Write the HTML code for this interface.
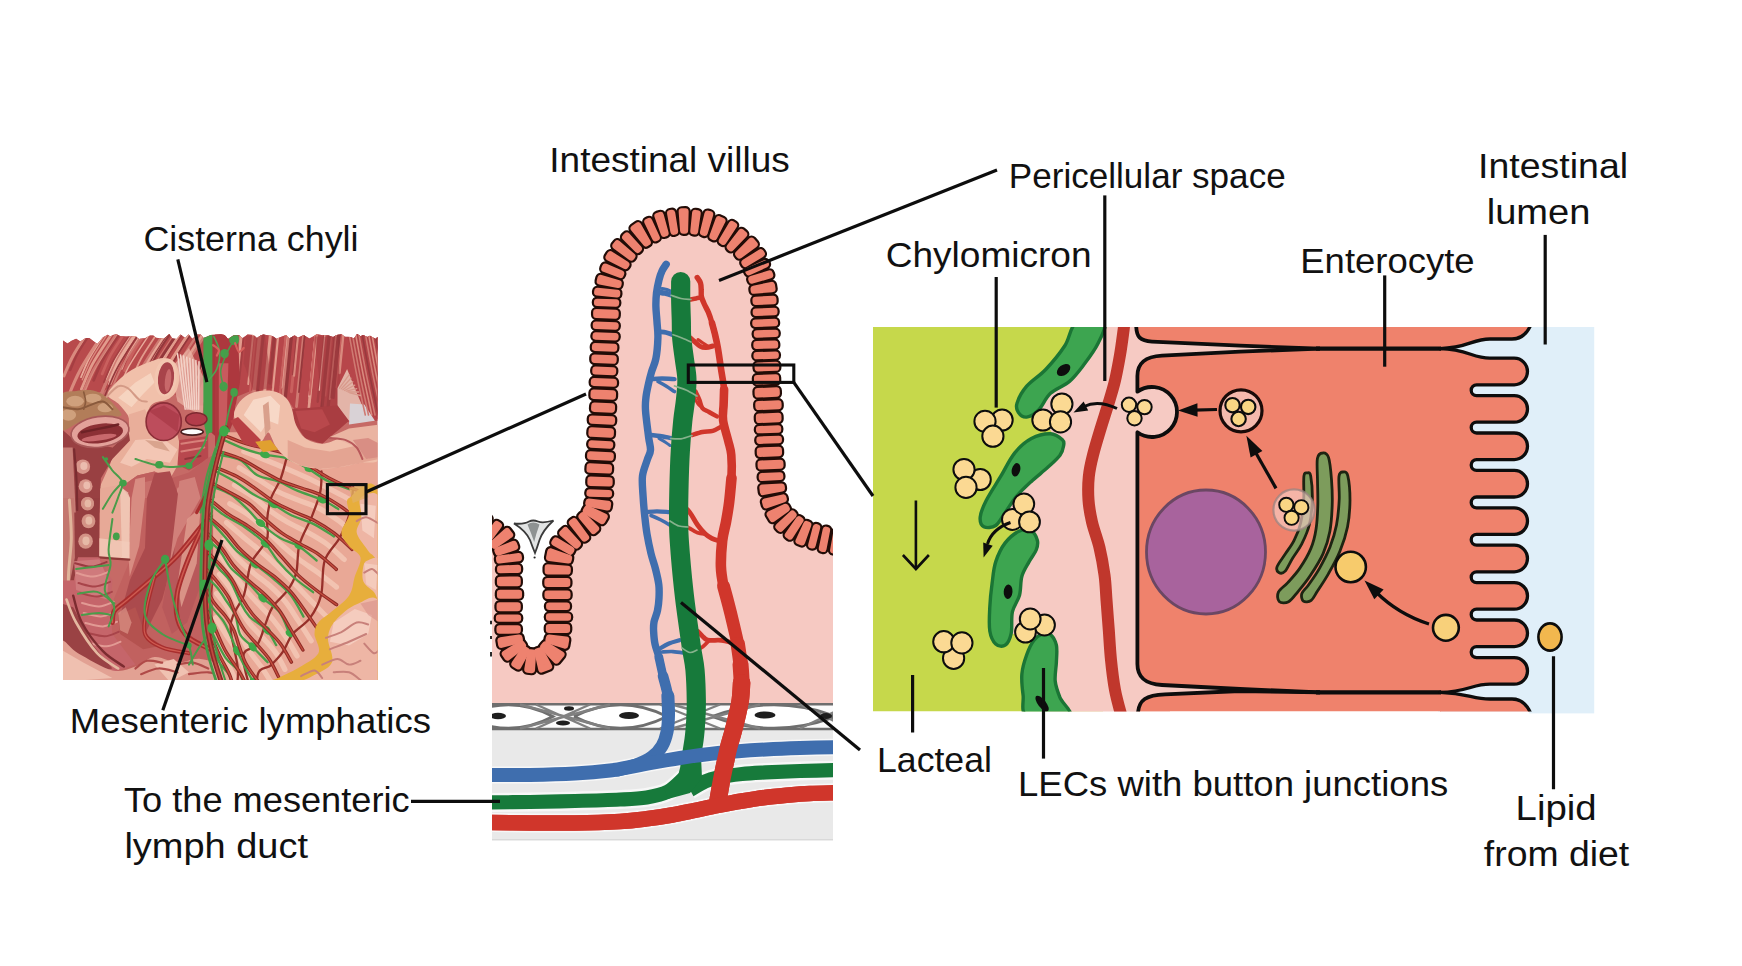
<!DOCTYPE html>
<html><head><meta charset="utf-8"><title>Intestinal lymphatics</title>
<style>html,body{margin:0;padding:0;background:#fff}svg{display:block}text{font-family:"Liberation Sans",sans-serif;fill:#111}</style>
</head><body>
<svg width="1742" height="966" viewBox="0 0 1742 966">
<rect width="1742" height="966" fill="#ffffff"/>
<defs><clipPath id="cpA"><polygon points="63.0,680.0 63.0,339.0 63.0,340.4 67.5,343.5 71.6,340.8 76.1,338.7 80.4,341.6 85.7,338.1 89.3,338.1 94.6,342.0 97.3,343.9 103.1,337.3 107.8,334.8 110.3,336.6 113.0,335.0 116.4,334.2 120.5,336.2 126.0,336.6 130.7,336.5 135.5,336.3 139.0,339.0 145.0,338.2 150.0,335.6 153.3,335.4 156.0,337.8 159.9,338.2 163.8,338.8 169.2,334.0 172.5,338.6 176.6,338.9 180.5,334.4 185.2,337.9 188.6,334.4 192.3,338.8 197.5,334.6 200.8,334.5 203.5,338.0 206.7,336.8 210.7,335.0 215.8,334.7 220.5,334.6 224.5,335.1 228.0,338.9 233.3,335.5 238.9,335.1 242.7,338.3 247.5,334.5 253.5,335.1 256.9,337.9 260.5,335.5 263.3,334.5 267.8,335.2 272.4,335.9 276.5,338.8 280.7,336.9 286.2,334.9 289.3,338.5 294.6,335.2 297.8,337.7 303.6,335.0 309.4,338.4 314.0,336.1 316.9,334.2 322.8,335.2 327.7,335.3 333.1,337.0 336.6,334.9 341.6,334.3 344.9,336.8 350.4,337.1 353.9,338.6 357.1,334.1 360.6,336.2 363.3,334.9 367.1,336.9 370.0,335.8 375.6,338.9 377.5,337.0 377.5,680.0"/></clipPath></defs>
<g clip-path="url(#cpA)">
<rect x="60" y="330" width="320" height="352" fill="#c66a66"/>
<polygon points="60.7,332.7 225.0,332.7 225.0,405.4 189.0,405.4 154.5,378.6 118.2,380.5 102.9,392.0 60.7,393.9" fill="#b84a4c" stroke="none" stroke-width="0" />
<polygon points="215.0,332.7 379.6,332.7 379.6,420.7 349.0,422.6 337.5,407.3 295.4,411.1 287.7,399.7 253.3,390.1 234.1,397.7 215.0,405.4" fill="#b7464a" stroke="none" stroke-width="0" />
<path d="M179.4,332.7C176.0,338.1 164.2,355.2 158.8,365.0C153.4,374.8 149.0,387.1 147.1,391.5" fill="none" stroke="#e8aa9a" stroke-width="2.631931376373605" stroke-linecap="round" stroke-linejoin="round" />
<path d="M198.6,332.7C196.4,336.1 188.9,347.0 185.5,353.2C182.1,359.4 179.3,367.2 178.0,370.0" fill="none" stroke="#cf7a72" stroke-width="2.4344697328590974" stroke-linecap="round" stroke-linejoin="round" />
<path d="M145.7,332.7C143.5,336.1 135.9,347.2 132.4,353.6C128.9,359.9 126.1,367.9 124.8,370.7" fill="none" stroke="#c9605e" stroke-width="3.07538477739629" stroke-linecap="round" stroke-linejoin="round" />
<path d="M105.5,332.7C102.9,336.7 94.0,349.7 89.9,357.1C85.9,364.5 82.5,373.7 81.0,377.1" fill="none" stroke="#e8aa9a" stroke-width="1.817945382237076" stroke-linecap="round" stroke-linejoin="round" />
<path d="M169.0,332.7C165.4,338.2 153.4,355.7 147.9,365.8C142.4,375.8 137.9,388.3 135.9,392.8" fill="none" stroke="#d98a7e" stroke-width="2.2626706134418217" stroke-linecap="round" stroke-linejoin="round" />
<path d="M150.4,332.7C146.8,338.3 134.5,356.2 128.9,366.4C123.3,376.6 118.7,389.4 116.7,394.0" fill="none" stroke="#e8aa9a" stroke-width="1.4005664603111132" stroke-linecap="round" stroke-linejoin="round" />
<path d="M112.5,332.7C109.2,337.8 97.9,354.3 92.7,363.7C87.6,373.1 83.3,384.9 81.4,389.1" fill="none" stroke="#e29b8c" stroke-width="2.7537233811486503" stroke-linecap="round" stroke-linejoin="round" />
<path d="M141.9,332.7C139.8,336.0 132.5,346.7 129.2,352.8C125.8,358.8 123.1,366.5 121.8,369.2" fill="none" stroke="#e8aa9a" stroke-width="1.2909298792772343" stroke-linecap="round" stroke-linejoin="round" />
<path d="M204.0,332.7C200.3,338.6 187.3,357.5 181.4,368.3C175.4,379.1 170.6,392.6 168.4,397.4" fill="none" stroke="#e29b8c" stroke-width="3.1122796204784993" stroke-linecap="round" stroke-linejoin="round" />
<path d="M135.5,332.7C131.7,338.6 118.7,357.5 112.8,368.3C106.8,379.2 102.0,392.7 99.8,397.5" fill="none" stroke="#cf7a72" stroke-width="3.1152515756901837" stroke-linecap="round" stroke-linejoin="round" />
<path d="M171.0,332.7C168.5,336.6 160.0,349.1 156.0,356.2C152.1,363.3 148.9,372.2 147.5,375.4" fill="none" stroke="#c9605e" stroke-width="1.3996710708003282" stroke-linecap="round" stroke-linejoin="round" />
<path d="M222.0,332.7C219.2,337.1 209.6,351.1 205.2,359.1C200.8,367.1 197.2,377.2 195.6,380.8" fill="none" stroke="#d98a7e" stroke-width="1.8430916805366842" stroke-linecap="round" stroke-linejoin="round" />
<path d="M108.3,332.7C105.5,337.0 96.1,350.7 91.8,358.6C87.4,366.5 83.9,376.3 82.3,379.8" fill="none" stroke="#d98a7e" stroke-width="1.3205442009895014" stroke-linecap="round" stroke-linejoin="round" />
<path d="M206.8,332.7C203.4,338.0 191.7,355.1 186.3,364.8C181.0,374.5 176.6,386.7 174.6,391.1" fill="none" stroke="#cf7a72" stroke-width="2.289510768707416" stroke-linecap="round" stroke-linejoin="round" />
<path d="M132.2,332.7C129.5,336.9 120.2,350.4 116.0,358.1C111.7,365.9 108.2,375.5 106.7,379.0" fill="none" stroke="#e8aa9a" stroke-width="1.6819074495268835" stroke-linecap="round" stroke-linejoin="round" />
<path d="M190.1,332.7C186.6,338.1 174.8,355.4 169.3,365.3C163.9,375.2 159.5,387.5 157.5,392.0" fill="none" stroke="#a53e42" stroke-width="1.4065011282166873" stroke-linecap="round" stroke-linejoin="round" />
<path d="M103.9,332.7C100.0,338.8 86.5,358.4 80.4,369.7C74.2,380.9 69.1,394.9 66.9,399.9" fill="none" stroke="#d98a7e" stroke-width="3.145219038917318" stroke-linecap="round" stroke-linejoin="round" />
<path d="M143.6,332.7C140.0,338.3 127.6,356.4 121.9,366.8C116.2,377.1 111.6,390.0 109.5,394.7" fill="none" stroke="#cf7a72" stroke-width="1.8894469785671575" stroke-linecap="round" stroke-linejoin="round" />
<path d="M138.8,332.7C135.8,337.3 125.6,352.3 120.9,360.8C116.2,369.3 112.4,379.9 110.7,383.8" fill="none" stroke="#d98a7e" stroke-width="2.2727414239251242" stroke-linecap="round" stroke-linejoin="round" />
<path d="M181.2,332.7C178.9,336.3 170.8,348.1 167.1,354.8C163.5,361.5 160.4,369.9 159.1,372.9" fill="none" stroke="#e29b8c" stroke-width="2.372168668369917" stroke-linecap="round" stroke-linejoin="round" />
<path d="M119.9,332.7C117.1,337.0 107.6,350.9 103.2,358.8C98.8,366.8 95.3,376.7 93.7,380.2" fill="none" stroke="#a53e42" stroke-width="2.8028849666751654" stroke-linecap="round" stroke-linejoin="round" />
<path d="M137.4,332.7C134.4,337.4 124.1,352.4 119.4,360.9C114.7,369.5 110.8,380.2 109.1,384.1" fill="none" stroke="#e8aa9a" stroke-width="2.154344005524864" stroke-linecap="round" stroke-linejoin="round" />
<path d="M177.8,332.7C174.0,338.6 161.1,357.3 155.2,368.1C149.4,378.8 144.5,392.2 142.4,397.0" fill="none" stroke="#93373b" stroke-width="2.7181717288039526" stroke-linecap="round" stroke-linejoin="round" />
<path d="M87.8,332.7C85.2,336.6 76.6,349.2 72.7,356.4C68.7,363.6 65.5,372.6 64.0,375.8" fill="none" stroke="#d98a7e" stroke-width="3.0807604070928045" stroke-linecap="round" stroke-linejoin="round" />
<path d="M157.6,332.7C154.8,337.0 145.3,350.8 141.0,358.7C136.6,366.7 133.1,376.5 131.5,380.1" fill="none" stroke="#e29b8c" stroke-width="1.7977760703846202" stroke-linecap="round" stroke-linejoin="round" />
<path d="M222.0,332.7C218.6,338.0 206.9,355.2 201.5,364.9C196.1,374.7 191.7,387.0 189.8,391.4" fill="none" stroke="#93373b" stroke-width="2.1993168816161255" stroke-linecap="round" stroke-linejoin="round" />
<path d="M124.9,332.7C122.5,336.4 114.2,348.5 110.4,355.3C106.7,362.2 103.6,370.8 102.2,373.9" fill="none" stroke="#c9605e" stroke-width="2.757301957696913" stroke-linecap="round" stroke-linejoin="round" />
<path d="M189.4,332.7C185.9,338.1 173.9,355.6 168.4,365.6C162.9,375.5 158.5,388.0 156.5,392.5" fill="none" stroke="#e29b8c" stroke-width="3.1927989919807485" stroke-linecap="round" stroke-linejoin="round" />
<path d="M90.9,332.7C88.7,336.1 81.2,347.0 77.8,353.2C74.4,359.5 71.5,367.3 70.3,370.1" fill="none" stroke="#a53e42" stroke-width="2.321428265972194" stroke-linecap="round" stroke-linejoin="round" />
<path d="M191.9,332.7C188.9,337.4 178.7,352.3 174.0,360.8C169.3,369.4 165.4,380.0 163.7,383.9" fill="none" stroke="#93373b" stroke-width="1.7564323828954258" stroke-linecap="round" stroke-linejoin="round" />
<path d="M139.2,332.7C137.0,336.1 129.5,347.0 126.1,353.2C122.6,359.5 119.8,367.3 118.6,370.1" fill="none" stroke="#c9605e" stroke-width="1.1225559082173655" stroke-linecap="round" stroke-linejoin="round" />
<path d="M166.3,332.7C162.3,338.9 148.7,358.8 142.4,370.2C136.2,381.6 131.0,395.8 128.8,401.0" fill="none" stroke="#e29b8c" stroke-width="2.8445444185698907" stroke-linecap="round" stroke-linejoin="round" />
<path d="M166.1,332.7C163.2,337.2 153.3,351.8 148.7,360.1C144.1,368.4 140.4,378.8 138.7,382.5" fill="none" stroke="#e8aa9a" stroke-width="1.2921093731140973" stroke-linecap="round" stroke-linejoin="round" />
<path d="M117.9,332.7C114.1,338.5 101.4,357.1 95.5,367.8C89.7,378.4 84.9,391.7 82.7,396.5" fill="none" stroke="#d98a7e" stroke-width="1.8205947811032814" stroke-linecap="round" stroke-linejoin="round" />
<path d="M135.9,332.7C132.1,338.5 119.3,357.2 113.4,367.9C107.5,378.6 102.7,392.0 100.6,396.8" fill="none" stroke="#cf7a72" stroke-width="1.9969408096999477" stroke-linecap="round" stroke-linejoin="round" />
<path d="M229.4,332.7C226.0,338.0 214.2,355.2 208.9,365.0C203.5,374.8 199.1,387.0 197.1,391.4" fill="none" stroke="#a53e42" stroke-width="1.9977879771015714" stroke-linecap="round" stroke-linejoin="round" />
<path d="M131.1,332.7C128.2,337.2 118.3,351.6 113.7,359.9C109.2,368.1 105.5,378.5 103.8,382.2" fill="none" stroke="#a53e42" stroke-width="1.6028781670350565" stroke-linecap="round" stroke-linejoin="round" />
<path d="M116.8,332.7C112.8,338.9 99.3,358.6 93.1,369.8C86.9,381.1 81.8,395.2 79.6,400.3" fill="none" stroke="#cf7a72" stroke-width="1.8294016451278403" stroke-linecap="round" stroke-linejoin="round" />
<path d="M170.9,332.7C168.4,336.5 160.0,348.8 156.1,355.9C152.2,362.9 149.1,371.7 147.6,374.9" fill="none" stroke="#93373b" stroke-width="2.0985093914654676" stroke-linecap="round" stroke-linejoin="round" />
<path d="M164.0,332.7C160.3,338.6 147.4,357.4 141.4,368.2C135.5,379.0 130.7,392.4 128.5,397.3" fill="none" stroke="#cf7a72" stroke-width="2.1333935195240508" stroke-linecap="round" stroke-linejoin="round" />
<path d="M136.4,332.7C133.6,337.1 124.0,351.0 119.6,359.0C115.2,367.0 111.6,377.0 110.0,380.6" fill="none" stroke="#e8aa9a" stroke-width="2.729249675194427" stroke-linecap="round" stroke-linejoin="round" />
<path d="M168.6,332.7C165.8,337.1 156.1,351.1 151.7,359.2C147.3,367.2 143.7,377.2 142.1,380.9" fill="none" stroke="#93373b" stroke-width="1.075500776404181" stroke-linecap="round" stroke-linejoin="round" />
<path d="M183.4,332.7C180.8,336.8 171.8,349.9 167.6,357.4C163.5,364.9 160.1,374.3 158.6,377.7" fill="none" stroke="#a53e42" stroke-width="1.6178745227866729" stroke-linecap="round" stroke-linejoin="round" />
<path d="M229.4,332.7C226.1,337.9 214.6,354.7 209.3,364.3C204.0,373.9 199.7,385.9 197.8,390.2" fill="none" stroke="#93373b" stroke-width="2.575167644370157" stroke-linecap="round" stroke-linejoin="round" />
<path d="M174.9,332.7C171.4,338.3 159.0,356.3 153.4,366.5C147.8,376.8 143.1,389.6 141.1,394.2" fill="none" stroke="#cf7a72" stroke-width="1.025477445449445" stroke-linecap="round" stroke-linejoin="round" />
<path d="M139.6,332.7C136.0,338.4 123.4,356.8 117.6,367.3C111.8,377.8 107.1,390.9 105.0,395.6" fill="none" stroke="#93373b" stroke-width="1.602107238907112" stroke-linecap="round" stroke-linejoin="round" />
<path d="M329.7,332.7C329.3,336.9 328.0,349.7 327.1,358.3C326.3,366.8 325.0,379.6 324.6,383.9" fill="none" stroke="#c9605e" stroke-width="2.914302272020053" stroke-linecap="round" stroke-linejoin="round" />
<path d="M286.9,332.7C286.5,337.2 285.1,350.7 284.2,359.8C283.3,368.8 282.0,382.4 281.5,386.9" fill="none" stroke="#ebb0a2" stroke-width="3.2500364392075896" stroke-linecap="round" stroke-linejoin="round" />
<path d="M357.4,332.7C359.5,339.3 365.9,359.1 370.1,372.4C374.3,385.6 380.7,405.5 382.8,412.1" fill="none" stroke="#9d3a3e" stroke-width="3.0877870059067867" stroke-linecap="round" stroke-linejoin="round" />
<path d="M373.5,332.7C374.8,336.7 378.6,348.7 381.2,356.8C383.8,364.8 387.6,376.8 388.9,380.8" fill="none" stroke="#96383c" stroke-width="2.243534633073655" stroke-linecap="round" stroke-linejoin="round" />
<path d="M289.3,332.7C288.7,338.3 287.0,355.3 285.9,366.7C284.7,378.0 283.0,395.0 282.5,400.7" fill="none" stroke="#cf7a72" stroke-width="3.0492515053255365" stroke-linecap="round" stroke-linejoin="round" />
<path d="M339.9,332.7C339.4,338.1 337.8,354.3 336.7,365.2C335.6,376.0 334.0,392.2 333.4,397.7" fill="none" stroke="#96383c" stroke-width="2.7528482213610417" stroke-linecap="round" stroke-linejoin="round" />
<path d="M370.6,332.7C372.0,337.0 376.2,350.1 379.0,358.8C381.8,367.6 386.0,380.7 387.4,385.0" fill="none" stroke="#ebb0a2" stroke-width="2.239492446164302" stroke-linecap="round" stroke-linejoin="round" />
<path d="M316.3,332.7C315.8,338.4 314.0,355.7 312.9,367.2C311.7,378.8 310.0,396.1 309.4,401.8" fill="none" stroke="#cf7a72" stroke-width="3.081107532445192" stroke-linecap="round" stroke-linejoin="round" />
<path d="M241.9,332.7C241.3,338.1 239.7,354.4 238.6,365.3C237.5,376.2 235.9,392.5 235.4,397.9" fill="none" stroke="#9d3a3e" stroke-width="1.3840553626975096" stroke-linecap="round" stroke-linejoin="round" />
<path d="M263.6,332.7C263.0,338.1 261.4,354.5 260.3,365.4C259.2,376.4 257.6,392.8 257.0,398.2" fill="none" stroke="#96383c" stroke-width="2.8215931717030505" stroke-linecap="round" stroke-linejoin="round" />
<path d="M243.9,332.7C243.5,336.6 242.3,348.3 241.6,356.1C240.8,363.9 239.6,375.6 239.2,379.5" fill="none" stroke="#a53e42" stroke-width="2.131805210943698" stroke-linecap="round" stroke-linejoin="round" />
<path d="M364.3,332.7C365.9,337.6 370.7,352.5 373.8,362.5C377.0,372.4 381.8,387.3 383.4,392.3" fill="none" stroke="#96383c" stroke-width="1.2659892019751817" stroke-linecap="round" stroke-linejoin="round" />
<path d="M315.7,332.7C315.2,337.3 313.8,351.2 312.9,360.4C312.0,369.7 310.6,383.5 310.1,388.1" fill="none" stroke="#c9605e" stroke-width="1.9971754574536709" stroke-linecap="round" stroke-linejoin="round" />
<path d="M324.6,332.7C324.1,338.4 322.3,355.7 321.2,367.2C320.0,378.7 318.3,396.0 317.7,401.7" fill="none" stroke="#a53e42" stroke-width="2.416394565183513" stroke-linecap="round" stroke-linejoin="round" />
<path d="M291.0,332.7C290.3,338.9 288.5,357.5 287.2,370.0C286.0,382.4 284.1,401.1 283.5,407.3" fill="none" stroke="#cf7a72" stroke-width="1.8412489188678693" stroke-linecap="round" stroke-linejoin="round" />
<path d="M360.7,332.7C362.8,339.2 369.1,359.0 373.3,372.1C377.6,385.3 383.9,405.0 386.0,411.6" fill="none" stroke="#c9605e" stroke-width="2.653252837026776" stroke-linecap="round" stroke-linejoin="round" />
<path d="M315.9,332.7C315.4,337.8 313.8,353.4 312.8,363.7C311.7,374.1 310.2,389.6 309.7,394.8" fill="none" stroke="#cf7a72" stroke-width="1.7233178692130147" stroke-linecap="round" stroke-linejoin="round" />
<path d="M286.1,332.7C285.4,338.8 283.6,357.0 282.4,369.2C281.2,381.4 279.3,399.7 278.7,405.8" fill="none" stroke="#c9605e" stroke-width="2.3941509716485463" stroke-linecap="round" stroke-linejoin="round" />
<path d="M297.3,332.7C296.9,337.6 295.4,352.3 294.4,362.2C293.4,372.0 291.9,386.7 291.4,391.7" fill="none" stroke="#c9605e" stroke-width="2.9511756401762983" stroke-linecap="round" stroke-linejoin="round" />
<path d="M260.2,332.7C259.5,339.2 257.6,358.9 256.2,372.0C254.9,385.1 253.0,404.8 252.3,411.3" fill="none" stroke="#9d3a3e" stroke-width="1.9185912769530855" stroke-linecap="round" stroke-linejoin="round" />
<path d="M375.1,332.7C377.1,338.8 382.9,357.1 386.8,369.3C390.7,381.5 396.6,399.8 398.5,405.9" fill="none" stroke="#c9605e" stroke-width="2.4606637434511995" stroke-linecap="round" stroke-linejoin="round" />
<path d="M331.7,332.7C331.2,337.9 329.6,353.6 328.6,364.1C327.5,374.6 325.9,390.4 325.4,395.6" fill="none" stroke="#c9605e" stroke-width="1.9164491672739685" stroke-linecap="round" stroke-linejoin="round" />
<path d="M325.1,332.7C324.6,337.4 323.2,351.8 322.2,361.4C321.3,371.0 319.9,385.3 319.4,390.1" fill="none" stroke="#ebb0a2" stroke-width="1.3376811622161828" stroke-linecap="round" stroke-linejoin="round" />
<path d="M376.3,332.7C378.5,339.3 384.8,359.1 389.0,372.3C393.3,385.5 399.6,405.3 401.7,412.0" fill="none" stroke="#9d3a3e" stroke-width="2.184184484925769" stroke-linecap="round" stroke-linejoin="round" />
<path d="M291.8,332.7C291.2,338.0 289.6,354.0 288.6,364.7C287.5,375.4 285.9,391.5 285.4,396.8" fill="none" stroke="#96383c" stroke-width="3.3067338321500634" stroke-linecap="round" stroke-linejoin="round" />
<path d="M274.8,332.7C274.4,336.8 273.1,349.4 272.3,357.8C271.4,366.2 270.2,378.8 269.8,383.0" fill="none" stroke="#9d3a3e" stroke-width="3.3543533498192315" stroke-linecap="round" stroke-linejoin="round" />
<path d="M240.8,332.7C240.3,337.7 238.8,352.6 237.8,362.6C236.8,372.6 235.3,387.6 234.8,392.6" fill="none" stroke="#cf7a72" stroke-width="3.268422555642304" stroke-linecap="round" stroke-linejoin="round" />
<path d="M278.5,332.7C278.0,338.2 276.3,354.9 275.2,366.0C274.1,377.2 272.4,393.8 271.9,399.4" fill="none" stroke="#e29b8c" stroke-width="2.1446456794221684" stroke-linecap="round" stroke-linejoin="round" />
<path d="M374.1,332.7C376.0,338.6 381.7,356.5 385.6,368.5C389.4,380.4 395.1,398.3 397.0,404.3" fill="none" stroke="#d98a7e" stroke-width="1.5892007343727905" stroke-linecap="round" stroke-linejoin="round" />
<path d="M355.1,332.7C356.4,336.8 360.4,349.3 363.1,357.7C365.8,366.0 369.8,378.5 371.1,382.6" fill="none" stroke="#cf7a72" stroke-width="1.031687911992608" stroke-linecap="round" stroke-linejoin="round" />
<path d="M305.2,332.7C304.7,336.9 303.5,349.6 302.6,358.1C301.8,366.6 300.5,379.4 300.1,383.6" fill="none" stroke="#9d3a3e" stroke-width="1.0882310553609162" stroke-linecap="round" stroke-linejoin="round" />
<path d="M259.9,332.7C259.4,337.7 257.9,352.7 256.9,362.7C255.9,372.7 254.4,387.7 253.9,392.7" fill="none" stroke="#cf7a72" stroke-width="3.373180489880954" stroke-linecap="round" stroke-linejoin="round" />
<path d="M378.6,332.7C379.7,336.1 382.9,346.3 385.1,353.1C387.3,359.9 390.6,370.1 391.6,373.5" fill="none" stroke="#e29b8c" stroke-width="2.24372574051994" stroke-linecap="round" stroke-linejoin="round" />
<path d="M255.8,332.7C255.3,338.1 253.7,354.3 252.6,365.1C251.5,375.9 249.9,392.1 249.3,397.5" fill="none" stroke="#c9605e" stroke-width="1.6776338672667368" stroke-linecap="round" stroke-linejoin="round" />
<path d="M341.6,332.7C341.1,337.2 339.7,350.9 338.8,360.0C337.9,369.1 336.6,382.8 336.1,387.4" fill="none" stroke="#c9605e" stroke-width="1.0638779961646212" stroke-linecap="round" stroke-linejoin="round" />
<path d="M343.5,332.7C343.2,336.0 342.2,346.1 341.5,352.8C340.8,359.5 339.8,369.6 339.5,373.0" fill="none" stroke="#d98a7e" stroke-width="2.417931272968285" stroke-linecap="round" stroke-linejoin="round" />
<path d="M316.3,332.7C315.7,339.0 313.8,358.0 312.6,370.6C311.3,383.3 309.4,402.2 308.8,408.6" fill="none" stroke="#e29b8c" stroke-width="2.6457589253766516" stroke-linecap="round" stroke-linejoin="round" />
<path d="M315.3,332.7C314.7,338.0 313.1,354.0 312.1,364.7C311.0,375.4 309.4,391.4 308.9,396.8" fill="none" stroke="#ebb0a2" stroke-width="1.0349452393592093" stroke-linecap="round" stroke-linejoin="round" />
<path d="M335.6,332.7C335.0,338.9 333.1,357.6 331.8,370.0C330.6,382.5 328.7,401.2 328.1,407.4" fill="none" stroke="#9d3a3e" stroke-width="3.287842797617352" stroke-linecap="round" stroke-linejoin="round" />
<path d="M357.1,332.7C359.2,339.0 365.3,358.1 369.4,370.8C373.4,383.6 379.5,402.6 381.6,409.0" fill="none" stroke="#a53e42" stroke-width="2.1417273353075803" stroke-linecap="round" stroke-linejoin="round" />
<path d="M303.9,332.7C303.2,338.8 301.4,357.3 300.2,369.6C298.9,381.9 297.1,400.3 296.5,406.5" fill="none" stroke="#cf7a72" stroke-width="2.8196721446404625" stroke-linecap="round" stroke-linejoin="round" />
<path d="M336.4,332.7C335.8,338.2 334.2,354.7 333.1,365.8C332.0,376.8 330.3,393.4 329.8,398.9" fill="none" stroke="#cf7a72" stroke-width="2.0387682422777282" stroke-linecap="round" stroke-linejoin="round" />
<path d="M304.9,332.7C304.4,337.6 302.9,352.5 301.9,362.4C300.9,372.3 299.5,387.1 299.0,392.1" fill="none" stroke="#96383c" stroke-width="1.7462815846684725" stroke-linecap="round" stroke-linejoin="round" />
<path d="M315.8,332.7C315.2,337.8 313.7,353.3 312.7,363.6C311.6,373.9 310.1,389.3 309.6,394.5" fill="none" stroke="#c9605e" stroke-width="2.194436615221295" stroke-linecap="round" stroke-linejoin="round" />
<path d="M298.3,332.7C297.9,336.2 296.8,347.0 296.1,354.1C295.4,361.3 294.3,372.0 294.0,375.6" fill="none" stroke="#d98a7e" stroke-width="2.299374946567232" stroke-linecap="round" stroke-linejoin="round" />
<path d="M270.6,332.7C270.0,338.2 268.3,355.0 267.2,366.1C266.1,377.2 264.4,394.0 263.9,399.5" fill="none" stroke="#e29b8c" stroke-width="2.9670249656175884" stroke-linecap="round" stroke-linejoin="round" />
<path d="M241.6,332.7C240.9,339.4 238.9,359.4 237.6,372.8C236.2,386.2 234.2,406.3 233.6,413.0" fill="none" stroke="#e29b8c" stroke-width="2.7342366056919607" stroke-linecap="round" stroke-linejoin="round" />
<path d="M337.3,332.7C336.9,336.7 335.7,349.0 334.9,357.2C334.0,365.3 332.8,377.6 332.4,381.7" fill="none" stroke="#e29b8c" stroke-width="1.1173430166848006" stroke-linecap="round" stroke-linejoin="round" />
<path d="M329.5,332.7C328.8,339.3 326.8,359.4 325.4,372.7C324.1,386.1 322.1,406.1 321.4,412.8" fill="none" stroke="#96383c" stroke-width="3.2853880306092957" stroke-linecap="round" stroke-linejoin="round" />
<path d="M338.0,332.7C337.4,338.1 335.8,354.2 334.7,365.0C333.6,375.8 332.0,392.0 331.5,397.4" fill="none" stroke="#96383c" stroke-width="2.0511289623331423" stroke-linecap="round" stroke-linejoin="round" />
<path d="M296.6,332.7C296.3,336.2 295.2,346.6 294.5,353.6C293.8,360.6 292.8,371.1 292.4,374.6" fill="none" stroke="#a53e42" stroke-width="1.3868317437272297" stroke-linecap="round" stroke-linejoin="round" />
<path d="M253.3,332.7C252.9,336.9 251.6,349.8 250.7,358.4C249.9,367.0 248.6,379.8 248.2,384.1" fill="none" stroke="#e29b8c" stroke-width="1.9100777342115531" stroke-linecap="round" stroke-linejoin="round" />
<polygon points="245.6,336.5 264.8,334.6 272.4,388.2 253.3,390.1 243.7,363.3" fill="#a63e42" stroke="none" stroke-width="0" opacity="0.55"/>
<polygon points="314.5,336.5 337.5,336.5 341.4,405.4 322.2,407.3" fill="#a43c40" stroke="none" stroke-width="0" opacity="0.5"/>
<polygon points="347.1,336.5 352.8,332.7 379.6,332.7 379.6,420.7 372.4,415.0 360.5,382.4" fill="#b24246" stroke="none" stroke-width="0" />
<polygon points="337.5,388.2 347.1,369.0 354.8,388.2 366.2,415.0 368.2,420.7 347.1,420.7 337.5,405.4" fill="#e3b4a8" stroke="none" stroke-width="0" />
<polygon points="350.0,403.5 364.3,404.4 374.9,420.7 349.0,424.5" fill="#d9d2d6" stroke="none" stroke-width="0" />
<path d="M349.0,333.6C350.3,340.5 354.0,361.2 356.7,374.8C359.4,388.3 363.8,408.3 365.3,415.0" fill="none" stroke="#cf7a72" stroke-width="1.6" stroke-linecap="round" stroke-linejoin="round" />
<path d="M352.3,333.6C353.5,340.5 357.2,361.2 359.9,374.8C362.6,388.3 367.1,408.3 368.5,415.0" fill="none" stroke="#cf7a72" stroke-width="1.6" stroke-linecap="round" stroke-linejoin="round" />
<path d="M355.5,333.6C356.8,340.5 360.5,361.2 363.2,374.8C365.9,388.3 370.4,408.3 371.8,415.0" fill="none" stroke="#d98a7e" stroke-width="1.6" stroke-linecap="round" stroke-linejoin="round" />
<path d="M358.8,333.6C360.0,340.5 363.7,361.2 366.4,374.8C369.1,388.3 373.6,408.3 375.0,415.0" fill="none" stroke="#cf7a72" stroke-width="1.6" stroke-linecap="round" stroke-linejoin="round" />
<path d="M362.0,333.6C363.3,340.5 367.0,361.2 369.7,374.8C372.4,388.3 376.9,408.3 378.3,415.0" fill="none" stroke="#973a3e" stroke-width="1.6" stroke-linecap="round" stroke-linejoin="round" />
<path d="M365.3,333.6C366.6,340.5 370.2,361.2 372.9,374.8C375.7,388.3 380.1,408.3 381.6,415.0" fill="none" stroke="#cf7a72" stroke-width="1.6" stroke-linecap="round" stroke-linejoin="round" />
<path d="M368.5,333.6C369.8,340.5 373.5,361.2 376.2,374.8C378.9,388.3 383.4,408.3 384.8,415.0" fill="none" stroke="#d98a7e" stroke-width="1.6" stroke-linecap="round" stroke-linejoin="round" />
<path d="M371.8,333.6C373.1,340.5 376.7,361.2 379.4,374.8C382.2,388.3 386.6,408.3 388.1,415.0" fill="none" stroke="#d98a7e" stroke-width="1.6" stroke-linecap="round" stroke-linejoin="round" />
<path d="M375.0,333.6C376.3,340.5 380.0,361.2 382.7,374.8C385.4,388.3 389.9,408.3 391.3,415.0" fill="none" stroke="#973a3e" stroke-width="1.6" stroke-linecap="round" stroke-linejoin="round" />
<path d="M339.4,388.2C341.0,385.9 347.4,377.0 349.0,374.8" fill="none" stroke="#d89a8c" stroke-width="1.3" stroke-linecap="round" stroke-linejoin="round" />
<path d="M341.2,388.9C342.8,387.2 349.3,380.0 350.9,378.2" fill="none" stroke="#d89a8c" stroke-width="1.3" stroke-linecap="round" stroke-linejoin="round" />
<path d="M342.9,389.7C344.5,388.4 351.2,383.0 352.8,381.7" fill="none" stroke="#d89a8c" stroke-width="1.3" stroke-linecap="round" stroke-linejoin="round" />
<path d="M344.6,390.5C346.3,389.6 353.1,386.0 354.8,385.1" fill="none" stroke="#d89a8c" stroke-width="1.3" stroke-linecap="round" stroke-linejoin="round" />
<path d="M346.3,391.2C348.1,390.8 354.9,389.0 356.7,388.6" fill="none" stroke="#d89a8c" stroke-width="1.3" stroke-linecap="round" stroke-linejoin="round" />
<path d="M348.1,392.0C349.8,392.0 356.8,392.0 358.6,392.0" fill="none" stroke="#d89a8c" stroke-width="1.3" stroke-linecap="round" stroke-linejoin="round" />
<path d="M349.8,392.8C351.6,393.2 358.7,395.0 360.5,395.5" fill="none" stroke="#d89a8c" stroke-width="1.3" stroke-linecap="round" stroke-linejoin="round" />
<polygon points="169.9,369.0 189.0,348.0 206.2,382.4 202.4,415.0 189.0,409.2 177.5,401.6" fill="#e9b3a4" stroke="none" stroke-width="0" opacity="0.75"/>
<path d="M177.5,353.7C178.2,358.5 180.1,373.2 181.4,382.4C182.6,391.7 184.5,404.8 185.2,409.2" fill="none" stroke="#f3d2c8" stroke-width="1.5" stroke-linecap="round" stroke-linejoin="round" />
<path d="M180.6,354.9C181.1,359.6 182.8,374.1 183.8,383.2C184.9,392.3 186.6,404.9 187.1,409.2" fill="none" stroke="#f3d2c8" stroke-width="1.5" stroke-linecap="round" stroke-linejoin="round" />
<path d="M183.6,356.0C184.1,360.7 185.4,375.1 186.3,384.0C187.2,392.8 188.6,405.0 189.0,409.2" fill="none" stroke="#f3d2c8" stroke-width="1.5" stroke-linecap="round" stroke-linejoin="round" />
<path d="M186.7,357.2C187.1,361.8 188.1,376.1 188.8,384.7C189.5,393.4 190.6,405.2 190.9,409.2" fill="none" stroke="#f3d2c8" stroke-width="1.5" stroke-linecap="round" stroke-linejoin="round" />
<path d="M189.8,358.3C190.0,362.8 190.8,377.0 191.3,385.5C191.8,394.0 192.6,405.3 192.8,409.2" fill="none" stroke="#f3d2c8" stroke-width="1.5" stroke-linecap="round" stroke-linejoin="round" />
<path d="M192.8,359.5C193.0,363.9 193.5,378.0 193.8,386.3C194.1,394.6 194.6,405.4 194.8,409.2" fill="none" stroke="#f3d2c8" stroke-width="1.5" stroke-linecap="round" stroke-linejoin="round" />
<path d="M195.9,360.6C196.0,365.0 196.2,378.9 196.3,387.0C196.4,395.1 196.6,405.5 196.7,409.2" fill="none" stroke="#f3d2c8" stroke-width="1.5" stroke-linecap="round" stroke-linejoin="round" />
<path d="M199.0,361.8C198.9,366.1 198.8,379.9 198.8,387.8C198.7,395.7 198.6,405.7 198.6,409.2" fill="none" stroke="#f3d2c8" stroke-width="1.5" stroke-linecap="round" stroke-linejoin="round" />
<polygon points="211.0,332.7 227.3,332.7 227.3,447.5 219.6,439.9 211.0,432.2" fill="#a8353b" stroke="none" stroke-width="0" />
<polygon points="215.0,332.7 238.0,332.7 239.9,382.4 232.2,424.5 222.7,447.5 215.0,447.5" fill="#ad383e" stroke="none" stroke-width="0" />
<polygon points="218.8,363.3 228.4,363.3 226.5,424.5 218.8,432.2" fill="#c85a5e" stroke="none" stroke-width="0" />
<polygon points="203.4,332.7 212.4,332.7 212.4,432.2 206.2,434.1 203.4,420.7" fill="#449f49" stroke="none" stroke-width="0" />
<path d="M213.9,336.5C214.9,339.0 219.2,346.4 219.6,351.8C220.1,357.2 218.7,364.2 216.8,369.0C214.9,373.8 209.6,378.6 208.2,380.5" fill="none" stroke="#4ea552" stroke-width="1.6" stroke-linecap="round" stroke-linejoin="round" />
<ellipse cx="234.1" cy="339.4" rx="5.0" ry="5.7" fill="#44a04a" stroke="none" stroke-width="0" />
<ellipse cx="224.6" cy="353.7" rx="4.2" ry="4.8" fill="#44a04a" stroke="none" stroke-width="0" />
<ellipse cx="223.6" cy="386.6" rx="4.2" ry="4.8" fill="#44a04a" stroke="none" stroke-width="0" />
<ellipse cx="234.1" cy="392.4" rx="3.8" ry="4.4" fill="#44a04a" stroke="none" stroke-width="0" />
<ellipse cx="224.6" cy="432.2" rx="5.4" ry="6.2" fill="#44a04a" stroke="none" stroke-width="0" />
<path d="M234.1,339.4C232.9,341.8 228.7,348.5 226.5,353.7C224.3,359.0 221.2,365.5 220.7,370.9C220.3,376.4 223.1,384.0 223.6,386.6" fill="none" stroke="#4b9c4c" stroke-width="1.6" stroke-linecap="round" stroke-linejoin="round" />
<path d="M234.1,392.4C233.2,395.8 230.0,406.4 228.4,413.1C226.8,419.7 226.2,424.5 224.6,432.2C223.0,439.9 219.8,454.5 218.8,459.0" fill="none" stroke="#4b9c4c" stroke-width="1.8" stroke-linecap="round" stroke-linejoin="round" />
<path d="M213.1,345.1C214.0,345.9 218.2,348.1 218.8,349.9C219.5,351.6 217.2,354.7 216.9,355.6" fill="none" stroke="#d8605c" stroke-width="2.2" stroke-linecap="round" stroke-linejoin="round" />
<path d="M235.1,343.2C235.7,344.6 237.5,351.0 238.9,351.8C240.4,352.6 242.9,348.6 243.7,348.0" fill="none" stroke="#d8605c" stroke-width="2.2" stroke-linecap="round" stroke-linejoin="round" />
<path d="M60.7,396.2C63.3,389.8 70.6,392.0 76.1,391.0C81.5,390.1 88.4,389.6 93.3,390.5C98.1,391.3 101.6,393.7 105.2,396.2C108.7,398.7 112.0,402.3 114.7,405.4C117.5,408.5 122.0,413.1 121.6,415.0C121.2,416.9 117.2,416.4 112.4,416.9C107.7,417.4 99.0,417.0 93.3,418.0C87.5,419.1 83.4,421.1 78.0,423.0C72.5,424.9 63.6,433.8 60.7,429.3C57.9,424.9 58.2,402.6 60.7,396.2Z" fill="#b27d59" stroke="none" stroke-width="0" stroke-linecap="round" stroke-linejoin="round" />
<ellipse cx="75.1" cy="401.2" rx="8.8" ry="5.4" fill="#cfa07c" stroke="none" stroke-width="0" />
<ellipse cx="92.9" cy="398.3" rx="8.4" ry="4.6" fill="#cfa07c" stroke="none" stroke-width="0" />
<ellipse cx="105.2" cy="407.7" rx="7.7" ry="4.6" fill="#cfa07c" stroke="none" stroke-width="0" />
<ellipse cx="68.4" cy="415.0" rx="7.7" ry="5.7" fill="#cfa07c" stroke="none" stroke-width="0" />
<path d="M62.7,407.3C65.2,407.6 73.5,409.6 78.0,409.2C82.4,408.9 85.3,406.7 89.5,405.4C93.6,404.1 99.0,400.9 102.9,401.6C106.7,402.2 110.8,408.0 112.4,409.2" fill="none" stroke="#8a5a3c" stroke-width="2.0" stroke-linecap="round" stroke-linejoin="round" />
<path d="M83.7,392.0C84.0,393.6 85.6,398.7 85.6,401.6C85.6,404.4 84.0,408.0 83.7,409.2" fill="none" stroke="#8a5a3c" stroke-width="1.6" stroke-linecap="round" stroke-linejoin="round" />
<path d="M107.6,394.9C107.3,391.4 112.3,386.6 116.3,382.4C120.2,378.3 125.8,373.5 131.6,370.0C137.3,366.5 145.3,363.4 150.7,361.4C156.1,359.4 160.0,357.7 164.1,357.9C168.2,358.2 172.7,359.8 175.2,362.9C177.7,366.0 178.9,371.9 179.1,376.7C179.2,381.5 177.9,387.9 176.0,391.6C174.1,395.4 171.5,397.2 167.6,399.3C163.7,401.3 156.4,401.3 152.6,403.9C148.9,406.5 148.5,411.5 145.0,415.0C141.5,418.4 134.4,424.5 131.6,424.5C128.7,424.5 130.0,418.5 127.7,415.0C125.5,411.5 121.5,406.8 118.2,403.5C114.8,400.1 108.0,398.4 107.6,394.9Z" fill="#f1c0aa" stroke="none" stroke-width="0" stroke-linecap="round" stroke-linejoin="round" />
<polygon points="128.7,414.6 145.0,409.2 151.7,424.5 177.5,435.1 181.0,449.4 177.9,464.8 170.2,478.5 154.5,471.5 137.3,475.5 124.9,484.3 119.7,512.6 100.6,512.6 99.4,487.7 110.5,463.2 112.4,447.5 129.3,432.2" fill="#e9ae9a" stroke="none" stroke-width="0" />
<polygon points="118.2,397.7 135.4,382.4 150.7,372.9 154.5,382.4 143.1,393.9 131.6,407.3" fill="#f8d8c6" stroke="none" stroke-width="0" opacity="0.8"/>
<polygon points="135.4,439.9 162.2,438.0 177.5,449.4 169.9,462.8 146.9,459.0 131.6,466.7 120.1,462.8" fill="#f4cab8" stroke="none" stroke-width="0" opacity="0.85"/>
<polygon points="145.0,439.9 162.2,441.8 169.9,451.4 154.5,447.5" fill="#d9a48e" stroke="none" stroke-width="0" />
<ellipse cx="165.7" cy="377.6" rx="11.1" ry="19.1" fill="#f3c6b0" stroke="none" stroke-width="0" transform="rotate(6 165.7 377.6)" />
<ellipse cx="166.0" cy="378.2" rx="8.0" ry="16.1" fill="#a8434a" stroke="none" stroke-width="0" transform="rotate(6 166.0 378.2)" />
<ellipse cx="168.0" cy="380.5" rx="3.1" ry="11.5" fill="#c8686a" stroke="none" stroke-width="0" transform="rotate(6 168.0 380.5)" />
<path d="M106.7,396.8C108.6,395.0 114.7,387.7 118.2,386.3C121.7,384.8 124.2,385.9 127.7,388.2C131.3,390.4 136.0,397.4 139.2,399.7C142.4,401.9 145.6,401.3 146.9,401.6" fill="none" stroke="#d49a86" stroke-width="2" stroke-linecap="round" stroke-linejoin="round" />
<ellipse cx="163.7" cy="421.7" rx="17.6" ry="18.8" fill="#bd4d5c" stroke="#8c2e38" stroke-width="1.6" />
<polygon points="148.8,411.1 164.1,405.4 179.4,415.0 177.5,432.2 162.2,420.7" fill="#a83846" stroke="none" stroke-width="0" opacity="0.7"/>
<ellipse cx="196.3" cy="419.2" rx="10.7" ry="6.5" fill="#b23c4a" stroke="#7e2830" stroke-width="1.4" />
<ellipse cx="192.1" cy="431.8" rx="11.1" ry="3.3" fill="#fbfbfb" stroke="#4a1e1e" stroke-width="1.6" />
<polygon points="179.4,439.9 208.2,436.0 208.2,459.0 189.0,470.5 177.5,464.8" fill="#b8484e" stroke="none" stroke-width="0" />
<path d="M181.4,443.7C185.5,443.1 202.1,440.5 206.2,439.9" fill="none" stroke="#d8807a" stroke-width="2" stroke-linecap="round" stroke-linejoin="round" />
<path d="M181.4,451.4C185.2,450.7 200.5,448.2 204.3,447.5" fill="none" stroke="#d8807a" stroke-width="2" stroke-linecap="round" stroke-linejoin="round" />
<path d="M185.2,459.0C187.7,458.5 197.9,456.6 200.5,456.1" fill="none" stroke="#92343a" stroke-width="2" stroke-linecap="round" stroke-linejoin="round" />
<polygon points="60.7,428.4 74.1,439.9 112.4,447.5 128.7,432.2 130.0,440.6 112.4,459.0 100.9,478.2 99.4,512.6 60.7,512.6" fill="#994042" stroke="none" stroke-width="0" />
<polygon points="60.7,498.1 99.4,498.1 99.4,557.4 78.0,557.4 74.1,580.4 60.7,580.4" fill="#953e40" stroke="none" stroke-width="0" />
<ellipse cx="100.0" cy="431.8" rx="29.1" ry="15.3" fill="#e3a19a" stroke="#a85858" stroke-width="1.6" transform="rotate(-8 100.0 431.8)" />
<ellipse cx="100.2" cy="433.4" rx="23.0" ry="9.6" fill="#8c3035" stroke="none" stroke-width="0" transform="rotate(-8 100.2 433.4)" />
<ellipse cx="99.0" cy="437.6" rx="17.6" ry="2.9" fill="#c8686c" stroke="none" stroke-width="0" transform="rotate(-8 99.0 437.6)" />
<path d="M81.8,432.2C85.0,431.6 94.9,429.7 100.9,428.4C107.0,427.1 115.3,425.2 118.2,424.5" fill="none" stroke="#6e2226" stroke-width="2.4" stroke-linecap="round" stroke-linejoin="round" />
<ellipse cx="82.8" cy="466.7" rx="7.3" ry="7.3" fill="#d8968b" stroke="none" stroke-width="0" />
<ellipse cx="83.9" cy="465.9" rx="3.6" ry="4.0" fill="#ebbcae" stroke="none" stroke-width="0" />
<ellipse cx="85.6" cy="486.2" rx="6.9" ry="6.9" fill="#d8968b" stroke="none" stroke-width="0" />
<ellipse cx="86.8" cy="485.4" rx="3.4" ry="3.8" fill="#ebbcae" stroke="none" stroke-width="0" />
<ellipse cx="87.5" cy="503.4" rx="6.5" ry="6.5" fill="#d8968b" stroke="none" stroke-width="0" />
<ellipse cx="88.7" cy="502.7" rx="3.3" ry="3.6" fill="#ebbcae" stroke="none" stroke-width="0" />
<ellipse cx="87.5" cy="503.8" rx="6.5" ry="6.8" fill="#d49386" stroke="none" stroke-width="0" />
<ellipse cx="87.9" cy="503.4" rx="3.3" ry="3.9" fill="#e6b9a6" stroke="none" stroke-width="0" />
<ellipse cx="88.5" cy="521.1" rx="6.9" ry="7.2" fill="#d49386" stroke="none" stroke-width="0" />
<ellipse cx="88.9" cy="520.7" rx="3.4" ry="4.1" fill="#e6b9a6" stroke="none" stroke-width="0" />
<ellipse cx="85.6" cy="541.2" rx="7.3" ry="7.6" fill="#d49386" stroke="none" stroke-width="0" />
<ellipse cx="86.0" cy="540.8" rx="3.6" ry="4.4" fill="#e6b9a6" stroke="none" stroke-width="0" />
<polygon points="60.7,447.5 72.6,447.5 75.7,512.6 60.7,512.6" fill="#c77d76" stroke="none" stroke-width="0" />
<polygon points="60.7,498.1 74.1,498.1 74.9,557.4 66.5,599.5 60.7,607.2" fill="#c4776f" stroke="none" stroke-width="0" />
<path d="M69.4,500.0C69.7,506.4 71.4,524.9 71.3,538.3C71.1,551.7 68.2,567.6 68.4,580.4C68.6,593.2 68.7,604.7 72.2,614.9C75.7,625.1 86.6,637.2 89.5,641.7" fill="none" stroke="#e0b49a" stroke-width="3" stroke-linecap="round" stroke-linejoin="round" />
<path d="M74.1,449.4C74.5,454.2 75.9,468.1 76.4,478.2C77.0,488.2 77.1,504.6 77.2,509.9" fill="none" stroke="#7a2c30" stroke-width="2.2" stroke-linecap="round" stroke-linejoin="round" />
<polygon points="120.1,487.7 137.3,475.5 154.5,471.5 170.2,478.5 189.0,472.4 206.2,459.0 227.3,447.5 227.3,512.6 118.2,512.6" fill="#bf5f5e" stroke="none" stroke-width="0" />
<polygon points="135.4,497.3 145.0,482.0 162.2,478.2 169.9,489.6 162.2,512.6 135.4,512.6" fill="#c9706c" stroke="none" stroke-width="0" />
<polygon points="177.5,487.7 192.8,483.9 189.0,512.6 171.8,512.6" fill="#d98f86" stroke="none" stroke-width="0" opacity="0.8"/>
<polygon points="129.3,498.1 227.3,498.1 227.3,687.6 110.5,687.6 110.5,607.2 129.3,561.6" fill="#c1615f" stroke="none" stroke-width="0" />
<polygon points="154.5,473.2 169.9,471.3 179.4,498.1 173.7,557.4 162.2,599.5 145.0,634.0 118.2,622.5 129.7,580.4 145.0,547.9 146.9,498.1" fill="#ab4a4d" stroke="none" stroke-width="0" />
<polygon points="135.4,478.9 145.0,477.0 145.0,498.1 139.2,545.9 129.7,576.6 128.5,557.4 131.6,498.1" fill="#d88c82" stroke="none" stroke-width="0" />
<polygon points="179.4,480.9 194.8,477.0 200.5,498.1 177.5,538.3 169.9,563.2 177.5,498.1" fill="#d1807a" stroke="none" stroke-width="0" />
<polygon points="169.9,563.2 187.1,545.9 208.2,519.1 202.4,580.4 187.1,622.5 171.8,634.0 162.2,607.2" fill="#b8585a" stroke="none" stroke-width="0" />
<polygon points="187.1,519.1 200.5,507.7 196.7,563.2 181.4,607.2 177.5,584.2" fill="#de9c8e" stroke="none" stroke-width="0" opacity="0.85"/>
<polygon points="118.2,614.9 135.4,607.2 145.0,634.0 162.2,645.5 143.1,649.3 120.1,634.0" fill="#b4524f" stroke="none" stroke-width="0" />
<polygon points="118.2,613.0 125.8,607.2 131.6,622.5 127.7,634.0 120.1,630.2" fill="#dc9488" stroke="none" stroke-width="0" opacity="0.7"/>
<polygon points="100.2,488.5 120.1,484.7 130.0,498.1 129.3,559.3 99.4,557.4" fill="#e7a997" stroke="none" stroke-width="0" />
<polygon points="99.4,538.3 129.3,542.1 129.3,559.7 99.4,557.8" fill="#f0c4b2" stroke="none" stroke-width="0" />
<polygon points="120.1,486.6 127.7,492.3 130.0,498.1 129.3,559.3 122.0,557.4" fill="#f3ccba" stroke="none" stroke-width="0" opacity="0.8"/>
<path d="M99.4,557.4C104.4,557.8 124.3,559.3 129.3,559.7" fill="none" stroke="#8e3a38" stroke-width="2.2" stroke-linecap="round" stroke-linejoin="round" />
<polygon points="60.7,580.4 74.1,580.4 78.0,557.4 99.4,557.4 112.4,580.4 110.5,607.2 112.4,634.0 135.4,664.6 112.4,672.3 83.7,653.2 60.7,634.0" fill="#c5656a" stroke="none" stroke-width="0" />
<polygon points="74.1,561.3 99.4,559.3 108.6,580.4 106.7,599.5 76.1,590.0" fill="#cf7a7c" stroke="none" stroke-width="0" />
<path d="M75.1,563.2C77.8,563.8 86.1,566.8 91.4,566.6C96.6,566.4 104.1,562.8 106.7,562.0" fill="none" stroke="#9a3a40" stroke-width="2.0" stroke-linecap="round" stroke-linejoin="round" />
<path d="M76.8,573.1C79.6,573.7 88.0,576.8 93.3,576.6C98.6,576.4 105.9,572.7 108.4,572.0" fill="none" stroke="#e29a94" stroke-width="2.0" stroke-linecap="round" stroke-linejoin="round" />
<path d="M78.5,583.1C81.3,583.7 89.9,586.7 95.2,586.5C100.5,586.3 107.6,582.7 110.1,581.9" fill="none" stroke="#a8444a" stroke-width="2.0" stroke-linecap="round" stroke-linejoin="round" />
<path d="M80.3,593.0C83.1,593.6 91.9,596.7 97.1,596.5C102.4,596.3 109.4,592.7 111.9,591.9" fill="none" stroke="#a8444a" stroke-width="2.0" stroke-linecap="round" stroke-linejoin="round" />
<path d="M82.0,603.0C84.8,603.6 93.8,606.6 99.0,606.4C104.3,606.2 111.2,602.6 113.6,601.8" fill="none" stroke="#e29a94" stroke-width="2.0" stroke-linecap="round" stroke-linejoin="round" />
<path d="M83.7,613.0C86.6,613.5 95.7,616.6 100.9,616.4C106.2,616.2 112.9,612.6 115.3,611.8" fill="none" stroke="#e29a94" stroke-width="2.0" stroke-linecap="round" stroke-linejoin="round" />
<path d="M85.4,622.9C88.3,623.5 97.6,626.5 102.9,626.4C108.1,626.2 114.7,622.5 117.0,621.8" fill="none" stroke="#e29a94" stroke-width="2.0" stroke-linecap="round" stroke-linejoin="round" />
<path d="M87.2,632.9C90.1,633.4 99.5,636.5 104.8,636.3C110.0,636.1 116.4,632.5 118.8,631.7" fill="none" stroke="#a8444a" stroke-width="2.0" stroke-linecap="round" stroke-linejoin="round" />
<path d="M88.9,642.8C91.9,643.4 101.4,646.5 106.7,646.3C112.0,646.1 118.2,642.4 120.5,641.7" fill="none" stroke="#e29a94" stroke-width="2.0" stroke-linecap="round" stroke-linejoin="round" />
<polygon points="60.7,603.4 73.2,607.2 93.3,645.5 112.4,668.5 93.3,672.3 60.7,645.5" fill="#9a4244" stroke="none" stroke-width="0" />
<path d="M66.5,599.5C68.1,603.4 71.0,613.6 76.1,622.5C81.2,631.5 90.1,645.5 97.1,653.2C104.1,660.8 114.7,665.9 118.2,668.5" fill="none" stroke="#e4b8a0" stroke-width="2.6" stroke-linecap="round" stroke-linejoin="round" />
<path d="M73.2,595.7C74.6,600.2 76.9,613.3 81.8,622.5C86.7,631.8 95.8,643.9 102.9,651.2C109.9,658.6 120.4,664.0 123.9,666.6" fill="none" stroke="#7c2c30" stroke-width="2.4" stroke-linecap="round" stroke-linejoin="round" />
<path d="M60.7,641.7C63.6,636.6 69.4,648.4 78.0,653.2C86.6,657.9 102.9,668.1 112.4,670.4C122.0,672.6 128.4,668.8 135.4,666.6C142.4,664.3 147.5,657.6 154.5,657.0C161.6,656.3 169.9,662.4 177.5,662.7C185.2,663.0 192.2,657.9 200.5,658.9C208.8,659.9 222.8,664.3 227.3,668.5C231.8,672.6 255.1,681.2 227.3,683.8C199.5,686.3 88.5,690.8 60.7,683.8C33.0,676.8 57.9,646.8 60.7,641.7Z" fill="#e2a193" stroke="none" stroke-width="0" stroke-linecap="round" stroke-linejoin="round" />
<polygon points="60.7,649.3 83.7,662.7 112.4,678.0 60.7,681.9" fill="#efc0b0" stroke="none" stroke-width="0" />
<polygon points="154.5,664.6 173.7,658.9 189.0,672.3 169.9,681.9" fill="#f0c2b2" stroke="none" stroke-width="0" />
<path d="M135.4,668.5C137.3,667.2 142.4,661.8 146.9,660.8C151.4,659.9 159.7,662.4 162.2,662.7" fill="none" stroke="#b04a48" stroke-width="2.2" stroke-linecap="round" stroke-linejoin="round" />
<path d="M141.1,674.2C144.0,673.3 152.3,668.8 158.4,668.5C164.4,668.1 174.3,671.7 177.5,672.3" fill="none" stroke="#b04a48" stroke-width="2.2" stroke-linecap="round" stroke-linejoin="round" />
<path d="M177.5,664.6C180.1,664.3 187.7,662.1 192.8,662.7C197.9,663.4 205.6,667.5 208.2,668.5" fill="none" stroke="#b04a48" stroke-width="2.2" stroke-linecap="round" stroke-linejoin="round" />
<path d="M189.0,674.2C192.2,673.9 202.4,672.0 208.2,672.3C213.9,672.6 220.9,675.5 223.5,676.1" fill="none" stroke="#b04a48" stroke-width="2.2" stroke-linecap="round" stroke-linejoin="round" />
<path d="M227.3,498.1C223.5,502.2 212.6,513.4 204.3,523.0C196.0,532.5 185.8,546.6 177.5,555.5C169.2,564.5 162.8,569.2 154.5,576.6C146.3,583.9 134.4,593.8 127.7,599.5C121.0,605.3 116.9,607.2 114.3,611.0C111.8,614.9 112.8,620.6 112.4,622.5" fill="none" stroke="#a82e2e" stroke-width="5.0" stroke-linecap="round" stroke-linejoin="round" />
<path d="M227.3,498.1C223.5,502.2 212.6,513.4 204.3,523.0C196.0,532.5 185.8,546.6 177.5,555.5C169.2,564.5 162.8,569.2 154.5,576.6C146.3,583.9 134.4,593.8 127.7,599.5C121.0,605.3 116.9,607.2 114.3,611.0C111.8,614.9 112.8,620.6 112.4,622.5" fill="none" stroke="#cf5a50" stroke-width="1.5" stroke-linecap="round" stroke-linejoin="round" />
<path d="M204.3,523.0C201.8,528.7 193.5,545.9 189.0,557.4C184.5,568.9 179.4,581.7 177.5,591.9C175.6,602.1 175.6,611.0 177.5,618.7C179.4,626.4 182.0,632.1 189.0,637.8C196.0,643.6 214.5,650.6 219.6,653.2" fill="none" stroke="#a82e2e" stroke-width="5.0" stroke-linecap="round" stroke-linejoin="round" />
<path d="M204.3,523.0C201.8,528.7 193.5,545.9 189.0,557.4C184.5,568.9 179.4,581.7 177.5,591.9C175.6,602.1 175.6,611.0 177.5,618.7C179.4,626.4 182.0,632.1 189.0,637.8C196.0,643.6 214.5,650.6 219.6,653.2" fill="none" stroke="#cf5a50" stroke-width="1.5" stroke-linecap="round" stroke-linejoin="round" />
<path d="M154.5,576.6C153.3,581.7 148.5,597.6 146.9,607.2C145.3,616.8 142.4,627.3 145.0,634.0C147.5,640.7 154.9,644.2 162.2,647.4C169.5,650.6 184.5,652.2 189.0,653.2" fill="none" stroke="#a82e2e" stroke-width="4.0" stroke-linecap="round" stroke-linejoin="round" />
<path d="M154.5,576.6C153.3,581.7 148.5,597.6 146.9,607.2C145.3,616.8 142.4,627.3 145.0,634.0C147.5,640.7 154.9,644.2 162.2,647.4C169.5,650.6 184.5,652.2 189.0,653.2" fill="none" stroke="#cf5a50" stroke-width="1.2" stroke-linecap="round" stroke-linejoin="round" />
<path d="M227.3,534.5C225.1,540.8 217.1,560.6 213.9,572.7C210.7,584.9 208.2,597.0 208.2,607.2C208.2,617.4 210.7,627.0 213.9,634.0C217.1,641.0 225.1,646.8 227.3,649.3" fill="none" stroke="#a82e2e" stroke-width="4.4" stroke-linecap="round" stroke-linejoin="round" />
<path d="M227.3,534.5C225.1,540.8 217.1,560.6 213.9,572.7C210.7,584.9 208.2,597.0 208.2,607.2C208.2,617.4 210.7,627.0 213.9,634.0C217.1,641.0 225.1,646.8 227.3,649.3" fill="none" stroke="#cf5a50" stroke-width="1.32" stroke-linecap="round" stroke-linejoin="round" />
<path d="M165.1,559.3C162.7,563.2 154.1,573.1 150.7,582.3C147.4,591.6 143.1,606.2 145.0,614.9C146.9,623.5 154.9,628.9 162.2,634.0C169.5,639.1 184.5,643.6 189.0,645.5" fill="none" stroke="#4a9c4a" stroke-width="2.0" stroke-linecap="round" stroke-linejoin="round" />
<path d="M165.1,559.3C165.9,563.8 167.8,576.9 169.9,586.1C171.9,595.4 174.3,605.0 177.5,614.9C180.7,624.8 186.5,637.2 189.0,645.5C191.6,653.8 192.2,661.4 192.8,664.6" fill="none" stroke="#4a9c4a" stroke-width="2.0" stroke-linecap="round" stroke-linejoin="round" />
<path d="M112.4,519.1C111.8,524.2 108.9,542.1 108.6,549.8C108.3,557.4 111.2,558.4 110.5,565.1C109.9,571.8 104.1,583.0 104.8,590.0C105.4,597.0 113.7,601.1 114.3,607.2C115.0,613.3 109.6,623.2 108.6,626.4" fill="none" stroke="#4a9c4a" stroke-width="2.0" stroke-linecap="round" stroke-linejoin="round" />
<path d="M76.1,568.9C78.9,568.6 87.9,567.6 93.3,567.0C98.7,566.4 106.1,565.4 108.6,565.1" fill="none" stroke="#4a9c4a" stroke-width="2.0" stroke-linecap="round" stroke-linejoin="round" />
<path d="M78.0,593.8C81.2,593.5 91.1,590.3 97.1,591.9C103.2,593.5 111.5,601.5 114.3,603.4" fill="none" stroke="#4a9c4a" stroke-width="2.0" stroke-linecap="round" stroke-linejoin="round" />
<path d="M81.8,614.9C84.7,614.5 94.2,613.0 99.0,613.0C103.8,613.0 108.6,614.5 110.5,614.9" fill="none" stroke="#4a9c4a" stroke-width="2.0" stroke-linecap="round" stroke-linejoin="round" />
<path d="M208.2,498.1C207.8,504.8 206.2,525.2 206.2,538.3C206.2,551.4 208.5,566.4 208.2,576.6C207.8,586.8 203.0,591.3 204.3,599.5C205.6,607.8 213.9,621.9 215.8,626.4" fill="none" stroke="#4a9c4a" stroke-width="2.0" stroke-linecap="round" stroke-linejoin="round" />
<path d="M215.8,626.4C213.3,629.5 205.0,639.1 200.5,645.5C196.0,651.9 190.9,661.4 189.0,664.6" fill="none" stroke="#4a9c4a" stroke-width="2.0" stroke-linecap="round" stroke-linejoin="round" />
<ellipse cx="165.1" cy="559.3" rx="4.2" ry="4.6" fill="#41a048" stroke="none" stroke-width="0" />
<ellipse cx="215.8" cy="626.4" rx="5.2" ry="5.7" fill="#41a048" stroke="none" stroke-width="0" />
<ellipse cx="204.3" cy="599.5" rx="2.9" ry="3.2" fill="#41a048" stroke="none" stroke-width="0" />
<ellipse cx="116.3" cy="536.4" rx="3.4" ry="3.8" fill="#41a048" stroke="none" stroke-width="0" />
<ellipse cx="189.0" cy="645.5" rx="2.7" ry="2.9" fill="#41a048" stroke="none" stroke-width="0" />
<path d="M102.9,457.1C104.5,459.3 109.2,466.3 112.4,470.5C115.7,474.7 121.4,477.9 122.4,482.4C123.3,486.8 119.8,492.3 118.2,497.3C116.5,502.3 113.4,510.1 112.4,512.6" fill="none" stroke="#4a9c4a" stroke-width="2.0" stroke-linecap="round" stroke-linejoin="round" />
<path d="M122.4,482.4C120.7,484.2 115.7,489.1 112.4,493.5C109.2,497.9 104.5,506.2 102.9,508.8" fill="none" stroke="#4a9c4a" stroke-width="2.0" stroke-linecap="round" stroke-linejoin="round" />
<path d="M135.4,459.0C138.6,460.0 148.8,463.4 154.5,464.8C160.3,466.1 164.1,466.9 169.9,467.0C175.6,467.2 185.8,465.9 189.0,465.7" fill="none" stroke="#4a9c4a" stroke-width="2.0" stroke-linecap="round" stroke-linejoin="round" />
<path d="M208.2,432.2C207.2,434.8 205.6,441.9 202.4,447.5C199.2,453.1 191.2,462.7 189.0,465.7" fill="none" stroke="#4a9c4a" stroke-width="2.0" stroke-linecap="round" stroke-linejoin="round" />
<path d="M223.5,439.9C221.9,445.0 216.4,458.4 213.9,470.5C211.3,482.6 209.1,505.6 208.2,512.6" fill="none" stroke="#4a9c4a" stroke-width="2.0" stroke-linecap="round" stroke-linejoin="round" />
<path d="M215.8,447.5C214.2,452.6 208.8,467.3 206.2,478.2C203.7,489.0 201.5,506.9 200.5,512.6" fill="none" stroke="#4a9c4a" stroke-width="2.0" stroke-linecap="round" stroke-linejoin="round" />
<ellipse cx="123.0" cy="483.1" rx="3.8" ry="3.4" fill="#41a048" stroke="none" stroke-width="0" />
<ellipse cx="159.3" cy="464.8" rx="4.2" ry="3.8" fill="#41a048" stroke="none" stroke-width="0" />
<ellipse cx="189.0" cy="465.7" rx="3.6" ry="3.3" fill="#41a048" stroke="none" stroke-width="0" />
<ellipse cx="106.3" cy="459.0" rx="1.9" ry="1.7" fill="#41a048" stroke="none" stroke-width="0" />
<path d="M225.0,432.2C223.8,436.7 220.5,449.4 217.7,459.0C214.9,468.6 211.7,480.7 208.2,489.6C204.6,498.6 198.6,508.8 196.7,512.6" fill="none" stroke="#a82e2e" stroke-width="3.2" stroke-linecap="round" stroke-linejoin="round" />
<polygon points="215.0,447.5 226.5,432.2 245.6,432.2 257.1,443.7 276.3,447.5 287.7,459.0 301.1,465.7 318.4,468.6 337.5,467.6 360.5,462.8 379.6,459.0 379.6,512.6 215.0,512.6" fill="#e9a694" stroke="none" stroke-width="0" />
<polygon points="213.1,498.1 379.6,498.1 379.6,687.6 213.1,687.6" fill="#e9a896" stroke="none" stroke-width="0" />
<path d="M243.8,451.4C247.2,452.8 257.3,456.7 264.1,459.5C270.9,462.2 277.7,464.9 284.5,467.8C291.4,470.7 298.3,473.7 305.1,476.8C312.0,480.0 318.8,483.4 325.6,486.8C332.4,490.2 339.2,493.9 345.9,497.5C352.7,501.1 362.9,506.7 366.3,508.5" fill="none" stroke="#f4c9b8" stroke-width="5.2" stroke-linecap="round" stroke-linejoin="round" opacity="0.8"/>
<path d="M239.2,467.8C242.4,469.8 251.8,475.5 258.1,479.4C264.4,483.3 270.4,487.7 277.0,491.2C283.6,494.6 290.6,497.0 297.6,499.9C304.5,502.7 311.8,504.8 318.6,508.2C325.3,511.7 331.9,515.7 338.2,520.3C344.6,524.9 353.6,533.3 356.6,535.9" fill="none" stroke="#f4c9b8" stroke-width="5.2" stroke-linecap="round" stroke-linejoin="round" opacity="0.8"/>
<path d="M234.4,485.1C237.4,487.0 246.6,492.2 252.5,496.4C258.3,500.6 263.5,506.1 269.4,510.4C275.3,514.7 281.4,518.7 287.7,522.3C294.1,526.0 301.0,528.7 307.5,532.3C314.0,535.9 320.6,539.5 326.7,544.0C332.8,548.5 341.3,556.8 344.2,559.4" fill="none" stroke="#f4c9b8" stroke-width="5.2" stroke-linecap="round" stroke-linejoin="round" opacity="0.8"/>
<path d="M229.8,503.7C232.9,505.6 242.5,510.7 248.4,514.9C254.3,519.2 259.8,524.3 265.4,529.3C270.9,534.3 276.1,540.0 281.7,545.0C287.3,550.1 293.1,554.9 299.2,559.5C305.2,564.1 311.7,568.0 318.0,572.6C324.2,577.2 333.4,584.7 336.5,587.1" fill="none" stroke="#f4c9b8" stroke-width="5.2" stroke-linecap="round" stroke-linejoin="round" opacity="0.8"/>
<path d="M226.5,522.5C229.3,524.9 237.6,532.1 243.3,536.9C249.0,541.7 255.0,546.3 260.8,551.3C266.5,556.2 272.3,561.4 278.0,566.8C283.6,572.2 289.1,577.9 294.6,583.6C300.1,589.3 305.5,595.2 311.0,600.9C316.6,606.7 325.2,615.3 328.0,618.2" fill="none" stroke="#f4c9b8" stroke-width="5.2" stroke-linecap="round" stroke-linejoin="round" opacity="0.8"/>
<path d="M223.6,539.9C225.7,542.7 231.8,551.6 236.5,557.0C241.3,562.3 246.7,567.1 252.2,571.8C257.6,576.6 264.0,580.5 269.5,585.5C275.0,590.4 280.4,595.5 285.2,601.4C290.0,607.2 293.9,614.1 298.2,620.7C302.6,627.3 309.0,637.4 311.2,640.8" fill="none" stroke="#f4c9b8" stroke-width="5.2" stroke-linecap="round" stroke-linejoin="round" opacity="0.8"/>
<path d="M221.3,557.0C223.2,559.7 229.2,567.6 233.1,572.9C237.1,578.3 240.7,583.9 245.0,589.2C249.2,594.4 254.0,599.2 258.7,604.3C263.4,609.4 268.5,614.2 273.0,619.6C277.5,625.1 281.8,630.9 285.8,636.9C289.8,643.0 295.2,652.8 297.1,656.0" fill="none" stroke="#f4c9b8" stroke-width="5.2" stroke-linecap="round" stroke-linejoin="round" opacity="0.8"/>
<path d="M219.4,574.2C221.3,576.7 227.3,583.4 230.5,588.7C233.7,594.0 235.6,600.4 238.6,606.0C241.6,611.6 244.8,617.2 248.7,622.3C252.6,627.4 257.5,631.8 261.8,636.7C266.2,641.5 271.1,646.1 274.9,651.6C278.8,657.0 283.3,666.5 284.9,669.4" fill="none" stroke="#f4c9b8" stroke-width="5.2" stroke-linecap="round" stroke-linejoin="round" opacity="0.8"/>
<path d="M216.5,593.4C218.3,595.6 223.9,601.8 226.9,606.6C229.9,611.4 232.2,616.8 234.7,622.1C237.2,627.4 239.2,633.0 242.0,638.2C244.7,643.5 247.8,648.5 251.2,653.5C254.5,658.5 258.6,663.1 262.1,668.1C265.6,673.2 270.5,681.3 272.2,683.9" fill="none" stroke="#f4c9b8" stroke-width="5.2" stroke-linecap="round" stroke-linejoin="round" opacity="0.8"/>
<path d="M215.7,617.8C217.4,620.5 222.2,628.6 225.7,634.0C229.1,639.5 233.2,644.7 236.4,650.5C239.5,656.3 242.0,662.7 244.4,669.0C246.9,675.4 248.6,682.3 251.1,688.7C253.6,695.2 256.3,701.7 259.5,707.9C262.7,714.2 268.5,723.2 270.4,726.3" fill="none" stroke="#f4c9b8" stroke-width="5.2" stroke-linecap="round" stroke-linejoin="round" opacity="0.8"/>
<path d="M218.3,644.0C219.9,647.3 224.9,657.2 228.1,664.0C231.3,670.8 234.6,677.6 237.4,684.7C240.3,691.8 242.7,699.2 245.3,706.7C247.9,714.1 250.3,721.9 253.1,729.5C255.9,737.1 259.1,744.7 262.3,752.3C265.5,760.0 270.8,771.4 272.4,775.2" fill="none" stroke="#f4c9b8" stroke-width="5.2" stroke-linecap="round" stroke-linejoin="round" opacity="0.8"/>
<path d="M288.1,452.0C286.9,456.4 283.6,470.7 280.8,478.4C278.0,486.1 273.4,491.3 271.1,498.2C268.8,505.0 267.8,512.8 267.1,519.6C266.4,526.5 269.4,532.5 266.9,539.4C264.3,546.3 255.2,554.8 252.0,561.1C248.8,567.4 249.0,571.6 247.6,577.4C246.2,583.2 246.0,589.6 243.6,595.9C241.2,602.2 235.3,609.3 233.2,615.3C231.1,621.2 230.1,622.3 230.9,631.5C231.7,640.7 237.4,659.5 238.0,670.4C238.6,681.3 235.1,692.3 234.6,696.7" fill="none" stroke="#97302a" stroke-width="2.3" stroke-linecap="round" stroke-linejoin="round" />
<path d="M321.5,471.3C321.3,474.7 321.9,484.2 320.3,491.7C318.7,499.2 315.4,507.5 311.9,516.3C308.5,525.1 302.1,534.9 299.5,544.4C296.9,553.8 298.2,565.3 296.2,572.9C294.2,580.5 291.6,584.6 287.7,590.2C283.8,595.8 276.5,601.1 272.9,606.5C269.2,612.0 268.4,616.5 265.9,622.8C263.3,629.1 261.3,638.5 257.5,644.3C253.7,650.1 243.5,646.7 243.1,657.4C242.6,668.1 253.5,695.3 254.8,708.6C256.2,722.0 251.8,732.7 251.2,737.5" fill="none" stroke="#97302a" stroke-width="2.3" stroke-linecap="round" stroke-linejoin="round" />
<path d="M353.3,487.2C352.6,491.8 351.5,506.4 349.2,514.9C346.9,523.4 343.6,530.4 339.6,538.0C335.5,545.6 327.8,551.1 324.7,560.7C321.6,570.2 323.5,585.8 321.0,595.4C318.6,605.0 314.6,611.7 309.9,618.2C305.2,624.6 297.2,628.4 292.7,634.0C288.2,639.6 286.4,646.7 282.8,651.9C279.3,657.1 275.5,660.6 271.2,665.1C266.9,669.6 258.1,665.1 257.1,678.8C256.0,692.6 263.4,732.0 264.7,747.5C266.0,763.1 265.0,767.9 265.0,772.0" fill="none" stroke="#97302a" stroke-width="2.3" stroke-linecap="round" stroke-linejoin="round" />
<path d="M224.4,440.3C228.0,441.8 239.2,447.0 245.9,449.4C252.7,451.8 257.7,453.1 264.9,454.7C272.1,456.3 281.7,456.4 289.0,458.8C296.3,461.2 302.5,465.5 308.7,469.0C314.9,472.6 319.2,476.7 326.0,480.1C332.7,483.4 345.4,487.7 349.3,489.2" fill="none" stroke="#489e48" stroke-width="2.3" stroke-linecap="round" stroke-linejoin="round" />
<ellipse cx="264.9" cy="454.7" rx="5.2" ry="3.4" fill="#3ea848" stroke="none" stroke-width="0" transform="rotate(17 264.9 454.7)" />
<ellipse cx="308.7" cy="469.0" rx="4.2" ry="3.0" fill="#3ea848" stroke="none" stroke-width="0" transform="rotate(17 308.7 469.0)" />
<path d="M225.7,436.0C229.1,437.3 239.1,441.6 246.1,443.7C253.1,445.9 260.4,447.0 267.6,448.8C274.7,450.7 282.0,452.2 288.9,455.0C295.8,457.8 302.3,461.8 309.0,465.7C315.6,469.5 322.0,474.3 328.8,477.9C335.6,481.6 342.5,484.7 349.6,487.5C356.7,490.3 367.8,493.5 371.4,494.7" fill="none" stroke="#8e2a26" stroke-width="3.4" stroke-linecap="round" stroke-linejoin="round" />
<path d="M225.7,436.0C229.1,437.3 239.1,441.6 246.1,443.7C253.1,445.9 260.4,447.0 267.6,448.8C274.7,450.7 282.0,452.2 288.9,455.0C295.8,457.8 302.3,461.8 309.0,465.7C315.6,469.5 322.0,474.3 328.8,477.9C335.6,481.6 342.5,484.7 349.6,487.5C356.7,490.3 367.8,493.5 371.4,494.7" fill="none" stroke="#c44d3e" stroke-width="1.4" stroke-linecap="round" stroke-linejoin="round" />
<path d="M218.5,454.9C222.2,455.8 234.0,456.9 240.4,460.3C246.9,463.7 251.0,471.7 257.4,475.3C263.8,478.8 272.1,479.1 278.8,481.7C285.6,484.3 290.6,487.9 297.8,490.9C305.0,493.9 315.3,496.8 322.1,499.8C328.8,502.8 335.6,507.6 338.3,509.1" fill="none" stroke="#489e48" stroke-width="2.3" stroke-linecap="round" stroke-linejoin="round" />
<ellipse cx="322.1" cy="499.8" rx="5.2" ry="3.4" fill="#3ea848" stroke="none" stroke-width="0" transform="rotate(21 322.1 499.8)" />
<path d="M221.0,452.0C224.4,453.2 234.8,456.1 241.4,459.1C248.0,462.1 254.2,466.5 260.6,470.1C267.1,473.7 273.5,477.6 280.2,480.6C287.0,483.6 294.2,485.5 301.3,488.0C308.3,490.5 315.6,492.4 322.4,495.7C329.3,498.9 335.8,503.0 342.3,507.5C348.7,511.9 358.0,519.9 361.1,522.4" fill="none" stroke="#8e2a26" stroke-width="3.4" stroke-linecap="round" stroke-linejoin="round" />
<path d="M221.0,452.0C224.4,453.2 234.8,456.1 241.4,459.1C248.0,462.1 254.2,466.5 260.6,470.1C267.1,473.7 273.5,477.6 280.2,480.6C287.0,483.6 294.2,485.5 301.3,488.0C308.3,490.5 315.6,492.4 322.4,495.7C329.3,498.9 335.8,503.0 342.3,507.5C348.7,511.9 358.0,519.9 361.1,522.4" fill="none" stroke="#c44d3e" stroke-width="1.4" stroke-linecap="round" stroke-linejoin="round" />
<path d="M212.7,469.6C216.5,471.7 228.8,477.9 235.6,482.0C242.3,486.1 246.9,490.5 253.2,494.3C259.5,498.0 267.5,501.1 273.6,504.4C279.7,507.8 283.2,511.2 289.9,514.5C296.6,517.8 306.5,520.5 313.8,524.1C321.2,527.8 330.7,534.4 334.0,536.5" fill="none" stroke="#489e48" stroke-width="2.3" stroke-linecap="round" stroke-linejoin="round" />
<ellipse cx="273.6" cy="504.4" rx="5.2" ry="3.4" fill="#3ea848" stroke="none" stroke-width="0" transform="rotate(26 273.6 504.4)" />
<path d="M217.2,468.0C220.5,469.4 230.6,473.1 237.0,476.6C243.4,480.0 249.4,484.4 255.5,488.6C261.6,492.8 267.4,497.8 273.8,501.7C280.2,505.6 287.0,508.5 293.9,511.7C300.7,514.9 308.0,517.2 314.7,520.8C321.4,524.4 328.0,528.4 334.2,533.2C340.4,538.0 349.1,546.7 352.1,549.4" fill="none" stroke="#8e2a26" stroke-width="3.4" stroke-linecap="round" stroke-linejoin="round" />
<path d="M217.2,468.0C220.5,469.4 230.6,473.1 237.0,476.6C243.4,480.0 249.4,484.4 255.5,488.6C261.6,492.8 267.4,497.8 273.8,501.7C280.2,505.6 287.0,508.5 293.9,511.7C300.7,514.9 308.0,517.2 314.7,520.8C321.4,524.4 328.0,528.4 334.2,533.2C340.4,538.0 349.1,546.7 352.1,549.4" fill="none" stroke="#c44d3e" stroke-width="1.4" stroke-linecap="round" stroke-linejoin="round" />
<path d="M211.6,486.3C214.8,487.7 224.7,490.6 230.8,494.5C236.9,498.5 243.2,505.2 248.2,509.9C253.1,514.6 255.1,518.3 260.5,523.0C265.8,527.7 273.8,534.2 280.1,538.1C286.4,541.9 292.4,542.3 298.5,546.0C304.5,549.8 313.5,558.1 316.6,560.5" fill="none" stroke="#489e48" stroke-width="2.3" stroke-linecap="round" stroke-linejoin="round" />
<ellipse cx="260.5" cy="523.0" rx="5.2" ry="3.4" fill="#3ea848" stroke="none" stroke-width="0" transform="rotate(31 260.5 523.0)" />
<ellipse cx="298.5" cy="546.0" rx="4.2" ry="3.0" fill="#3ea848" stroke="none" stroke-width="0" transform="rotate(31 298.5 546.0)" />
<path d="M213.6,484.0C216.6,485.6 225.7,490.2 231.7,493.6C237.7,496.9 243.9,500.0 249.5,504.2C255.0,508.5 259.7,514.3 265.0,519.1C270.4,523.9 275.7,528.8 281.6,532.9C287.5,537.1 294.0,540.2 300.2,543.9C306.5,547.5 313.2,550.5 319.2,554.8C325.2,559.0 333.5,567.0 336.3,569.4" fill="none" stroke="#8e2a26" stroke-width="3.4" stroke-linecap="round" stroke-linejoin="round" />
<path d="M213.6,484.0C216.6,485.6 225.7,490.2 231.7,493.6C237.7,496.9 243.9,500.0 249.5,504.2C255.0,508.5 259.7,514.3 265.0,519.1C270.4,523.9 275.7,528.8 281.6,532.9C287.5,537.1 294.0,540.2 300.2,543.9C306.5,547.5 313.2,550.5 319.2,554.8C325.2,559.0 333.5,567.0 336.3,569.4" fill="none" stroke="#c44d3e" stroke-width="1.4" stroke-linecap="round" stroke-linejoin="round" />
<path d="M206.5,501.4C209.3,503.6 217.3,510.6 223.7,514.9C230.1,519.2 238.0,522.4 244.9,527.2C251.8,532.0 259.9,538.1 265.3,543.7C270.8,549.3 272.8,554.9 277.7,560.7C282.7,566.5 289.1,573.2 295.0,578.5C300.9,583.7 310.1,589.9 313.1,592.2" fill="none" stroke="#489e48" stroke-width="2.3" stroke-linecap="round" stroke-linejoin="round" />
<ellipse cx="265.3" cy="543.7" rx="5.2" ry="3.4" fill="#3ea848" stroke="none" stroke-width="0" transform="rotate(36 265.3 543.7)" />
<path d="M210.5,500.0C213.4,502.3 221.8,509.6 227.9,513.9C234.1,518.2 241.1,521.4 247.4,525.6C253.7,529.9 260.0,534.3 265.7,539.5C271.4,544.8 276.4,551.2 281.8,557.1C287.2,563.1 292.3,569.5 298.1,575.1C303.9,580.7 310.3,585.6 316.7,590.5C323.1,595.4 333.3,602.4 336.6,604.7" fill="none" stroke="#8e2a26" stroke-width="3.4" stroke-linecap="round" stroke-linejoin="round" />
<path d="M210.5,500.0C213.4,502.3 221.8,509.6 227.9,513.9C234.1,518.2 241.1,521.4 247.4,525.6C253.7,529.9 260.0,534.3 265.7,539.5C271.4,544.8 276.4,551.2 281.8,557.1C287.2,563.1 292.3,569.5 298.1,575.1C303.9,580.7 310.3,585.6 316.7,590.5C323.1,595.4 333.3,602.4 336.6,604.7" fill="none" stroke="#c44d3e" stroke-width="1.4" stroke-linecap="round" stroke-linejoin="round" />
<path d="M208.5,518.9C211.1,521.7 219.2,530.4 224.1,535.9C228.9,541.3 232.4,546.9 237.5,551.6C242.7,556.4 248.7,559.6 254.8,564.2C260.9,568.8 268.1,574.1 274.1,579.3C280.1,584.4 285.8,588.8 290.7,595.0C295.6,601.2 301.4,613.0 303.5,616.6" fill="none" stroke="#489e48" stroke-width="2.3" stroke-linecap="round" stroke-linejoin="round" />
<ellipse cx="254.8" cy="564.2" rx="5.2" ry="3.4" fill="#3ea848" stroke="none" stroke-width="0" transform="rotate(41 254.8 564.2)" />
<path d="M209.0,517.0C211.6,519.4 220.0,526.0 225.1,531.2C230.1,536.4 234.1,542.9 239.2,548.2C244.3,553.5 250.0,558.3 255.8,563.0C261.6,567.7 268.3,571.6 274.2,576.4C280.0,581.3 285.9,586.3 291.1,592.1C296.3,597.9 300.6,604.8 305.4,611.4C310.1,618.0 317.1,628.2 319.4,631.6" fill="none" stroke="#8e2a26" stroke-width="3.4" stroke-linecap="round" stroke-linejoin="round" />
<path d="M209.0,517.0C211.6,519.4 220.0,526.0 225.1,531.2C230.1,536.4 234.1,542.9 239.2,548.2C244.3,553.5 250.0,558.3 255.8,563.0C261.6,567.7 268.3,571.6 274.2,576.4C280.0,581.3 285.9,586.3 291.1,592.1C296.3,597.9 300.6,604.8 305.4,611.4C310.1,618.0 317.1,628.2 319.4,631.6" fill="none" stroke="#c44d3e" stroke-width="1.4" stroke-linecap="round" stroke-linejoin="round" />
<path d="M204.9,538.4C207.2,540.3 214.6,544.8 218.9,549.7C223.3,554.7 226.2,562.6 231.1,568.2C236.0,573.7 243.0,578.0 248.3,583.0C253.5,588.0 257.4,593.3 262.6,598.1C267.8,602.9 274.9,606.1 279.4,612.0C283.9,617.9 287.7,629.9 289.4,633.5" fill="none" stroke="#489e48" stroke-width="2.3" stroke-linecap="round" stroke-linejoin="round" />
<ellipse cx="262.6" cy="598.1" rx="5.2" ry="3.4" fill="#3ea848" stroke="none" stroke-width="0" transform="rotate(46 262.6 598.1)" />
<ellipse cx="289.4" cy="633.5" rx="4.2" ry="3.0" fill="#3ea848" stroke="none" stroke-width="0" transform="rotate(46 289.4 633.5)" />
<path d="M208.3,534.0C210.6,536.4 217.8,543.3 222.1,548.6C226.3,553.9 229.4,560.4 233.8,565.7C238.2,571.1 243.3,575.8 248.5,580.6C253.7,585.4 259.7,589.5 264.8,594.5C270.0,599.5 275.0,604.7 279.4,610.6C283.7,616.5 287.2,623.5 291.1,630.0C295.0,636.6 300.9,646.6 302.9,650.0" fill="none" stroke="#8e2a26" stroke-width="3.4" stroke-linecap="round" stroke-linejoin="round" />
<path d="M208.3,534.0C210.6,536.4 217.8,543.3 222.1,548.6C226.3,553.9 229.4,560.4 233.8,565.7C238.2,571.1 243.3,575.8 248.5,580.6C253.7,585.4 259.7,589.5 264.8,594.5C270.0,599.5 275.0,604.7 279.4,610.6C283.7,616.5 287.2,623.5 291.1,630.0C295.0,636.6 300.9,646.6 302.9,650.0" fill="none" stroke="#c44d3e" stroke-width="1.4" stroke-linecap="round" stroke-linejoin="round" />
<path d="M207.7,554.5C209.6,556.9 215.5,564.4 219.3,568.9C223.1,573.4 226.9,575.6 230.5,581.3C234.1,587.1 237.7,597.6 240.9,603.5C244.0,609.4 245.3,612.2 249.6,616.7C254.0,621.1 262.4,625.4 266.9,630.1C271.3,634.9 274.6,642.6 276.2,645.1" fill="none" stroke="#489e48" stroke-width="2.3" stroke-linecap="round" stroke-linejoin="round" />
<ellipse cx="266.9" cy="630.1" rx="5.2" ry="3.4" fill="#3ea848" stroke="none" stroke-width="0" transform="rotate(50 266.9 630.1)" />
<path d="M207.6,552.0C209.7,554.2 216.3,560.7 220.5,565.4C224.6,570.1 228.9,574.7 232.4,580.1C235.9,585.5 238.1,592.0 241.5,597.7C244.8,603.4 248.4,609.0 252.6,614.2C256.8,619.3 261.9,623.7 266.6,628.7C271.3,633.6 276.4,638.3 280.5,643.8C284.6,649.4 289.6,659.0 291.4,662.1" fill="none" stroke="#8e2a26" stroke-width="3.4" stroke-linecap="round" stroke-linejoin="round" />
<path d="M207.6,552.0C209.7,554.2 216.3,560.7 220.5,565.4C224.6,570.1 228.9,574.7 232.4,580.1C235.9,585.5 238.1,592.0 241.5,597.7C244.8,603.4 248.4,609.0 252.6,614.2C256.8,619.3 261.9,623.7 266.6,628.7C271.3,633.6 276.4,638.3 280.5,643.8C284.6,649.4 289.6,659.0 291.4,662.1" fill="none" stroke="#c44d3e" stroke-width="1.4" stroke-linecap="round" stroke-linejoin="round" />
<path d="M205.1,575.6C207.1,577.6 213.6,583.3 217.1,587.5C220.6,591.7 223.2,596.2 226.2,600.8C229.3,605.5 233.1,610.0 235.4,615.6C237.7,621.2 237.4,629.4 240.2,634.6C243.1,639.8 248.0,642.3 252.6,646.9C257.2,651.5 265.1,659.7 267.6,662.2" fill="none" stroke="#489e48" stroke-width="2.3" stroke-linecap="round" stroke-linejoin="round" />
<ellipse cx="252.6" cy="646.9" rx="5.2" ry="3.4" fill="#3ea848" stroke="none" stroke-width="0" transform="rotate(54 252.6 646.9)" />
<path d="M207.3,570.0C209.1,572.2 214.8,578.5 218.4,583.1C222.0,587.7 225.7,592.2 228.6,597.4C231.5,602.6 233.0,608.9 235.7,614.4C238.4,619.9 241.3,625.4 244.8,630.4C248.4,635.4 253.0,639.8 257.1,644.6C261.2,649.4 265.8,654.0 269.4,659.3C272.9,664.7 277.0,673.9 278.5,676.8" fill="none" stroke="#8e2a26" stroke-width="3.4" stroke-linecap="round" stroke-linejoin="round" />
<path d="M207.3,570.0C209.1,572.2 214.8,578.5 218.4,583.1C222.0,587.7 225.7,592.2 228.6,597.4C231.5,602.6 233.0,608.9 235.7,614.4C238.4,619.9 241.3,625.4 244.8,630.4C248.4,635.4 253.0,639.8 257.1,644.6C261.2,649.4 265.8,654.0 269.4,659.3C272.9,664.7 277.0,673.9 278.5,676.8" fill="none" stroke="#c44d3e" stroke-width="1.4" stroke-linecap="round" stroke-linejoin="round" />
<path d="M204.6,592.1C205.8,594.6 208.7,602.0 211.9,606.9C215.1,611.8 220.8,617.2 223.7,621.5C226.6,625.9 227.2,628.2 229.4,633.1C231.6,637.9 234.3,644.9 236.9,650.6C239.5,656.3 242.3,662.0 245.0,667.2C247.8,672.4 251.9,679.3 253.3,681.7" fill="none" stroke="#489e48" stroke-width="2.3" stroke-linecap="round" stroke-linejoin="round" />
<ellipse cx="236.9" cy="650.6" rx="5.2" ry="3.4" fill="#3ea848" stroke="none" stroke-width="0" transform="rotate(58 236.9 650.6)" />
<ellipse cx="253.3" cy="681.7" rx="4.2" ry="3.0" fill="#3ea848" stroke="none" stroke-width="0" transform="rotate(58 253.3 681.7)" />
<path d="M207.0,590.0C208.3,592.3 211.6,599.3 214.7,603.6C217.7,607.9 222.0,611.5 225.2,615.8C228.4,620.2 231.4,624.7 233.7,629.8C236.0,634.8 237.2,640.7 239.1,646.1C241.1,651.5 242.7,657.2 245.3,662.4C247.9,667.5 251.4,672.2 254.9,677.0C258.3,681.8 264.1,688.7 266.0,691.1" fill="none" stroke="#8e2a26" stroke-width="3.4" stroke-linecap="round" stroke-linejoin="round" />
<path d="M207.0,590.0C208.3,592.3 211.6,599.3 214.7,603.6C217.7,607.9 222.0,611.5 225.2,615.8C228.4,620.2 231.4,624.7 233.7,629.8C236.0,634.8 237.2,640.7 239.1,646.1C241.1,651.5 242.7,657.2 245.3,662.4C247.9,667.5 251.4,672.2 254.9,677.0C258.3,681.8 264.1,688.7 266.0,691.1" fill="none" stroke="#c44d3e" stroke-width="1.4" stroke-linecap="round" stroke-linejoin="round" />
<path d="M204.8,617.5C206.3,620.6 210.5,629.3 213.9,636.0C217.4,642.8 221.4,651.9 225.6,657.9C229.8,663.9 235.8,666.1 239.3,672.2C242.8,678.3 244.1,687.0 246.6,694.4C249.1,701.9 251.6,709.1 254.2,716.7C256.8,724.3 260.8,736.3 262.2,740.2" fill="none" stroke="#489e48" stroke-width="2.3" stroke-linecap="round" stroke-linejoin="round" />
<ellipse cx="246.6" cy="694.4" rx="5.2" ry="3.4" fill="#3ea848" stroke="none" stroke-width="0" transform="rotate(63 246.6 694.4)" />
<path d="M208.3,612.0C209.7,615.3 213.7,625.3 216.7,632.0C219.7,638.8 222.4,645.7 226.2,652.2C229.9,658.7 235.1,664.6 239.0,671.2C242.9,677.9 246.7,684.7 249.7,692.0C252.7,699.3 254.5,707.3 256.9,715.1C259.3,722.9 261.1,731.1 264.1,738.9C267.1,746.6 273.0,757.7 274.7,761.5" fill="none" stroke="#8e2a26" stroke-width="3.4" stroke-linecap="round" stroke-linejoin="round" />
<path d="M208.3,612.0C209.7,615.3 213.7,625.3 216.7,632.0C219.7,638.8 222.4,645.7 226.2,652.2C229.9,658.7 235.1,664.6 239.0,671.2C242.9,677.9 246.7,684.7 249.7,692.0C252.7,699.3 254.5,707.3 256.9,715.1C259.3,722.9 261.1,731.1 264.1,738.9C267.1,746.6 273.0,757.7 274.7,761.5" fill="none" stroke="#c44d3e" stroke-width="1.4" stroke-linecap="round" stroke-linejoin="round" />
<path d="M209.6,638.8C211.1,642.6 215.4,655.3 218.8,661.8C222.3,668.2 227.9,670.8 230.3,677.6C232.7,684.4 232.0,694.5 233.3,702.4C234.6,710.4 236.0,718.0 238.1,725.2C240.1,732.3 242.5,737.8 245.5,745.1C248.5,752.5 254.2,765.2 255.9,769.3" fill="none" stroke="#489e48" stroke-width="2.3" stroke-linecap="round" stroke-linejoin="round" />
<ellipse cx="233.3" cy="702.4" rx="5.2" ry="3.4" fill="#3ea848" stroke="none" stroke-width="0" transform="rotate(68 233.3 702.4)" />
<path d="M211.2,636.0C212.6,639.3 216.7,649.3 219.8,655.9C223.0,662.6 227.3,668.8 230.0,675.8C232.7,682.9 234.0,690.6 235.8,698.1C237.7,705.7 238.7,713.7 240.9,721.3C243.1,729.0 246.0,736.4 249.3,743.8C252.5,751.2 257.0,758.3 260.5,765.8C263.9,773.3 268.5,785.1 270.2,789.0" fill="none" stroke="#8e2a26" stroke-width="3.4" stroke-linecap="round" stroke-linejoin="round" />
<path d="M211.2,636.0C212.6,639.3 216.7,649.3 219.8,655.9C223.0,662.6 227.3,668.8 230.0,675.8C232.7,682.9 234.0,690.6 235.8,698.1C237.7,705.7 238.7,713.7 240.9,721.3C243.1,729.0 246.0,736.4 249.3,743.8C252.5,751.2 257.0,758.3 260.5,765.8C263.9,773.3 268.5,785.1 270.2,789.0" fill="none" stroke="#c44d3e" stroke-width="1.4" stroke-linecap="round" stroke-linejoin="round" />
<path d="M226.0,428.0C224.8,432.0 221.2,443.8 219.0,452.0C216.8,460.2 214.8,469.0 213.0,477.0C211.2,485.0 209.5,493.5 208.5,500.0C207.5,506.5 207.5,507.0 207.0,516.0C206.5,525.0 205.8,541.7 205.5,554.0C205.2,566.3 204.8,578.2 205.0,590.0C205.2,601.8 205.7,614.2 207.0,625.0C208.3,635.8 210.5,645.2 213.0,655.0C215.5,664.8 220.5,679.2 222.0,684.0" fill="none" stroke="#8c2a28" stroke-width="5.0" stroke-linecap="round" stroke-linejoin="round" />
<path d="M226.0,428.0C224.8,432.0 221.2,443.8 219.0,452.0C216.8,460.2 214.8,469.0 213.0,477.0C211.2,485.0 209.5,493.5 208.5,500.0C207.5,506.5 207.5,507.0 207.0,516.0C206.5,525.0 205.8,541.7 205.5,554.0C205.2,566.3 204.8,578.2 205.0,590.0C205.2,601.8 205.7,614.2 207.0,625.0C208.3,635.8 210.5,645.2 213.0,655.0C215.5,664.8 220.5,679.2 222.0,684.0" fill="none" stroke="#c04a40" stroke-width="1.8" stroke-linecap="round" stroke-linejoin="round" />
<path d="M221.8,430.0C220.6,434.0 217.0,445.8 214.8,454.0C212.6,462.2 210.6,471.0 208.8,479.0C207.1,487.0 205.3,495.5 204.3,502.0C203.3,508.5 203.3,509.0 202.8,518.0C202.3,527.0 201.6,543.7 201.3,556.0C201.0,568.3 200.6,580.2 200.8,592.0C201.1,603.8 201.5,616.2 202.8,627.0C204.1,637.8 206.3,647.2 208.8,657.0C211.3,666.8 216.3,681.2 217.8,686.0" fill="none" stroke="#469a48" stroke-width="2.8" stroke-linecap="round" stroke-linejoin="round" />
<path d="M223.5,452.0C222.5,456.2 219.2,469.0 217.5,477.0C215.8,485.0 214.0,493.5 213.0,500.0C212.0,506.5 212.0,507.0 211.5,516.0C211.0,525.0 210.3,541.7 210.0,554.0C209.7,566.3 209.2,578.2 209.5,590.0C209.8,601.8 210.2,614.2 211.5,625.0C212.8,635.8 215.0,645.2 217.5,655.0C220.0,664.8 225.0,679.2 226.5,684.0" fill="none" stroke="#469a48" stroke-width="2.0" stroke-linecap="round" stroke-linejoin="round" />
<ellipse cx="224.0" cy="431.0" rx="4.6" ry="5.6" fill="#3ea848" stroke="none" stroke-width="0" />
<ellipse cx="209.0" cy="545.0" rx="4.6" ry="5.6" fill="#3ea848" stroke="none" stroke-width="0" />
<ellipse cx="212.0" cy="628.0" rx="4.6" ry="5.6" fill="#3ea848" stroke="none" stroke-width="0" />
<ellipse cx="204.0" cy="585.0" rx="4.6" ry="5.6" fill="#3ea848" stroke="none" stroke-width="0" />
<polygon points="291.6,409.2 337.5,405.4 349.0,420.7 339.4,429.3 329.9,437.0 322.2,444.1 305.0,438.3 295.4,424.5" fill="#a93d41" stroke="none" stroke-width="0" />
<polygon points="295.4,411.1 322.2,409.2 329.9,424.5 314.5,432.2 301.1,428.4" fill="#b9484c" stroke="none" stroke-width="0" />
<path d="M234.1,416.9C233.2,411.8 236.7,405.7 239.9,401.6C243.1,397.5 247.9,394.1 253.3,392.4C258.7,390.6 267.0,390.2 272.4,391.0C277.9,391.9 282.6,394.7 285.8,397.7C289.1,400.8 290.3,404.8 292.0,409.2C293.6,413.7 293.6,419.8 295.8,424.5C298.0,429.3 300.6,434.8 305.0,438.0C309.4,441.1 316.5,443.6 322.2,443.7C328.0,443.8 334.3,440.2 339.4,438.3C344.5,436.4 346.1,433.9 352.8,432.2C359.5,430.5 375.2,423.5 379.6,428.0C384.1,432.5 382.8,453.2 379.6,459.0C376.4,464.8 367.5,461.4 360.5,462.8C353.5,464.3 344.5,466.7 337.5,467.6C330.5,468.6 324.4,468.9 318.4,468.6C312.3,468.3 306.3,467.3 301.1,465.7C296.0,464.1 291.9,462.0 287.7,459.0C283.6,456.0 279.5,451.9 276.3,447.5C273.1,443.1 270.8,433.9 268.6,432.6C266.4,431.3 264.7,438.0 262.9,439.9C261.0,441.8 260.4,445.4 257.5,444.1C254.6,442.8 249.5,436.7 245.6,432.2C241.7,427.7 235.1,422.0 234.1,416.9Z" fill="#f0bfaa" stroke="none" stroke-width="0" stroke-linecap="round" stroke-linejoin="round" />
<polygon points="243.7,415.0 253.3,399.7 270.5,395.8 280.1,405.4 278.2,424.5 268.6,420.7 260.9,432.2 253.3,424.5" fill="#f8dccd" stroke="none" stroke-width="0" opacity="0.85"/>
<polygon points="287.7,439.9 305.0,447.5 329.9,451.4 356.7,445.6 379.6,439.9 379.6,459.0 360.5,462.8 337.5,467.6 318.4,468.6 301.1,465.7 287.7,459.0" fill="#e4a492" stroke="none" stroke-width="0" />
<polygon points="262.9,405.4 268.6,401.6 270.5,428.4 265.2,436.0" fill="#d9a08c" stroke="none" stroke-width="0" />
<polygon points="329.9,437.0 349.0,428.4 379.6,424.5 379.6,447.5 368.2,459.0 356.7,447.5 339.4,439.9" fill="#eab4a2" stroke="none" stroke-width="0" />
<polygon points="352.8,439.9 368.2,438.0 379.6,443.7 379.6,457.1 366.2,459.0" fill="#d98e84" stroke="none" stroke-width="0" />
<path d="M329.9,438.0C332.4,438.3 340.7,438.3 345.2,439.9C349.6,441.5 353.8,444.3 356.7,447.5C359.5,450.7 361.5,457.1 362.4,459.0" fill="none" stroke="#b8585a" stroke-width="2.0" stroke-linecap="round" stroke-linejoin="round" />
<polygon points="230.3,420.7 238.0,416.9 260.9,439.9 256.2,447.5 243.7,443.7" fill="#b84044" stroke="none" stroke-width="0" />
<polygon points="255.2,441.8 270.5,439.9 278.2,449.4 262.9,452.3" fill="#e0a030" stroke="none" stroke-width="0" />
<path d="M349.0,498.1C354.1,495.2 374.5,466.5 379.6,498.1C384.7,529.7 399.4,656.0 379.6,687.6C359.9,719.2 277.9,689.2 260.9,687.6C244.0,686.0 272.1,681.2 278.2,678.0C284.2,674.8 290.6,672.6 297.3,668.5C304.0,664.3 315.5,658.9 318.4,653.2C321.2,647.4 314.5,639.1 314.5,634.0C314.5,628.9 315.8,626.0 318.4,622.5C320.9,619.0 324.8,617.4 329.9,613.0C335.0,608.5 344.9,601.8 349.0,595.7C353.2,589.7 352.8,583.0 354.8,576.6C356.7,570.2 361.5,562.5 360.5,557.4C359.5,552.3 352.2,550.1 349.0,545.9C345.8,541.8 341.4,537.7 341.4,532.5C341.4,527.4 347.7,521.1 349.0,515.3C350.3,509.6 343.9,501.0 349.0,498.1Z" fill="#e7ae3c" stroke="none" stroke-width="0" stroke-linecap="round" stroke-linejoin="round" />
<path d="M360.5,498.1C363.5,494.9 376.4,488.5 379.6,498.1C382.8,507.7 380.9,546.1 379.6,555.5C378.4,564.9 374.2,555.8 372.0,554.6C369.7,553.3 368.8,551.5 366.2,547.9C363.7,544.2 357.5,537.7 356.7,532.5C355.9,527.4 360.8,523.0 361.5,517.2C362.1,511.5 357.5,501.3 360.5,498.1Z" fill="#eeb5a4" stroke="none" stroke-width="0" stroke-linecap="round" stroke-linejoin="round" />
<path d="M368.2,560.3C370.9,559.5 377.7,554.7 379.6,561.3C381.6,567.8 380.6,594.4 379.6,599.5C378.7,604.7 376.6,594.9 373.9,591.9C371.2,588.9 365.1,585.7 363.4,581.4C361.6,577.1 362.6,569.6 363.4,566.0C364.2,562.5 365.4,561.1 368.2,560.3Z" fill="#efb9a8" stroke="none" stroke-width="0" stroke-linecap="round" stroke-linejoin="round" />
<path d="M335.6,620.6C340.4,615.0 349.3,607.0 356.7,604.3C364.0,601.6 375.8,590.5 379.6,604.3C383.5,618.2 394.3,673.7 379.6,687.6C365.0,701.5 303.1,689.4 291.6,687.6C280.1,685.9 304.0,681.2 310.7,677.1C317.4,672.9 328.9,669.3 331.8,662.7C334.7,656.2 327.3,644.9 328.0,637.8C328.6,630.8 330.8,626.2 335.6,620.6Z" fill="#eeb6a5" stroke="none" stroke-width="0" stroke-linecap="round" stroke-linejoin="round" />
<polygon points="333.7,622.5 354.8,609.1 372.0,614.9 368.2,634.0 349.0,645.5 329.9,641.7" fill="#f6d2c4" stroke="none" stroke-width="0" opacity="0.8"/>
<polygon points="360.5,503.8 375.8,505.7 373.9,538.3 362.4,530.6" fill="#f6d2c4" stroke="none" stroke-width="0" opacity="0.8"/>
<polygon points="364.3,563.2 377.7,565.1 375.8,590.0 366.2,584.2" fill="#f5cfc0" stroke="none" stroke-width="0" opacity="0.8"/>
<path d="M326.0,637.8C328.6,636.9 336.2,634.6 341.4,632.1C346.5,629.5 352.2,623.8 356.7,622.5C361.1,621.2 366.2,624.1 368.2,624.4" fill="none" stroke="#c8807a" stroke-width="2.0" stroke-linecap="round" stroke-linejoin="round" />
<path d="M329.9,649.3C333.1,648.0 342.9,644.2 349.0,641.7C355.1,639.1 363.4,635.3 366.2,634.0" fill="none" stroke="#c8807a" stroke-width="2.0" stroke-linecap="round" stroke-linejoin="round" />
<path d="M322.2,664.6C324.8,663.7 333.1,658.9 337.5,658.9C342.0,658.9 345.2,664.3 349.0,664.6C352.8,665.0 358.6,661.4 360.5,660.8" fill="none" stroke="#c8807a" stroke-width="2.0" stroke-linecap="round" stroke-linejoin="round" />
<path d="M333.7,672.3C336.2,672.3 344.5,671.0 349.0,672.3C353.5,673.6 358.6,678.7 360.5,680.0" fill="none" stroke="#c8807a" stroke-width="2.0" stroke-linecap="round" stroke-linejoin="round" />
<path d="M364.3,643.6C365.9,645.2 371.3,652.2 373.9,653.2C376.4,654.1 378.7,650.0 379.6,649.3" fill="none" stroke="#c8807a" stroke-width="2.0" stroke-linecap="round" stroke-linejoin="round" />
<path d="M356.7,521.1C358.3,520.4 362.7,516.9 366.2,517.2C369.7,517.5 375.8,522.0 377.7,523.0" fill="none" stroke="#c8807a" stroke-width="2.0" stroke-linecap="round" stroke-linejoin="round" />
<path d="M364.3,572.7C365.6,572.1 369.6,568.6 372.0,568.9C374.4,569.2 377.6,573.7 378.7,574.7" fill="none" stroke="#c8807a" stroke-width="2.0" stroke-linecap="round" stroke-linejoin="round" />
<path d="M301.1,676.1C303.4,675.2 311.0,670.1 314.5,670.4C318.1,670.7 320.9,676.8 322.2,678.0" fill="none" stroke="#c8807a" stroke-width="2.0" stroke-linecap="round" stroke-linejoin="round" />
<polygon points="360.5,603.4 379.6,599.5 379.6,622.5 368.2,614.9" fill="#d99088" stroke="none" stroke-width="0" opacity="0.6"/>
<polygon points="349.0,487.7 366.2,483.9 368.2,497.3 352.8,503.0" fill="#e2b060" stroke="none" stroke-width="0" opacity="0.8"/>
</g>
<defs><clipPath id="cpV"><rect x="492" y="195" width="341" height="645.5"/></clipPath></defs>
<g clip-path="url(#cpV)">
<path d="M478.0,524.0 L479.1,524.5 L480.6,525.1 L482.4,525.8 L484.3,526.7 L486.2,527.6 L488.0,528.5 L489.6,529.4 L491.3,530.4 L492.9,531.4 L494.5,532.5 L496.0,533.7 L497.5,535.0 L498.9,536.4 L500.3,538.0 L501.6,539.6 L502.9,541.3 L504.0,543.1 L505.0,545.0 L505.8,546.9 L506.6,549.0 L507.2,551.1 L507.7,553.3 L508.1,555.6 L508.5,558.0 L508.8,560.5 L508.9,562.9 L509.0,565.4 L509.0,568.2 L509.0,571.4 L509.0,575.0 L509.0,579.2 L509.0,584.0 L509.0,589.1 L509.0,594.4 L509.0,599.7 L509.0,605.0 L509.0,610.5 L509.0,616.5 L509.0,622.5 L509.0,628.2 L509.0,633.2 L509.0,637.0 L509.1,639.4 L509.1,640.8 L509.2,641.4 L509.3,641.6 L509.4,641.9 L509.6,642.5 L509.8,643.3 L510.1,644.2 L510.4,645.1 L510.7,646.0 L511.0,646.8 L511.4,647.6 L511.8,648.4 L512.3,649.2 L512.8,650.0 L513.3,650.8 L513.8,651.6 L514.3,652.3 L514.9,653.0 L515.5,653.7 L516.2,654.3 L516.8,655.0 L517.5,655.6 L518.2,656.2 L518.9,656.7 L519.7,657.2 L520.5,657.7 L521.3,658.2 L522.1,658.7 L522.9,659.1 L523.7,659.5 L524.5,659.8 L525.4,660.1 L526.3,660.4 L527.2,660.7 L528.0,660.9 L528.9,661.1 L529.8,661.2 L530.8,661.3 L531.7,661.4 L532.6,661.5 L533.5,661.5 L534.4,661.5 L535.3,661.4 L536.2,661.3 L537.2,661.2 L538.1,661.1 L539.0,660.9 L539.8,660.7 L540.7,660.4 L541.6,660.1 L542.5,659.8 L543.3,659.5 L544.1,659.1 L544.9,658.7 L545.7,658.2 L546.5,657.7 L547.3,657.2 L548.1,656.7 L548.8,656.2 L549.5,655.6 L550.2,655.0 L550.8,654.3 L551.5,653.7 L552.1,653.0 L552.7,652.3 L553.2,651.6 L553.7,650.8 L554.2,650.0 L554.7,649.2 L555.2,648.4 L555.6,647.6 L556.0,646.8 L556.3,646.0 L556.6,645.1 L556.9,644.2 L557.2,643.3 L557.4,642.5 L557.6,641.9 L557.7,641.8 L557.8,641.7 L557.9,641.2 L557.9,639.7 L558.0,637.0 L558.0,632.5 L558.0,626.5 L558.0,619.7 L558.0,612.5 L558.0,605.8 L558.0,600.0 L558.0,595.1 L558.0,590.7 L558.0,586.6 L558.0,582.8 L558.0,579.3 L558.0,576.0 L558.0,573.1 L558.0,570.5 L558.0,568.2 L558.0,566.1 L558.1,564.0 L558.3,562.0 L558.5,560.0 L558.7,558.1 L559.0,556.3 L559.3,554.6 L559.8,552.8 L560.5,551.0 L561.3,549.1 L562.3,547.3 L563.5,545.4 L564.7,543.5 L566.1,541.7 L567.5,540.0 L569.0,538.4 L570.7,536.8 L572.5,535.3 L574.3,533.9 L576.2,532.4 L578.0,531.0 L579.8,529.6 L581.8,528.1 L583.7,526.8 L585.6,525.4 L587.4,523.9 L589.0,522.5 L590.5,521.1 L591.9,519.6 L593.3,518.2 L594.5,516.7 L595.6,515.2 L596.5,513.5 L597.2,511.7 L597.8,509.9 L598.2,508.0 L598.5,506.0 L598.8,504.0 L599.0,502.0 L599.2,500.0 L599.3,498.0 L599.3,496.0 L599.3,493.8 L599.3,491.5 L599.4,489.0 L599.5,486.4 L599.5,483.9 L599.6,481.2 L599.7,478.1 L599.8,474.5 L600.0,470.0 L600.3,464.7 L600.6,458.6 L600.9,451.9 L601.3,444.9 L601.7,437.5 L602.0,430.0 L602.3,422.2 L602.7,414.1 L603.0,405.6 L603.3,397.0 L603.7,388.4 L604.0,380.0 L604.3,371.4 L604.7,362.6 L605.1,353.8 L605.4,345.2 L605.7,337.2 L606.0,330.0 L606.2,323.6 L606.4,317.6 L606.6,312.3 L606.8,307.5 L606.9,303.4 L607.0,300.0 L607.1,297.6 L607.1,296.2 L607.1,295.4 L607.2,295.0 L607.2,294.6 L607.2,293.8 L607.3,292.8 L607.4,291.8 L607.5,290.7 L607.7,289.7 L607.8,288.7 L608.0,287.7 L608.1,286.7 L608.3,285.6 L608.5,284.6 L608.7,283.6 L608.9,282.6 L609.2,281.6 L609.4,280.6 L609.7,279.6 L610.0,278.6 L610.2,277.6 L610.5,276.6 L610.9,275.7 L611.2,274.7 L611.5,273.7 L611.9,272.7 L612.2,271.8 L612.6,270.8 L613.0,269.9 L613.4,268.9 L613.8,268.0 L614.2,267.0 L614.7,266.1 L615.1,265.2 L615.6,264.2 L616.1,263.3 L616.5,262.4 L617.0,261.5 L617.6,260.6 L618.1,259.7 L618.6,258.9 L619.1,258.0 L619.7,257.1 L620.3,256.2 L620.9,255.4 L621.4,254.5 L622.0,253.7 L622.7,252.9 L623.3,252.1 L623.9,251.2 L624.6,250.4 L625.2,249.6 L625.9,248.9 L626.5,248.1 L627.2,247.3 L627.9,246.5 L628.6,245.8 L629.3,245.0 L630.1,244.3 L630.8,243.6 L631.5,242.9 L632.3,242.2 L633.1,241.5 L633.8,240.8 L634.6,240.1 L635.4,239.5 L636.2,238.8 L637.0,238.2 L637.8,237.5 L638.6,236.9 L639.5,236.3 L640.3,235.7 L641.1,235.1 L642.0,234.5 L642.9,234.0 L643.7,233.4 L644.6,232.9 L645.5,232.3 L646.4,231.8 L647.3,231.3 L648.2,230.8 L649.1,230.3 L650.0,229.8 L650.9,229.4 L651.8,228.9 L652.8,228.5 L653.7,228.1 L654.7,227.6 L655.6,227.2 L656.6,226.9 L657.5,226.5 L658.5,226.1 L659.5,225.8 L660.4,225.4 L661.4,225.1 L662.4,224.8 L663.4,224.5 L664.4,224.2 L665.4,223.9 L666.4,223.7 L667.4,223.4 L668.4,223.2 L669.4,223.0 L670.4,222.8 L671.4,222.6 L672.4,222.4 L673.4,222.2 L674.4,222.1 L675.5,221.9 L676.5,221.8 L677.5,221.7 L678.5,221.6 L679.6,221.5 L680.6,221.4 L681.6,221.4 L682.7,221.3 L683.7,221.3 L684.7,221.3 L685.8,221.2 L686.8,221.3 L687.8,221.3 L688.8,221.3 L689.9,221.4 L690.9,221.4 L691.9,221.5 L693.0,221.6 L694.0,221.7 L695.0,221.8 L696.0,221.9 L697.1,222.1 L698.1,222.2 L699.1,222.4 L700.1,222.6 L701.1,222.8 L702.1,223.0 L703.1,223.2 L704.1,223.4 L705.1,223.7 L706.1,223.9 L707.1,224.2 L708.1,224.5 L709.1,224.8 L710.1,225.1 L711.1,225.4 L712.0,225.8 L713.0,226.1 L714.0,226.5 L714.9,226.9 L715.9,227.2 L716.8,227.6 L717.8,228.1 L718.7,228.5 L719.7,228.9 L720.6,229.4 L721.5,229.8 L722.4,230.3 L723.3,230.8 L724.2,231.3 L725.1,231.8 L726.0,232.3 L726.9,232.9 L727.8,233.4 L728.6,234.0 L729.5,234.5 L730.4,235.1 L731.2,235.7 L732.0,236.3 L732.9,236.9 L733.7,237.5 L734.5,238.2 L735.3,238.8 L736.1,239.5 L736.9,240.1 L737.7,240.8 L738.4,241.5 L739.2,242.2 L740.0,242.9 L740.7,243.6 L741.4,244.3 L742.2,245.0 L742.9,245.8 L743.6,246.5 L744.3,247.3 L745.0,248.1 L745.6,248.9 L746.3,249.6 L746.9,250.4 L747.6,251.2 L748.2,252.1 L748.8,252.9 L749.5,253.7 L750.1,254.5 L750.6,255.4 L751.2,256.2 L751.8,257.1 L752.4,258.0 L752.9,258.9 L753.4,259.7 L753.9,260.6 L754.5,261.5 L755.0,262.4 L755.4,263.3 L755.9,264.2 L756.4,265.2 L756.8,266.1 L757.3,267.0 L757.7,268.0 L758.1,268.9 L758.5,269.9 L758.9,270.8 L759.3,271.8 L759.6,272.7 L760.0,273.7 L760.3,274.7 L760.6,275.7 L761.0,276.6 L761.3,277.6 L761.5,278.6 L761.8,279.6 L762.1,280.6 L762.3,281.6 L762.6,282.6 L762.8,283.6 L763.0,284.6 L763.2,285.6 L763.4,286.7 L763.5,287.7 L763.7,288.7 L763.8,289.7 L764.0,290.7 L764.1,291.8 L764.2,292.8 L764.3,293.8 L764.3,294.6 L764.3,295.0 L764.4,295.4 L764.4,296.2 L764.4,297.6 L764.5,300.0 L764.6,303.4 L764.8,307.5 L764.9,312.3 L765.1,317.6 L765.3,323.6 L765.5,330.0 L765.7,337.2 L765.9,345.2 L766.2,353.8 L766.4,362.6 L766.7,371.4 L767.0,380.0 L767.3,388.4 L767.6,397.0 L768.0,405.6 L768.4,414.1 L768.7,422.2 L769.0,430.0 L769.3,437.5 L769.5,444.7 L769.8,451.8 L770.0,458.4 L770.3,464.5 L770.5,470.0 L770.7,474.8 L770.9,478.8 L771.0,482.4 L771.2,485.6 L771.5,488.8 L772.0,492.0 L772.6,495.3 L773.2,498.5 L774.0,501.6 L774.8,504.5 L775.8,507.3 L777.0,510.0 L778.3,512.5 L779.9,514.9 L781.5,517.1 L783.3,519.1 L785.1,521.1 L787.0,523.0 L789.0,524.8 L791.0,526.4 L793.2,528.0 L795.4,529.4 L797.7,530.8 L800.0,532.0 L802.3,533.1 L804.7,534.0 L807.1,534.8 L809.6,535.6 L812.2,536.3 L815.0,537.0 L818.1,537.7 L821.5,538.5 L825.0,539.2 L828.5,539.9 L831.9,540.5 L835.0,541.0 L838.0,541.5 L840.9,541.9 L843.8,542.2 L846.3,542.6 L848.4,542.8 L850.0,543.0 L850,703.5 L480,703.5 Z" fill="#f6c9c2"/>
<rect x="492" y="703.3" width="341" height="26.5" fill="#fbfbfb"/>
<rect x="492" y="729.5" width="341" height="111" fill="#e9e9e9"/>
<rect x="492" y="839.3" width="341" height="1.3" fill="#d2d2d2"/>
<path d="M492,704.2 H833 M492,729 H833" stroke="#6e6e6e" stroke-width="2.6" fill="none"/>
<path d="M464,716.5 Q508.5,693 553,716.5 Q508.5,740 464,716.5 M574,716.5 Q620.5,693 667,716.5 Q620.5,740 574,716.5 M712,716.5 Q774.0,693 836,716.5 Q774.0,740 712,716.5 " stroke="#6e6e6e" stroke-width="2.8" fill="#ffffff"/>
<path d="M520,704.5 L610,728.5 M520,728.5 L610,704.5 M536,704.5 L590,728.5 M536,728.5 L590,704.5 M660,704.5 L720,728.5 M660,728.5 L720,704.5 M672,704.5 L760,728.5 M672,728.5 L760,704.5 M800,704.5 L850,728.5 M800,728.5 L850,704.5 " stroke="#808080" stroke-width="2.4" fill="none"/>
<ellipse cx="498.0" cy="716.0" rx="8.0" ry="3.2" fill="#1e1e1e" stroke="none" stroke-width="0" />
<ellipse cx="569.0" cy="708.5" rx="5.0" ry="2.2" fill="#1e1e1e" stroke="none" stroke-width="0" />
<ellipse cx="563.0" cy="723.0" rx="7.0" ry="2.6" fill="#1e1e1e" stroke="none" stroke-width="0" />
<ellipse cx="629.0" cy="715.5" rx="10.0" ry="3.6" fill="#1e1e1e" stroke="none" stroke-width="0" />
<ellipse cx="765.0" cy="715.0" rx="10.5" ry="3.6" fill="#1e1e1e" stroke="none" stroke-width="0" />
<ellipse cx="826.0" cy="716.0" rx="6.0" ry="3.0" fill="#1e1e1e" stroke="none" stroke-width="0" />
<path d="M484.0,775.0C491.7,775.0 514.8,775.2 530.0,775.0C545.2,774.8 561.7,774.4 575.0,773.6C588.3,772.9 599.2,771.9 610.0,770.5C620.8,769.1 628.3,767.1 640.0,765.0C651.7,762.9 667.0,760.0 680.0,758.0C693.0,756.0 703.7,754.4 718.0,753.0C732.3,751.6 752.0,750.3 765.7,749.5C779.4,748.7 787.6,748.4 800.0,748.0C812.4,747.6 833.3,747.2 840.0,747.0" fill="none" stroke="#f7f7f7" stroke-width="17" stroke-linecap="butt" stroke-linejoin="round" />
<path d="M484.0,802.5C491.7,802.4 514.8,802.2 530.0,802.0C545.2,801.8 560.0,801.4 575.0,801.0C590.0,800.6 608.0,800.1 620.0,799.5C632.0,798.9 638.7,798.7 646.7,797.4C654.7,796.1 661.8,794.7 668.0,791.5C674.2,788.3 681.3,780.2 684.0,778.0" fill="none" stroke="#f7f7f7" stroke-width="19" stroke-linecap="butt" stroke-linejoin="round" />
<path d="M690.0,790.0C692.5,788.6 700.3,783.6 705.0,781.5C709.7,779.4 711.8,778.8 718.0,777.5C724.2,776.2 734.0,774.9 742.0,774.0C750.0,773.1 756.0,772.9 765.7,772.4C775.4,771.9 787.6,771.4 800.0,771.0C812.4,770.6 833.3,770.2 840.0,770.0" fill="none" stroke="#f7f7f7" stroke-width="19" stroke-linecap="butt" stroke-linejoin="round" />
<path d="M484.0,822.5C491.7,822.6 514.8,822.9 530.0,823.0C545.2,823.1 560.0,823.2 575.0,823.0C590.0,822.8 608.0,822.2 620.0,821.5C632.0,820.8 638.0,819.9 646.7,818.8C655.4,817.7 664.1,816.4 672.0,815.0C679.9,813.6 686.6,812.1 694.3,810.5C702.0,808.9 710.0,807.1 718.0,805.5C726.0,803.9 734.2,802.3 742.0,801.0C749.8,799.7 757.1,798.5 765.0,797.5C772.9,796.5 782.0,795.7 789.5,795.0C797.0,794.3 801.6,793.9 810.0,793.5C818.4,793.1 835.0,792.8 840.0,792.6" fill="none" stroke="#f7f7f7" stroke-width="19" stroke-linecap="butt" stroke-linejoin="round" />
<path d="M666.2,264.3C665.5,265.4 663.2,268.4 662.0,271.0C660.8,273.6 659.9,276.1 659.0,279.8C658.1,283.5 657.0,288.5 656.5,293.0C656.0,297.5 655.8,301.9 655.9,306.7C656.0,311.5 656.7,316.8 657.0,322.0C657.3,327.2 658.1,331.7 657.9,337.8C657.7,343.9 657.0,352.8 655.9,358.5C654.8,364.2 652.7,367.9 651.5,372.0C650.3,376.1 649.5,379.1 648.6,383.3C647.7,387.5 646.5,392.5 646.0,397.0C645.5,401.5 645.1,403.5 645.5,410.2C645.9,416.9 647.8,430.4 648.6,437.0C649.4,443.6 650.7,446.2 650.5,450.0C650.3,453.8 648.5,455.7 647.2,460.0C645.9,464.3 643.2,470.1 642.5,475.9C641.8,481.7 642.6,488.5 643.0,495.0C643.4,501.5 643.9,508.2 644.6,514.7C645.3,521.2 645.9,527.5 647.0,534.0C648.1,540.5 649.6,547.7 651.0,553.5C652.4,559.3 654.2,563.8 655.5,569.0C656.8,574.2 658.2,579.8 658.8,584.6C659.4,589.4 659.2,593.7 659.0,598.0C658.8,602.3 658.3,606.5 657.5,610.5C656.7,614.5 654.6,618.5 654.0,622.0C653.4,625.5 653.4,627.5 653.6,631.2C653.8,634.9 654.1,639.7 655.0,644.0C655.9,648.3 657.5,651.7 658.8,657.0C660.1,662.3 662.3,672.8 663.0,676.0" fill="none" stroke="#3f6eae" stroke-width="7.4" stroke-linecap="round" stroke-linejoin="round" />
<path d="M658.8,657.0C659.5,660.2 661.5,669.5 663.0,676.0C664.5,682.5 667.1,692.6 667.9,695.9" fill="none" stroke="#3f6eae" stroke-width="8.8" stroke-linecap="round" stroke-linejoin="round" />
<path d="M663.0,676.0C663.8,679.3 667.0,689.4 667.9,695.9C668.8,702.4 668.4,711.8 668.5,715.0" fill="none" stroke="#3f6eae" stroke-width="10.6" stroke-linecap="round" stroke-linejoin="round" />
<path d="M667.9,695.9C668.0,699.1 668.6,709.0 668.5,715.0C668.4,721.0 668.1,726.8 667.0,732.0C665.9,737.2 664.5,741.8 662.0,746.0C659.5,750.2 656.3,753.8 652.0,757.0C647.7,760.2 641.7,762.8 636.0,765.0C630.3,767.2 621.0,769.2 618.0,770.0" fill="none" stroke="#3f6eae" stroke-width="13.0" stroke-linecap="round" stroke-linejoin="round" />
<path d="M659.0,292.2C660.0,292.4 662.8,292.7 665.0,293.2C667.2,293.7 670.8,294.9 672.0,295.3" fill="none" stroke="#3f6eae" stroke-width="5.4" stroke-linecap="round" stroke-linejoin="round" />
<path d="M662.0,288.5C662.8,288.7 665.5,289.1 667.0,289.5C668.5,289.9 670.3,290.8 671.0,291.0" fill="none" stroke="#3f6eae" stroke-width="3.0" stroke-linecap="round" stroke-linejoin="round" />
<path d="M659.0,331.6C660.2,331.8 663.7,332.0 666.0,332.5C668.3,333.0 671.8,334.3 673.0,334.7" fill="none" stroke="#3f6eae" stroke-width="4.8" stroke-linecap="round" stroke-linejoin="round" />
<path d="M650.7,379.1C652.6,379.0 658.0,378.5 662.0,378.5C666.0,378.5 672.4,379.0 674.5,379.1" fill="none" stroke="#3f6eae" stroke-width="4.4" stroke-linecap="round" stroke-linejoin="round" />
<path d="M658.0,381.5C659.3,382.2 663.2,384.3 666.0,386.0C668.8,387.7 673.1,390.7 674.5,391.6" fill="none" stroke="#3f6eae" stroke-width="3.6" stroke-linecap="round" stroke-linejoin="round" />
<path d="M650.7,435.0C652.2,435.2 656.6,435.5 660.0,436.0C663.4,436.5 669.2,437.8 671.0,438.1" fill="none" stroke="#3f6eae" stroke-width="4.4" stroke-linecap="round" stroke-linejoin="round" />
<path d="M659.0,438.5C660.0,439.1 663.2,440.8 665.0,442.0C666.8,443.2 669.2,444.9 670.0,445.5" fill="none" stroke="#3f6eae" stroke-width="3.0" stroke-linecap="round" stroke-linejoin="round" />
<path d="M645.9,512.1C647.8,512.0 653.1,511.4 657.0,511.4C660.9,511.4 667.2,512.0 669.2,512.1" fill="none" stroke="#3f6eae" stroke-width="4.2" stroke-linecap="round" stroke-linejoin="round" />
<path d="M651.0,515.5C652.7,516.2 657.5,518.2 661.0,520.0C664.5,521.8 670.0,525.2 671.8,526.3" fill="none" stroke="#3f6eae" stroke-width="3.6" stroke-linecap="round" stroke-linejoin="round" />
<path d="M658.8,649.3C660.5,648.3 665.5,645.0 669.0,643.5C672.5,642.0 677.8,640.8 679.5,640.2" fill="none" stroke="#3f6eae" stroke-width="4.2" stroke-linecap="round" stroke-linejoin="round" />
<path d="M662.0,652.0C663.8,651.9 669.2,651.4 673.0,651.6C676.8,651.8 682.8,652.9 684.7,653.2" fill="none" stroke="#3f6eae" stroke-width="3.6" stroke-linecap="round" stroke-linejoin="round" />
<path d="M697.2,277.5C697.8,278.4 699.8,280.9 700.5,283.0C701.2,285.1 701.1,287.8 701.2,290.0C701.4,292.2 700.9,294.0 701.4,296.4C701.9,298.8 703.3,301.8 704.5,304.5C705.7,307.2 707.4,309.8 708.6,312.9C709.9,316.0 711.0,319.6 712.0,323.0C713.0,326.4 714.3,331.8 714.8,333.6" fill="none" stroke="#d0362b" stroke-width="5.4" stroke-linecap="round" stroke-linejoin="round" />
<path d="M712.0,323.0C712.5,324.8 713.8,329.4 714.8,333.6C715.8,337.8 716.9,342.2 717.9,348.1C718.9,354.0 720.0,361.9 721.0,368.8C722.0,375.7 723.7,383.5 724.1,389.5C724.5,395.5 723.7,402.4 723.6,405.0" fill="none" stroke="#d0362b" stroke-width="6.6" stroke-linecap="round" stroke-linejoin="round" />
<path d="M724.1,389.5C724.0,392.1 723.8,399.8 723.6,405.0C723.4,410.2 722.3,414.5 723.1,420.5C723.9,426.5 726.9,435.4 728.3,441.2C729.7,446.9 730.8,448.9 731.3,455.0C731.8,461.1 731.9,470.2 731.5,478.0C731.1,485.8 729.6,497.8 729.2,501.8" fill="none" stroke="#d0362b" stroke-width="8.6" stroke-linecap="round" stroke-linejoin="round" />
<path d="M731.5,478.0C731.1,482.0 730.1,494.5 729.2,501.8C728.3,509.1 727.2,515.5 726.0,522.0C724.8,528.5 723.1,533.2 722.2,540.6C721.4,548.0 720.7,558.9 720.9,566.5C721.1,574.1 722.2,579.5 723.5,586.0C724.8,592.5 727.8,602.1 728.7,605.3" fill="none" stroke="#d0362b" stroke-width="10.6" stroke-linecap="round" stroke-linejoin="round" />
<path d="M723.5,586.0C724.4,589.2 727.0,598.8 728.7,605.3C730.4,611.8 732.0,618.5 733.5,625.0C735.0,631.5 736.6,637.6 737.8,644.1C739.0,650.6 740.0,660.7 740.5,664.0" fill="none" stroke="#d0362b" stroke-width="12.9" stroke-linecap="round" stroke-linejoin="round" />
<path d="M737.8,644.1C738.2,647.4 739.9,657.5 740.5,664.0C741.1,670.5 741.4,679.8 741.6,682.9" fill="none" stroke="#d0362b" stroke-width="14.4" stroke-linecap="round" stroke-linejoin="round" />
<path d="M740.5,664.0C740.7,667.1 741.6,676.9 741.6,682.9C741.6,688.9 740.5,697.1 740.3,700.0" fill="none" stroke="#d0362b" stroke-width="16" stroke-linecap="round" stroke-linejoin="round" />
<path d="M741.6,682.9C741.4,685.8 741.1,694.5 740.3,700.0C739.5,705.5 738.2,710.7 737.0,716.0C735.8,721.3 734.4,726.7 733.0,732.0C731.6,737.3 729.8,742.9 728.5,748.0C727.2,753.1 726.3,757.9 725.2,762.9C724.1,767.9 723.0,773.1 722.0,778.0C721.0,782.9 720.2,788.2 719.5,792.0C718.8,795.8 718.2,799.5 718.0,801.0" fill="none" stroke="#d0362b" stroke-width="17.5" stroke-linecap="round" stroke-linejoin="round" />
<path d="M484.0,822.5C491.7,822.6 514.8,822.9 530.0,823.0C545.2,823.1 560.0,823.2 575.0,823.0C590.0,822.8 608.0,822.2 620.0,821.5C632.0,820.8 638.0,819.9 646.7,818.8C655.4,817.7 664.1,816.4 672.0,815.0C679.9,813.6 686.6,812.1 694.3,810.5C702.0,808.9 710.0,807.1 718.0,805.5C726.0,803.9 734.2,802.3 742.0,801.0C749.8,799.7 757.1,798.5 765.0,797.5C772.9,796.5 782.0,795.7 789.5,795.0C797.0,794.3 801.6,793.9 810.0,793.5C818.4,793.1 835.0,792.8 840.0,792.6" fill="none" stroke="#d0362b" stroke-width="15.5" stroke-linecap="butt" stroke-linejoin="round" />
<path d="M701.4,297.4C700.5,297.6 697.9,298.0 696.0,298.4C694.1,298.8 691.0,299.3 690.0,299.5" fill="none" stroke="#d0362b" stroke-width="4.6" stroke-linecap="round" stroke-linejoin="round" />
<path d="M712.8,346.0C711.7,346.3 708.1,347.5 706.0,347.6C703.9,347.7 702.2,347.4 700.3,346.4C698.4,345.4 696.2,342.9 694.5,341.5C692.8,340.1 690.8,338.4 690.0,337.8" fill="none" stroke="#d0362b" stroke-width="5.0" stroke-linecap="round" stroke-linejoin="round" />
<path d="M709.0,347.0C708.0,346.3 704.8,344.2 703.0,343.0C701.2,341.8 698.8,340.1 698.0,339.5" fill="none" stroke="#d0362b" stroke-width="3.0" stroke-linecap="round" stroke-linejoin="round" />
<path d="M716.9,416.4C715.6,415.7 711.4,413.4 709.0,412.0C706.6,410.6 704.0,410.1 702.4,408.1C700.8,406.1 700.6,402.8 699.5,400.0C698.4,397.2 696.2,393.0 695.5,391.6" fill="none" stroke="#d0362b" stroke-width="4.4" stroke-linecap="round" stroke-linejoin="round" />
<path d="M702.4,408.1C701.7,407.4 699.3,405.7 698.0,404.0C696.7,402.3 695.1,399.0 694.5,398.0" fill="none" stroke="#d0362b" stroke-width="3.0" stroke-linecap="round" stroke-linejoin="round" />
<path d="M721.0,426.7C719.6,427.4 715.9,430.0 712.8,430.9C709.7,431.8 705.9,431.2 702.4,431.9C698.9,432.6 693.7,434.5 692.0,435.0" fill="none" stroke="#d0362b" stroke-width="4.6" stroke-linecap="round" stroke-linejoin="round" />
<path d="M719.5,541.0C718.2,540.6 714.4,539.6 712.0,538.5C709.6,537.4 707.8,536.4 705.4,534.1C703.0,531.9 699.9,528.2 697.6,525.0C695.3,521.8 693.2,517.6 691.5,515.0C689.8,512.4 688.0,510.4 687.3,509.5" fill="none" stroke="#d0362b" stroke-width="4.8" stroke-linecap="round" stroke-linejoin="round" />
<path d="M705.4,534.1C704.1,533.9 700.2,533.7 697.6,532.8C695.0,531.9 691.9,529.6 690.0,528.5C688.1,527.4 686.7,526.7 686.0,526.3" fill="none" stroke="#d0362b" stroke-width="3.8" stroke-linecap="round" stroke-linejoin="round" />
<path d="M733.0,643.0C731.7,642.7 727.5,641.5 725.0,641.0C722.5,640.5 720.6,640.3 718.3,640.2C716.0,640.1 713.1,640.6 711.0,640.4C708.9,640.2 707.6,640.4 705.4,638.9C703.2,637.4 698.9,632.5 697.6,631.2" fill="none" stroke="#d0362b" stroke-width="4.8" stroke-linecap="round" stroke-linejoin="round" />
<path d="M709.3,640.2C708.2,641.3 705.2,645.0 702.8,646.7C700.4,648.4 696.3,650.0 695.0,650.6" fill="none" stroke="#d0362b" stroke-width="3.8" stroke-linecap="round" stroke-linejoin="round" />
<path d="M484.0,802.5C491.7,802.4 514.8,802.2 530.0,802.0C545.2,801.8 560.0,801.4 575.0,801.0C590.0,800.6 608.0,800.1 620.0,799.5C632.0,798.9 638.7,798.7 646.7,797.4C654.7,796.1 661.8,794.7 668.0,791.5C674.2,788.3 681.3,780.2 684.0,778.0" fill="none" stroke="#177a3b" stroke-width="14.2" stroke-linecap="butt" stroke-linejoin="round" />
<path d="M690.0,790.0C692.5,788.6 700.3,783.6 705.0,781.5C709.7,779.4 711.8,778.8 718.0,777.5C724.2,776.2 734.0,774.9 742.0,774.0C750.0,773.1 756.0,772.9 765.7,772.4C775.4,771.9 787.6,771.4 800.0,771.0C812.4,770.6 833.3,770.2 840.0,770.0" fill="none" stroke="#177a3b" stroke-width="14.2" stroke-linecap="butt" stroke-linejoin="round" />
<path d="M680.7,281.5C680.7,284.6 680.6,293.6 680.7,300.0C680.8,306.4 681.1,313.7 681.3,320.0C681.5,326.3 681.2,331.1 681.7,337.8C682.2,344.5 683.6,353.1 684.5,360.0C685.4,366.9 686.7,372.4 686.9,379.1C687.1,385.8 686.2,393.1 685.5,400.0C684.8,406.9 683.7,411.9 682.8,420.5C681.9,429.1 680.9,440.0 680.3,451.6C679.6,463.2 679.2,477.3 678.9,490.0C678.6,502.7 678.5,517.1 678.7,527.6C678.9,538.1 679.6,544.4 680.2,553.0C680.9,561.6 681.7,570.7 682.6,579.4C683.5,588.1 684.4,596.4 685.5,605.0C686.6,613.6 688.0,623.5 689.1,631.2C690.2,638.9 691.0,644.5 692.0,651.0C693.0,657.5 694.3,661.8 695.0,670.0C695.7,678.2 696.2,691.7 696.3,700.0C696.4,708.3 696.2,713.3 695.8,720.0C695.4,726.7 695.0,732.7 694.0,740.0C693.0,747.3 690.7,760.0 690.0,764.0" fill="none" stroke="#177a3b" stroke-width="19.2" stroke-linecap="round" stroke-linejoin="round" />
<polygon points="683.0,756.0 701.0,756.0 702.0,778.0 690.0,793.0 668.0,799.0 664.0,788.0 678.0,776.0" fill="#177a3b" stroke="none" stroke-width="0" />
<path d="M484.0,775.0C491.7,775.0 514.8,775.2 530.0,775.0C545.2,774.8 561.7,774.4 575.0,773.6C588.3,772.9 599.2,771.9 610.0,770.5C620.8,769.1 628.3,767.1 640.0,765.0C651.7,762.9 667.0,760.0 680.0,758.0C693.0,756.0 703.7,754.4 718.0,753.0C732.3,751.6 752.0,750.3 765.7,749.5C779.4,748.7 787.6,748.4 800.0,748.0C812.4,747.6 833.3,747.2 840.0,747.0" fill="none" stroke="#3f6eae" stroke-width="14.0" stroke-linecap="butt" stroke-linejoin="round" />
<path d="M741.6,682.9C741.4,685.8 741.1,694.5 740.3,700.0C739.5,705.5 738.2,710.7 737.0,716.0C735.8,721.3 734.4,726.7 733.0,732.0C731.6,737.3 729.8,742.9 728.5,748.0C727.2,753.1 726.3,757.9 725.2,762.9C724.1,767.9 723.0,773.1 722.0,778.0C721.0,782.9 720.2,788.2 719.5,792.0C718.8,795.8 718.2,799.5 718.0,801.0" fill="none" stroke="#d0362b" stroke-width="17.5" stroke-linecap="round" stroke-linejoin="round" />
<path d="M484.0,822.5C491.7,822.6 514.8,822.9 530.0,823.0C545.2,823.1 560.0,823.2 575.0,823.0C590.0,822.8 608.0,822.2 620.0,821.5C632.0,820.8 638.0,819.9 646.7,818.8C655.4,817.7 664.1,816.4 672.0,815.0C679.9,813.6 686.6,812.1 694.3,810.5C702.0,808.9 710.0,807.1 718.0,805.5C726.0,803.9 734.2,802.3 742.0,801.0C749.8,799.7 757.1,798.5 765.0,797.5C772.9,796.5 782.0,795.7 789.5,795.0C797.0,794.3 801.6,793.9 810.0,793.5C818.4,793.1 835.0,792.8 840.0,792.6" fill="none" stroke="#d0362b" stroke-width="15.5" stroke-linecap="butt" stroke-linejoin="round" />
<path d="M671.0,295.3C672.7,295.8 677.7,297.8 681.0,298.5C684.3,299.2 689.3,299.3 691.0,299.5" fill="none" stroke="#86b28c" stroke-width="1.7" stroke-linecap="round" stroke-linejoin="round" />
<path d="M673.0,334.7C674.5,335.2 679.0,336.8 682.0,338.0C685.0,339.2 689.5,341.3 691.0,342.0" fill="none" stroke="#86b28c" stroke-width="1.7" stroke-linecap="round" stroke-linejoin="round" />
<path d="M674.5,386.0C676.4,386.7 682.2,388.3 686.0,390.0C689.8,391.7 695.2,395.0 697.0,396.0" fill="none" stroke="#86b28c" stroke-width="1.7" stroke-linecap="round" stroke-linejoin="round" />
<path d="M670.5,438.5C672.2,438.6 677.4,439.3 681.0,438.8C684.6,438.3 690.2,436.1 692.0,435.5" fill="none" stroke="#86b28c" stroke-width="1.7" stroke-linecap="round" stroke-linejoin="round" />
<path d="M670.0,521.0C671.5,521.8 676.0,525.0 679.0,526.0C682.0,527.0 686.5,526.8 688.0,527.0" fill="none" stroke="#86b28c" stroke-width="1.7" stroke-linecap="round" stroke-linejoin="round" />
<path d="M682.0,648.0C683.3,648.8 687.5,652.2 690.0,652.5C692.5,652.8 695.8,650.4 697.0,650.0" fill="none" stroke="#86b28c" stroke-width="1.7" stroke-linecap="round" stroke-linejoin="round" />
<path d="M478.0,524.0 L479.1,524.5 L480.6,525.1 L482.4,525.8 L484.3,526.7 L486.2,527.6 L488.0,528.5 L489.6,529.4 L491.3,530.4 L492.9,531.4 L494.5,532.5 L496.0,533.7 L497.5,535.0 L498.9,536.4 L500.3,538.0 L501.6,539.6 L502.9,541.3 L504.0,543.1 L505.0,545.0 L505.8,546.9 L506.6,549.0 L507.2,551.1 L507.7,553.3 L508.1,555.6 L508.5,558.0 L508.8,560.5 L508.9,562.9 L509.0,565.4 L509.0,568.2 L509.0,571.4 L509.0,575.0 L509.0,579.2 L509.0,584.0 L509.0,589.1 L509.0,594.4 L509.0,599.7 L509.0,605.0 L509.0,610.5 L509.0,616.5 L509.0,622.5 L509.0,628.2 L509.0,633.2 L509.0,637.0 L509.1,639.4 L509.1,640.8 L509.2,641.4 L509.3,641.6 L509.4,641.9 L509.6,642.5 L509.8,643.3 L510.1,644.2 L510.4,645.1 L510.7,646.0 L511.0,646.8 L511.4,647.6 L511.8,648.4 L512.3,649.2 L512.8,650.0 L513.3,650.8 L513.8,651.6 L514.3,652.3 L514.9,653.0 L515.5,653.7 L516.2,654.3 L516.8,655.0 L517.5,655.6 L518.2,656.2 L518.9,656.7 L519.7,657.2 L520.5,657.7 L521.3,658.2 L522.1,658.7 L522.9,659.1 L523.7,659.5 L524.5,659.8 L525.4,660.1 L526.3,660.4 L527.2,660.7 L528.0,660.9 L528.9,661.1 L529.8,661.2 L530.8,661.3 L531.7,661.4 L532.6,661.5 L533.5,661.5 L534.4,661.5 L535.3,661.4 L536.2,661.3 L537.2,661.2 L538.1,661.1 L539.0,660.9 L539.8,660.7 L540.7,660.4 L541.6,660.1 L542.5,659.8 L543.3,659.5 L544.1,659.1 L544.9,658.7 L545.7,658.2 L546.5,657.7 L547.3,657.2 L548.1,656.7 L548.8,656.2 L549.5,655.6 L550.2,655.0 L550.8,654.3 L551.5,653.7 L552.1,653.0 L552.7,652.3 L553.2,651.6 L553.7,650.8 L554.2,650.0 L554.7,649.2 L555.2,648.4 L555.6,647.6 L556.0,646.8 L556.3,646.0 L556.6,645.1 L556.9,644.2 L557.2,643.3 L557.4,642.5 L557.6,641.9 L557.7,641.8 L557.8,641.7 L557.9,641.2 L557.9,639.7 L558.0,637.0 L558.0,632.5 L558.0,626.5 L558.0,619.7 L558.0,612.5 L558.0,605.8 L558.0,600.0 L558.0,595.1 L558.0,590.7 L558.0,586.6 L558.0,582.8 L558.0,579.3 L558.0,576.0 L558.0,573.1 L558.0,570.5 L558.0,568.2 L558.0,566.1 L558.1,564.0 L558.3,562.0 L558.5,560.0 L558.7,558.1 L559.0,556.3 L559.3,554.6 L559.8,552.8 L560.5,551.0 L561.3,549.1 L562.3,547.3 L563.5,545.4 L564.7,543.5 L566.1,541.7 L567.5,540.0 L569.0,538.4 L570.7,536.8 L572.5,535.3 L574.3,533.9 L576.2,532.4 L578.0,531.0 L579.8,529.6 L581.8,528.1 L583.7,526.8 L585.6,525.4 L587.4,523.9 L589.0,522.5 L590.5,521.1 L591.9,519.6 L593.3,518.2 L594.5,516.7 L595.6,515.2 L596.5,513.5 L597.2,511.7 L597.8,509.9 L598.2,508.0 L598.5,506.0 L598.8,504.0 L599.0,502.0 L599.2,500.0 L599.3,498.0 L599.3,496.0 L599.3,493.8 L599.3,491.5 L599.4,489.0 L599.5,486.4 L599.5,483.9 L599.6,481.2 L599.7,478.1 L599.8,474.5 L600.0,470.0 L600.3,464.7 L600.6,458.6 L600.9,451.9 L601.3,444.9 L601.7,437.5 L602.0,430.0 L602.3,422.2 L602.7,414.1 L603.0,405.6 L603.3,397.0 L603.7,388.4 L604.0,380.0 L604.3,371.4 L604.7,362.6 L605.1,353.8 L605.4,345.2 L605.7,337.2 L606.0,330.0 L606.2,323.6 L606.4,317.6 L606.6,312.3 L606.8,307.5 L606.9,303.4 L607.0,300.0 L607.1,297.6 L607.1,296.2 L607.1,295.4 L607.2,295.0 L607.2,294.6 L607.2,293.8 L607.3,292.8 L607.4,291.8 L607.5,290.7 L607.7,289.7 L607.8,288.7 L608.0,287.7 L608.1,286.7 L608.3,285.6 L608.5,284.6 L608.7,283.6 L608.9,282.6 L609.2,281.6 L609.4,280.6 L609.7,279.6 L610.0,278.6 L610.2,277.6 L610.5,276.6 L610.9,275.7 L611.2,274.7 L611.5,273.7 L611.9,272.7 L612.2,271.8 L612.6,270.8 L613.0,269.9 L613.4,268.9 L613.8,268.0 L614.2,267.0 L614.7,266.1 L615.1,265.2 L615.6,264.2 L616.1,263.3 L616.5,262.4 L617.0,261.5 L617.6,260.6 L618.1,259.7 L618.6,258.9 L619.1,258.0 L619.7,257.1 L620.3,256.2 L620.9,255.4 L621.4,254.5 L622.0,253.7 L622.7,252.9 L623.3,252.1 L623.9,251.2 L624.6,250.4 L625.2,249.6 L625.9,248.9 L626.5,248.1 L627.2,247.3 L627.9,246.5 L628.6,245.8 L629.3,245.0 L630.1,244.3 L630.8,243.6 L631.5,242.9 L632.3,242.2 L633.1,241.5 L633.8,240.8 L634.6,240.1 L635.4,239.5 L636.2,238.8 L637.0,238.2 L637.8,237.5 L638.6,236.9 L639.5,236.3 L640.3,235.7 L641.1,235.1 L642.0,234.5 L642.9,234.0 L643.7,233.4 L644.6,232.9 L645.5,232.3 L646.4,231.8 L647.3,231.3 L648.2,230.8 L649.1,230.3 L650.0,229.8 L650.9,229.4 L651.8,228.9 L652.8,228.5 L653.7,228.1 L654.7,227.6 L655.6,227.2 L656.6,226.9 L657.5,226.5 L658.5,226.1 L659.5,225.8 L660.4,225.4 L661.4,225.1 L662.4,224.8 L663.4,224.5 L664.4,224.2 L665.4,223.9 L666.4,223.7 L667.4,223.4 L668.4,223.2 L669.4,223.0 L670.4,222.8 L671.4,222.6 L672.4,222.4 L673.4,222.2 L674.4,222.1 L675.5,221.9 L676.5,221.8 L677.5,221.7 L678.5,221.6 L679.6,221.5 L680.6,221.4 L681.6,221.4 L682.7,221.3 L683.7,221.3 L684.7,221.3 L685.8,221.2 L686.8,221.3 L687.8,221.3 L688.8,221.3 L689.9,221.4 L690.9,221.4 L691.9,221.5 L693.0,221.6 L694.0,221.7 L695.0,221.8 L696.0,221.9 L697.1,222.1 L698.1,222.2 L699.1,222.4 L700.1,222.6 L701.1,222.8 L702.1,223.0 L703.1,223.2 L704.1,223.4 L705.1,223.7 L706.1,223.9 L707.1,224.2 L708.1,224.5 L709.1,224.8 L710.1,225.1 L711.1,225.4 L712.0,225.8 L713.0,226.1 L714.0,226.5 L714.9,226.9 L715.9,227.2 L716.8,227.6 L717.8,228.1 L718.7,228.5 L719.7,228.9 L720.6,229.4 L721.5,229.8 L722.4,230.3 L723.3,230.8 L724.2,231.3 L725.1,231.8 L726.0,232.3 L726.9,232.9 L727.8,233.4 L728.6,234.0 L729.5,234.5 L730.4,235.1 L731.2,235.7 L732.0,236.3 L732.9,236.9 L733.7,237.5 L734.5,238.2 L735.3,238.8 L736.1,239.5 L736.9,240.1 L737.7,240.8 L738.4,241.5 L739.2,242.2 L740.0,242.9 L740.7,243.6 L741.4,244.3 L742.2,245.0 L742.9,245.8 L743.6,246.5 L744.3,247.3 L745.0,248.1 L745.6,248.9 L746.3,249.6 L746.9,250.4 L747.6,251.2 L748.2,252.1 L748.8,252.9 L749.5,253.7 L750.1,254.5 L750.6,255.4 L751.2,256.2 L751.8,257.1 L752.4,258.0 L752.9,258.9 L753.4,259.7 L753.9,260.6 L754.5,261.5 L755.0,262.4 L755.4,263.3 L755.9,264.2 L756.4,265.2 L756.8,266.1 L757.3,267.0 L757.7,268.0 L758.1,268.9 L758.5,269.9 L758.9,270.8 L759.3,271.8 L759.6,272.7 L760.0,273.7 L760.3,274.7 L760.6,275.7 L761.0,276.6 L761.3,277.6 L761.5,278.6 L761.8,279.6 L762.1,280.6 L762.3,281.6 L762.6,282.6 L762.8,283.6 L763.0,284.6 L763.2,285.6 L763.4,286.7 L763.5,287.7 L763.7,288.7 L763.8,289.7 L764.0,290.7 L764.1,291.8 L764.2,292.8 L764.3,293.8 L764.3,294.6 L764.3,295.0 L764.4,295.4 L764.4,296.2 L764.4,297.6 L764.5,300.0 L764.6,303.4 L764.8,307.5 L764.9,312.3 L765.1,317.6 L765.3,323.6 L765.5,330.0 L765.7,337.2 L765.9,345.2 L766.2,353.8 L766.4,362.6 L766.7,371.4 L767.0,380.0 L767.3,388.4 L767.6,397.0 L768.0,405.6 L768.4,414.1 L768.7,422.2 L769.0,430.0 L769.3,437.5 L769.5,444.7 L769.8,451.8 L770.0,458.4 L770.3,464.5 L770.5,470.0 L770.7,474.8 L770.9,478.8 L771.0,482.4 L771.2,485.6 L771.5,488.8 L772.0,492.0 L772.6,495.3 L773.2,498.5 L774.0,501.6 L774.8,504.5 L775.8,507.3 L777.0,510.0 L778.3,512.5 L779.9,514.9 L781.5,517.1 L783.3,519.1 L785.1,521.1 L787.0,523.0 L789.0,524.8 L791.0,526.4 L793.2,528.0 L795.4,529.4 L797.7,530.8 L800.0,532.0 L802.3,533.1 L804.7,534.0 L807.1,534.8 L809.6,535.6 L812.2,536.3 L815.0,537.0 L818.1,537.7 L821.5,538.5 L825.0,539.2 L828.5,539.9 L831.9,540.5 L835.0,541.0 L838.0,541.5 L840.9,541.9 L843.8,542.2 L846.3,542.6 L848.4,542.8 L850.0,543.0" fill="none" stroke="#220c07" stroke-width="20" stroke-linejoin="round"/>
<g fill="#220c07" stroke="#220c07" stroke-width="10.9" stroke-linejoin="round"><polygon points="486.5,517.9 488.3,518.7 480.3,534.5 479.1,534.0"/><polygon points="496.7,524.2 498.7,525.5 488.4,539.3 487.0,538.3"/><polygon points="507.0,531.2 509.9,534.9 494.3,545.5 493.0,543.8"/><polygon points="513.8,544.0 514.9,546.9 498.3,552.5 497.6,550.6"/><polygon points="518.5,556.3 518.7,558.0 499.4,560.2 499.2,558.8"/><polygon points="517.8,568.1 517.8,569.8 500.3,569.9 500.3,568.7"/><polygon points="517.5,579.8 517.5,582.9 500.2,582.9 500.2,579.9"/><polygon points="518.8,592.9 518.8,595.4 500.2,595.4 500.2,592.9"/><polygon points="517.5,605.4 517.5,607.9 499.8,607.9 499.8,605.4"/><polygon points="517.9,617.7 517.9,618.6 499.1,618.5 499.1,617.7"/><polygon points="517.6,628.4 517.6,630.3 499.7,630.5 499.7,628.4"/><polygon points="519.3,637.7 519.7,640.0 501.4,644.6 500.7,640.4"/><polygon points="521.4,643.7 522.8,645.7 507.4,657.3 505.0,653.7"/><polygon points="524.5,649.4 526.6,650.7 518.2,666.2 514.6,663.9"/><polygon points="530.4,652.4 532.9,652.7 531.8,669.9 527.5,669.4"/><polygon points="537.4,651.6 540.3,650.5 548.9,666.5 541.5,669.3"/><polygon points="543.4,646.9 545.3,644.6 561.3,654.5 556.4,660.4"/><polygon points="548.6,640.3 549.1,637.8 566.0,639.7 565.0,645.5"/><polygon points="549.1,629.7 549.1,627.3 566.9,627.2 566.9,629.8"/><polygon points="549.2,617.4 549.2,616.6 567.8,616.6 567.8,617.4"/><polygon points="549.3,606.8 549.3,605.8 566.7,605.7 566.7,606.7"/><polygon points="547.7,595.8 547.7,593.8 567.3,593.7 567.3,595.7"/><polygon points="547.6,583.8 547.6,581.2 567.1,581.3 567.1,583.7"/><polygon points="547.9,571.2 547.9,567.5 567.6,568.9 567.5,571.3"/><polygon points="549.3,557.7 550.5,551.5 568.9,558.0 568.4,560.3"/><polygon points="554.6,542.6 555.8,540.6 571.2,549.9 570.3,551.5"/><polygon points="562.5,533.2 565.4,530.3 577.7,544.0 576.4,545.4"/><polygon points="572.1,522.7 574.0,521.3 585.9,537.4 584.5,538.4"/><polygon points="581.7,516.6 582.9,515.4 595.9,528.6 593.4,530.8"/><polygon points="586.0,510.9 587.3,508.6 604.5,516.7 602.1,520.9"/><polygon points="588.5,503.5 588.8,501.8 607.9,503.9 607.4,507.3"/><polygon points="589.6,493.4 589.7,492.5 608.8,493.2 608.8,494.0"/><polygon points="590.6,482.8 590.7,479.7 609.4,480.4 609.4,483.3"/><polygon points="589.7,469.6 589.9,466.5 608.8,467.5 608.7,470.3"/><polygon points="590.3,456.5 590.4,454.5 610.6,455.5 610.5,457.5"/><polygon points="591.5,444.5 591.6,443.6 610.0,444.5 609.9,445.5"/><polygon points="591.6,433.6 591.8,430.6 610.7,431.4 610.6,434.5"/><polygon points="592.1,420.6 592.1,418.7 611.9,419.5 611.8,421.5"/><polygon points="594.3,408.7 594.5,405.8 611.8,406.4 611.7,409.4"/><polygon points="593.7,395.7 593.8,392.7 612.8,393.5 612.7,396.5"/><polygon points="594.0,382.7 594.1,381.2 613.7,382.0 613.7,383.5"/><polygon points="595.5,371.3 595.6,369.8 613.0,370.5 612.9,372.0"/><polygon points="594.6,359.7 594.6,357.7 613.5,358.5 613.4,360.5"/><polygon points="595.1,347.7 595.2,346.2 614.1,347.0 614.0,348.5"/><polygon points="595.7,336.4 595.8,335.6 615.4,336.3 615.3,337.2"/><polygon points="596.0,325.8 596.0,324.8 615.5,325.5 615.4,326.5"/><polygon points="596.4,314.8 596.4,312.3 615.5,312.9 615.4,315.5"/><polygon points="597.2,302.7 597.2,301.9 616.0,302.5 615.9,303.4"/><polygon points="597.3,292.3 597.5,291.1 617.1,293.0 617.0,294.2"/><polygon points="599.9,281.4 600.7,278.1 618.5,283.3 618.2,284.8"/><polygon points="604.5,268.8 605.3,266.8 621.0,273.5 620.5,274.8"/><polygon points="608.7,257.3 610.4,254.4 626.2,264.6 625.4,265.9"/><polygon points="615.6,245.8 617.4,243.5 632.2,256.2 631.2,257.4"/><polygon points="625.3,237.2 626.9,235.7 638.7,248.8 637.7,249.8"/><polygon points="633.8,228.4 638.1,225.5 647.6,242.3 646.0,243.3"/><polygon points="647.5,221.9 649.0,221.2 656.6,237.5 655.4,238.1"/><polygon points="657.6,216.0 660.5,215.1 665.4,233.2 664.0,233.6"/><polygon points="670.3,213.3 672.0,213.0 674.9,231.3 673.6,231.6"/><polygon points="681.9,211.6 685.4,211.5 684.9,230.5 683.3,230.5"/><polygon points="695.3,213.1 697.5,213.4 694.9,231.3 693.5,231.1"/><polygon points="707.6,213.9 710.0,214.5 704.5,232.7 703.2,232.3"/><polygon points="718.8,219.4 722.3,220.9 714.1,237.0 712.6,236.3"/><polygon points="731.9,224.2 733.9,225.5 723.2,241.7 722.0,240.9"/><polygon points="741.4,232.1 744.0,234.4 731.0,248.1 729.9,247.1"/><polygon points="751.5,240.9 754.5,244.4 739.5,255.4 738.4,254.1"/><polygon points="760.6,252.4 761.6,253.9 745.3,263.8 744.6,262.6"/><polygon points="765.3,263.3 765.7,264.3 748.8,272.1 748.2,270.9"/><polygon points="769.5,273.6 770.0,275.2 751.9,280.5 751.5,279.2"/><polygon points="771.7,285.1 772.3,288.9 753.9,290.5 753.7,288.9"/><polygon points="773.2,298.9 773.3,301.1 755.8,301.7 755.7,300.0"/><polygon points="774.3,311.1 774.3,312.1 755.9,312.7 755.9,311.7"/><polygon points="774.7,322.1 774.8,323.1 755.5,323.7 755.5,322.8"/><polygon points="775.4,333.0 775.4,333.8 757.0,334.4 757.0,333.5"/><polygon points="774.9,343.7 775.0,345.2 756.6,345.7 756.6,344.2"/><polygon points="775.6,354.7 775.6,355.5 756.7,356.1 756.7,355.3"/><polygon points="775.9,365.1 776.0,367.6 757.9,368.2 757.8,365.7"/><polygon points="775.8,377.6 775.9,380.6 757.3,381.3 757.2,378.2"/><polygon points="776.5,390.6 776.6,393.5 757.9,394.3 757.8,391.3"/><polygon points="778.3,403.5 778.4,406.0 758.6,406.8 758.5,404.3"/><polygon points="778.2,416.0 778.3,419.0 759.2,419.8 759.1,416.8"/><polygon points="778.0,428.6 778.0,429.4 759.2,430.1 759.2,429.3"/><polygon points="778.7,439.0 778.7,440.0 759.6,440.7 759.6,439.7"/><polygon points="778.7,450.0 778.8,453.0 760.1,453.7 760.0,450.7"/><polygon points="780.2,463.0 780.3,465.4 760.9,466.3 760.8,463.7"/><polygon points="780.0,475.4 780.1,476.8 762.0,477.8 762.0,476.2"/><polygon points="781.5,486.7 781.7,488.4 763.1,491.9 762.6,487.8"/><polygon points="783.2,497.6 783.6,499.2 766.1,505.1 765.2,501.7"/><polygon points="785.5,507.0 786.6,508.9 772.6,518.8 769.9,514.3"/><polygon points="792.3,513.8 793.4,515.0 780.5,528.6 778.6,526.7"/><polygon points="799.0,519.4 800.3,520.3 789.9,536.4 788.0,535.1"/><polygon points="806.5,524.2 808.1,524.8 801.9,542.2 798.7,541.0"/><polygon points="816.0,527.2 817.0,527.5 812.5,545.3 811.4,545.0"/><polygon points="825.9,529.9 826.9,530.1 823.3,548.8 822.0,548.5"/><polygon points="836.5,532.3 839.0,532.7 836.7,550.7 833.3,550.2"/></g>
<g fill="#ee826f" stroke="#ee826f" stroke-width="6.5" stroke-linejoin="round"><polygon points="486.5,517.9 488.3,518.7 480.3,534.5 479.1,534.0"/><polygon points="496.7,524.2 498.7,525.5 488.4,539.3 487.0,538.3"/><polygon points="507.0,531.2 509.9,534.9 494.3,545.5 493.0,543.8"/><polygon points="513.8,544.0 514.9,546.9 498.3,552.5 497.6,550.6"/><polygon points="518.5,556.3 518.7,558.0 499.4,560.2 499.2,558.8"/><polygon points="517.8,568.1 517.8,569.8 500.3,569.9 500.3,568.7"/><polygon points="517.5,579.8 517.5,582.9 500.2,582.9 500.2,579.9"/><polygon points="518.8,592.9 518.8,595.4 500.2,595.4 500.2,592.9"/><polygon points="517.5,605.4 517.5,607.9 499.8,607.9 499.8,605.4"/><polygon points="517.9,617.7 517.9,618.6 499.1,618.5 499.1,617.7"/><polygon points="517.6,628.4 517.6,630.3 499.7,630.5 499.7,628.4"/><polygon points="519.3,637.7 519.7,640.0 501.4,644.6 500.7,640.4"/><polygon points="521.4,643.7 522.8,645.7 507.4,657.3 505.0,653.7"/><polygon points="524.5,649.4 526.6,650.7 518.2,666.2 514.6,663.9"/><polygon points="530.4,652.4 532.9,652.7 531.8,669.9 527.5,669.4"/><polygon points="537.4,651.6 540.3,650.5 548.9,666.5 541.5,669.3"/><polygon points="543.4,646.9 545.3,644.6 561.3,654.5 556.4,660.4"/><polygon points="548.6,640.3 549.1,637.8 566.0,639.7 565.0,645.5"/><polygon points="549.1,629.7 549.1,627.3 566.9,627.2 566.9,629.8"/><polygon points="549.2,617.4 549.2,616.6 567.8,616.6 567.8,617.4"/><polygon points="549.3,606.8 549.3,605.8 566.7,605.7 566.7,606.7"/><polygon points="547.7,595.8 547.7,593.8 567.3,593.7 567.3,595.7"/><polygon points="547.6,583.8 547.6,581.2 567.1,581.3 567.1,583.7"/><polygon points="547.9,571.2 547.9,567.5 567.6,568.9 567.5,571.3"/><polygon points="549.3,557.7 550.5,551.5 568.9,558.0 568.4,560.3"/><polygon points="554.6,542.6 555.8,540.6 571.2,549.9 570.3,551.5"/><polygon points="562.5,533.2 565.4,530.3 577.7,544.0 576.4,545.4"/><polygon points="572.1,522.7 574.0,521.3 585.9,537.4 584.5,538.4"/><polygon points="581.7,516.6 582.9,515.4 595.9,528.6 593.4,530.8"/><polygon points="586.0,510.9 587.3,508.6 604.5,516.7 602.1,520.9"/><polygon points="588.5,503.5 588.8,501.8 607.9,503.9 607.4,507.3"/><polygon points="589.6,493.4 589.7,492.5 608.8,493.2 608.8,494.0"/><polygon points="590.6,482.8 590.7,479.7 609.4,480.4 609.4,483.3"/><polygon points="589.7,469.6 589.9,466.5 608.8,467.5 608.7,470.3"/><polygon points="590.3,456.5 590.4,454.5 610.6,455.5 610.5,457.5"/><polygon points="591.5,444.5 591.6,443.6 610.0,444.5 609.9,445.5"/><polygon points="591.6,433.6 591.8,430.6 610.7,431.4 610.6,434.5"/><polygon points="592.1,420.6 592.1,418.7 611.9,419.5 611.8,421.5"/><polygon points="594.3,408.7 594.5,405.8 611.8,406.4 611.7,409.4"/><polygon points="593.7,395.7 593.8,392.7 612.8,393.5 612.7,396.5"/><polygon points="594.0,382.7 594.1,381.2 613.7,382.0 613.7,383.5"/><polygon points="595.5,371.3 595.6,369.8 613.0,370.5 612.9,372.0"/><polygon points="594.6,359.7 594.6,357.7 613.5,358.5 613.4,360.5"/><polygon points="595.1,347.7 595.2,346.2 614.1,347.0 614.0,348.5"/><polygon points="595.7,336.4 595.8,335.6 615.4,336.3 615.3,337.2"/><polygon points="596.0,325.8 596.0,324.8 615.5,325.5 615.4,326.5"/><polygon points="596.4,314.8 596.4,312.3 615.5,312.9 615.4,315.5"/><polygon points="597.2,302.7 597.2,301.9 616.0,302.5 615.9,303.4"/><polygon points="597.3,292.3 597.5,291.1 617.1,293.0 617.0,294.2"/><polygon points="599.9,281.4 600.7,278.1 618.5,283.3 618.2,284.8"/><polygon points="604.5,268.8 605.3,266.8 621.0,273.5 620.5,274.8"/><polygon points="608.7,257.3 610.4,254.4 626.2,264.6 625.4,265.9"/><polygon points="615.6,245.8 617.4,243.5 632.2,256.2 631.2,257.4"/><polygon points="625.3,237.2 626.9,235.7 638.7,248.8 637.7,249.8"/><polygon points="633.8,228.4 638.1,225.5 647.6,242.3 646.0,243.3"/><polygon points="647.5,221.9 649.0,221.2 656.6,237.5 655.4,238.1"/><polygon points="657.6,216.0 660.5,215.1 665.4,233.2 664.0,233.6"/><polygon points="670.3,213.3 672.0,213.0 674.9,231.3 673.6,231.6"/><polygon points="681.9,211.6 685.4,211.5 684.9,230.5 683.3,230.5"/><polygon points="695.3,213.1 697.5,213.4 694.9,231.3 693.5,231.1"/><polygon points="707.6,213.9 710.0,214.5 704.5,232.7 703.2,232.3"/><polygon points="718.8,219.4 722.3,220.9 714.1,237.0 712.6,236.3"/><polygon points="731.9,224.2 733.9,225.5 723.2,241.7 722.0,240.9"/><polygon points="741.4,232.1 744.0,234.4 731.0,248.1 729.9,247.1"/><polygon points="751.5,240.9 754.5,244.4 739.5,255.4 738.4,254.1"/><polygon points="760.6,252.4 761.6,253.9 745.3,263.8 744.6,262.6"/><polygon points="765.3,263.3 765.7,264.3 748.8,272.1 748.2,270.9"/><polygon points="769.5,273.6 770.0,275.2 751.9,280.5 751.5,279.2"/><polygon points="771.7,285.1 772.3,288.9 753.9,290.5 753.7,288.9"/><polygon points="773.2,298.9 773.3,301.1 755.8,301.7 755.7,300.0"/><polygon points="774.3,311.1 774.3,312.1 755.9,312.7 755.9,311.7"/><polygon points="774.7,322.1 774.8,323.1 755.5,323.7 755.5,322.8"/><polygon points="775.4,333.0 775.4,333.8 757.0,334.4 757.0,333.5"/><polygon points="774.9,343.7 775.0,345.2 756.6,345.7 756.6,344.2"/><polygon points="775.6,354.7 775.6,355.5 756.7,356.1 756.7,355.3"/><polygon points="775.9,365.1 776.0,367.6 757.9,368.2 757.8,365.7"/><polygon points="775.8,377.6 775.9,380.6 757.3,381.3 757.2,378.2"/><polygon points="776.5,390.6 776.6,393.5 757.9,394.3 757.8,391.3"/><polygon points="778.3,403.5 778.4,406.0 758.6,406.8 758.5,404.3"/><polygon points="778.2,416.0 778.3,419.0 759.2,419.8 759.1,416.8"/><polygon points="778.0,428.6 778.0,429.4 759.2,430.1 759.2,429.3"/><polygon points="778.7,439.0 778.7,440.0 759.6,440.7 759.6,439.7"/><polygon points="778.7,450.0 778.8,453.0 760.1,453.7 760.0,450.7"/><polygon points="780.2,463.0 780.3,465.4 760.9,466.3 760.8,463.7"/><polygon points="780.0,475.4 780.1,476.8 762.0,477.8 762.0,476.2"/><polygon points="781.5,486.7 781.7,488.4 763.1,491.9 762.6,487.8"/><polygon points="783.2,497.6 783.6,499.2 766.1,505.1 765.2,501.7"/><polygon points="785.5,507.0 786.6,508.9 772.6,518.8 769.9,514.3"/><polygon points="792.3,513.8 793.4,515.0 780.5,528.6 778.6,526.7"/><polygon points="799.0,519.4 800.3,520.3 789.9,536.4 788.0,535.1"/><polygon points="806.5,524.2 808.1,524.8 801.9,542.2 798.7,541.0"/><polygon points="816.0,527.2 817.0,527.5 812.5,545.3 811.4,545.0"/><polygon points="825.9,529.9 826.9,530.1 823.3,548.8 822.0,548.5"/><polygon points="836.5,532.3 839.0,532.7 836.7,550.7 833.3,550.2"/></g>
<path d="M524.5,520 L524.5,640 Q524.5,652 533,652 Q541.5,652 541.5,640 L541.5,552 Q544,532 556,522 L520,516 Z" fill="#ffffff" style="display:none"/>
<path d="M514,523.5 Q524,524.5 529,521.5 Q533,519.5 538,521.5 Q543,523.5 553.5,520.5 Q543,530 539.5,540 Q537,548 535,553 Q532.5,547 530,540 Q526,531 514,523.5 Z" fill="#e2e4e4" stroke="#3a3a3a" stroke-width="1.8"/>
<path d="M527.5,524.5 Q533,520.5 539.5,524.5 Q536,534 534.2,542 Q531.5,534 527.5,524.5 Z" fill="#8e9292"/>
<circle cx="534.6" cy="557.5" r="1.1" fill="#222"/>
</g>
<path d="M491,620.8 V624.2 M491,636 V639 M491,652 V656.5" stroke="#2a2a2a" stroke-width="2" fill="none"/>
<defs><clipPath id="cpR"><rect x="873" y="327" width="721.2" height="384.5"/></clipPath></defs>
<rect x="1529" y="327" width="65.2" height="386.4" fill="#e0eff9"/>
<g clip-path="url(#cpR)">
<rect x="873" y="327.0" width="230" height="384.5" fill="#c6d84b"/>
<path d="M1092.0,320.0C1089.7,324.2 1083.7,336.3 1078.0,345.0C1072.3,353.7 1065.0,363.2 1058.0,372.0C1051.0,380.8 1038.0,389.7 1036.0,398.0C1034.0,406.3 1043.3,415.0 1046.0,422.0C1048.7,429.0 1054.7,433.3 1052.0,440.0C1049.3,446.7 1037.3,453.3 1030.0,462.0C1022.7,470.7 1013.3,482.7 1008.0,492.0C1002.7,501.3 996.0,511.7 998.0,518.0C1000.0,524.3 1016.7,523.7 1020.0,530.0C1023.3,536.3 1020.3,546.0 1018.0,556.0C1015.7,566.0 1008.7,577.7 1006.0,590.0C1003.3,602.3 998.0,622.3 1002.0,630.0C1006.0,637.7 1023.7,631.0 1030.0,636.0C1036.3,641.0 1038.3,651.0 1040.0,660.0C1041.7,669.0 1039.0,680.0 1040.0,690.0C1041.0,700.0 1045.0,715.0 1046.0,720.0 L1170,720 L1170,320 Z" fill="#f6cac3"/>
<rect x="1438" y="327.0" width="156.2" height="386.4" fill="#e0eff9"/>
<path d="M1136.2,327.0 C1136.5,337 1140,341 1152,341.6 L1240,345.7 L1320,348.6 L1441,348.6 L1441,327.0 Z" fill="#ef826c"/>
<path d="M1320,692.4 L1240,691 L1165,694.3 C1146,695 1139,700 1138,711.5 L1441,711.5 L1441,692.4 Z" fill="#ef826c"/>
<path d="M1441,348.6 L1320,348.6 L1240,351.7 L1162,355.6 C1146,356.5 1137.4,362 1137.4,376 L1137.4,664 C1137.4,678 1146,684 1162,685 L1240,689 L1320,692.4 L1441,692.4 Z" fill="#ef826c"/>
<path d="M1530.3,326.0 C1527,333 1522,339 1512,339 L1490,339 C1472,339 1468,348.0 1440,348.6 L1440,326.0 Z" fill="#ef826c"/>
<path d="M1440,348.6 C1468,349.2 1472,358.2 1490,358.2 L1514.2,358.2 A13.3,13.3 0 0 1 1514.2,384.8 L1476.6,384.8 A5.4,5.40 0 0 0 1476.6,395.6 L1514.2,395.6 A13.3,13.3 0 0 1 1514.2,422.2 L1476.6,422.2 A5.4,5.40 0 0 0 1476.6,433.0 L1514.2,433.0 A13.3,13.3 0 0 1 1514.2,459.6 L1476.6,459.6 A5.4,5.40 0 0 0 1476.6,470.4 L1514.2,470.4 A13.3,13.3 0 0 1 1514.2,497.0 L1476.6,497.0 A5.4,5.40 0 0 0 1476.6,507.8 L1514.2,507.8 A13.3,13.3 0 0 1 1514.2,534.4 L1476.6,534.4 A5.4,5.40 0 0 0 1476.6,545.2 L1514.2,545.2 A13.3,13.3 0 0 1 1514.2,571.8 L1476.6,571.8 A5.4,5.40 0 0 0 1476.6,582.6 L1514.2,582.6 A13.3,13.3 0 0 1 1514.2,609.2 L1476.6,609.2 A5.4,5.40 0 0 0 1476.6,620.0 L1514.2,620.0 A13.3,13.3 0 0 1 1514.2,646.6 L1476.6,646.6 A5.4,5.50 0 0 0 1476.6,657.6 L1514.2,657.6 A13.3,13.3 0 0 1 1514.2,684.2 L1490,684.2 C1472,684.2 1468,691.8 1440,692.4 Z" fill="#ef826c"/>
<path d="M1440,692.4 C1468,693 1472,699 1490,699 L1512,699 C1522,699 1527,705 1530.3,712.5 L1440,712.5 Z" fill="#ef826c"/>
<path d="M1137,327.0 L1136.2,327.0 C1136.5,337 1140,341 1152,341.6 L1240,345.7 L1320,348.6 L1240,351.7 L1162,355.6 C1146,356.5 1137.4,362 1137.4,376 L1130,376 L1130,327.0 Z" fill="#f6cac3"/>
<path d="M1320,692.4 L1240,691 L1165,694.3 C1146,695 1139,700 1138,711.5 L1130,711.5 L1130,664 L1137.4,664 C1137.4,678 1146,684 1162,685 L1240,689 Z" fill="#f6cac3"/>
<circle cx="1152" cy="412" r="25" fill="#f6cac3"/>
<rect x="1128" y="392.5" width="12" height="39" fill="#f6cac3"/>
<path d="M1136.2,326.0 C1136.5,337 1140,341 1152,341.6 L1240,345.7 L1320,348.6" fill="none" stroke="#0d0d0d" stroke-width="3.8"/>
<path d="M1320,348.6 L1240,351.7 L1162,355.6 C1146,356.5 1137.4,362 1137.4,376 L1137.4,391.7 A25,25 0 1 1 1137.4,432.3 L1137.4,664 C1137.4,678 1146,684 1162,685 L1240,689 L1320,692.4" fill="none" stroke="#0d0d0d" stroke-width="3.8" stroke-linejoin="round"/>
<path d="M1320,692.4 L1240,691 L1165,694.3 C1146,695 1139,700 1138,712.5" fill="none" stroke="#0d0d0d" stroke-width="3.8"/>
<path d="M1316,348.6 L1441,348.6" stroke="#0d0d0d" stroke-width="4.4" fill="none"/>
<path d="M1316,692.4 L1441,692.4" stroke="#0d0d0d" stroke-width="4.4" fill="none"/>
<path d="M1530.3,326.0 C1527,333 1522,339 1512,339 L1490,339 C1472,339 1468,348.0 1440,348.6" fill="none" stroke="#0d0d0d" stroke-width="3.3" stroke-linejoin="round" stroke-linecap="round"/>
<path d="M1440,348.6 C1468,349.2 1472,358.2 1490,358.2 L1514.2,358.2 A13.3,13.3 0 0 1 1514.2,384.8 L1476.6,384.8 A5.4,5.40 0 0 0 1476.6,395.6 L1514.2,395.6 A13.3,13.3 0 0 1 1514.2,422.2 L1476.6,422.2 A5.4,5.40 0 0 0 1476.6,433.0 L1514.2,433.0 A13.3,13.3 0 0 1 1514.2,459.6 L1476.6,459.6 A5.4,5.40 0 0 0 1476.6,470.4 L1514.2,470.4 A13.3,13.3 0 0 1 1514.2,497.0 L1476.6,497.0 A5.4,5.40 0 0 0 1476.6,507.8 L1514.2,507.8 A13.3,13.3 0 0 1 1514.2,534.4 L1476.6,534.4 A5.4,5.40 0 0 0 1476.6,545.2 L1514.2,545.2 A13.3,13.3 0 0 1 1514.2,571.8 L1476.6,571.8 A5.4,5.40 0 0 0 1476.6,582.6 L1514.2,582.6 A13.3,13.3 0 0 1 1514.2,609.2 L1476.6,609.2 A5.4,5.40 0 0 0 1476.6,620.0 L1514.2,620.0 A13.3,13.3 0 0 1 1514.2,646.6 L1476.6,646.6 A5.4,5.50 0 0 0 1476.6,657.6 L1514.2,657.6 A13.3,13.3 0 0 1 1514.2,684.2 L1490,684.2 C1472,684.2 1468,691.8 1440,692.4" fill="none" stroke="#0d0d0d" stroke-width="3.3" stroke-linejoin="round" stroke-linecap="round"/>
<path d="M1440,692.4 C1468,693 1472,699 1490,699 L1512,699 C1522,699 1527,705 1530.3,712.5" fill="none" stroke="#0d0d0d" stroke-width="3.3" stroke-linejoin="round" stroke-linecap="round"/>
<path d="M1124.5,320.0C1124.3,321.7 1124.3,324.2 1123.6,330.0C1122.8,335.8 1121.5,346.4 1120.0,355.0C1118.5,363.6 1116.8,373.1 1114.8,381.4C1112.8,389.7 1110.4,397.1 1108.0,405.0C1105.6,412.9 1103.0,420.7 1100.5,429.0C1098.0,437.3 1095.0,447.1 1093.0,455.0C1091.0,462.9 1089.5,469.2 1088.8,476.7C1088.0,484.2 1088.0,492.4 1088.5,500.0C1089.0,507.6 1090.2,514.1 1092.0,522.0C1093.8,529.9 1097.4,538.8 1099.5,547.6C1101.6,556.4 1103.3,566.3 1104.5,575.0C1105.7,583.7 1105.8,590.8 1106.5,600.0C1107.2,609.2 1108.0,620.0 1108.8,630.0C1109.5,640.0 1110.0,650.0 1111.0,660.0C1112.0,670.0 1113.2,680.3 1115.0,690.0C1116.8,699.7 1120.8,713.3 1122.0,718.0" fill="none" stroke="#c0372c" stroke-width="12.0" stroke-linecap="butt" stroke-linejoin="round" />
<path d="M1076.7,322.0C1070.2,325.9 1070.0,337.8 1064.8,345.7C1059.6,353.6 1052.0,362.8 1045.7,369.5C1039.4,376.2 1031.5,380.6 1026.7,386.2C1021.9,391.8 1018.5,398.5 1017.1,402.9C1015.7,407.3 1016.7,410.0 1018.3,412.4C1019.9,414.8 1023.3,417.5 1026.7,417.1C1030.1,416.7 1034.6,414.0 1038.6,410.0C1042.6,406.0 1045.3,398.1 1050.5,393.3C1055.7,388.5 1064.0,386.1 1069.5,381.4C1075.0,376.6 1079.0,371.1 1083.8,364.8C1088.6,358.5 1094.7,350.4 1098.1,343.3C1101.5,336.2 1107.6,325.6 1104.0,322.0C1100.4,318.4 1083.2,318.1 1076.7,322.0Z" fill="#3da550" stroke="#1b7535" stroke-width="3.4" stroke-linecap="round" stroke-linejoin="round" />
<path d="M1062.4,439.8C1060.2,437.8 1055.7,434.0 1050.5,433.8C1045.3,433.6 1037.4,435.4 1031.4,438.6C1025.5,441.8 1019.9,446.5 1014.8,452.9C1009.6,459.2 1005.3,468.8 1000.5,476.7C995.7,484.6 989.6,493.8 986.2,500.5C982.8,507.2 980.6,512.7 980.2,517.1C979.8,521.5 981.2,525.3 983.8,526.7C986.4,528.1 992.1,527.9 995.7,525.5C999.3,523.1 1001.6,517.4 1005.2,512.4C1008.8,507.4 1012.7,500.9 1017.1,495.7C1021.5,490.5 1026.2,486.2 1031.4,481.4C1036.6,476.6 1043.3,471.5 1048.1,467.1C1052.9,462.7 1057.4,458.8 1060.0,455.2C1062.6,451.6 1063.2,448.3 1063.6,445.7C1064.0,443.1 1064.6,441.8 1062.4,439.8Z" fill="#3da550" stroke="#1b7535" stroke-width="3.4" stroke-linecap="round" stroke-linejoin="round" />
<path d="M1037.4,540.5C1036.6,537.3 1034.4,532.6 1031.4,531.0C1028.4,529.4 1023.9,529.0 1019.5,531.0C1015.1,533.0 1009.2,537.8 1005.2,542.9C1001.2,548.0 997.9,555.2 995.7,561.9C993.5,568.6 993.1,575.8 992.1,583.3C991.1,590.8 990.2,599.1 989.8,607.1C989.4,615.1 988.8,624.9 989.8,631.0C990.8,637.1 993.1,641.6 995.7,644.0C998.3,646.4 1002.6,647.0 1005.2,645.2C1007.8,643.4 1010.0,638.8 1011.2,633.3C1012.4,627.8 1011.0,618.2 1012.4,611.9C1013.8,605.5 1017.9,601.2 1019.5,595.2C1021.1,589.2 1020.3,581.8 1021.9,576.2C1023.5,570.7 1026.6,566.3 1029.0,561.9C1031.4,557.5 1034.8,553.6 1036.2,550.0C1037.6,546.4 1038.2,543.7 1037.4,540.5Z" fill="#3da550" stroke="#1b7535" stroke-width="3.4" stroke-linecap="round" stroke-linejoin="round" />
<path d="M1043.3,633.3C1040.5,634.3 1036.6,636.9 1033.8,640.5C1031.0,644.1 1028.7,649.2 1026.7,654.8C1024.7,660.3 1022.5,667.1 1021.9,673.8C1021.3,680.5 1022.2,688.2 1023.1,695.2C1024.0,702.2 1019.9,712.5 1027.5,716.0C1035.2,719.5 1063.6,719.1 1069.0,716.0C1074.4,712.9 1062.3,703.4 1060.0,697.6C1057.7,691.8 1055.8,687.0 1055.2,681.0C1054.6,675.0 1056.2,667.9 1056.4,661.9C1056.6,655.9 1057.4,649.8 1056.4,645.2C1055.4,640.6 1052.7,636.5 1050.5,634.5C1048.3,632.5 1046.1,632.3 1043.3,633.3Z" fill="#3da550" stroke="#1b7535" stroke-width="3.4" stroke-linecap="round" stroke-linejoin="round" />
<ellipse cx="1063.6" cy="370.0" rx="7.6" ry="5.0" fill="#0d0d0d" stroke="none" stroke-width="0" transform="rotate(-38 1063.6 370.0)" />
<ellipse cx="1016.0" cy="469.8" rx="4.2" ry="6.8" fill="#0d0d0d" stroke="none" stroke-width="0" transform="rotate(14 1016.0 469.8)" />
<ellipse cx="1008.1" cy="591.7" rx="4.4" ry="7.2" fill="#0d0d0d" stroke="none" stroke-width="0" transform="rotate(4 1008.1 591.7)" />
<ellipse cx="1042.1" cy="703.6" rx="4.0" ry="9.5" fill="#0d0d0d" stroke="none" stroke-width="0" transform="rotate(-38 1042.1 703.6)" />
<circle cx="1002.1" cy="420.0" r="10.6" fill="#fbd993" stroke="#0d0d0d" stroke-width="2.0" />
<circle cx="985.0" cy="421.4" r="10.6" fill="#fbd993" stroke="#0d0d0d" stroke-width="2.0" />
<circle cx="992.9" cy="436.2" r="10.6" fill="#fbd993" stroke="#0d0d0d" stroke-width="2.0" />
<circle cx="1042.9" cy="420.0" r="10.6" fill="#fbd993" stroke="#0d0d0d" stroke-width="2.0" />
<circle cx="1061.9" cy="404.0" r="10.6" fill="#fbd993" stroke="#0d0d0d" stroke-width="2.0" />
<circle cx="1060.5" cy="421.9" r="10.6" fill="#fbd993" stroke="#0d0d0d" stroke-width="2.0" />
<circle cx="980.2" cy="479.5" r="10.6" fill="#fbd993" stroke="#0d0d0d" stroke-width="2.0" />
<circle cx="964.0" cy="469.5" r="10.6" fill="#fbd993" stroke="#0d0d0d" stroke-width="2.0" />
<circle cx="966.0" cy="487.4" r="10.6" fill="#fbd993" stroke="#0d0d0d" stroke-width="2.0" />
<circle cx="1012.4" cy="519.5" r="10.4" fill="#fbd993" stroke="#0d0d0d" stroke-width="2.0" />
<circle cx="1023.8" cy="504.0" r="10.4" fill="#fbd993" stroke="#0d0d0d" stroke-width="2.0" />
<circle cx="1029.5" cy="521.9" r="10.4" fill="#fbd993" stroke="#0d0d0d" stroke-width="2.0" />
<circle cx="1044.5" cy="625.0" r="10.4" fill="#fbd993" stroke="#0d0d0d" stroke-width="2.0" />
<circle cx="1025.5" cy="632.1" r="10.4" fill="#fbd993" stroke="#0d0d0d" stroke-width="2.0" />
<circle cx="1030.2" cy="619.0" r="10.4" fill="#fbd993" stroke="#0d0d0d" stroke-width="2.0" />
<circle cx="953.6" cy="658.3" r="10.6" fill="#fbd993" stroke="#0d0d0d" stroke-width="2.0" />
<circle cx="943.8" cy="641.7" r="10.6" fill="#fbd993" stroke="#0d0d0d" stroke-width="2.0" />
<circle cx="961.9" cy="642.9" r="10.6" fill="#fbd993" stroke="#0d0d0d" stroke-width="2.0" />
<circle cx="1129.0" cy="404.8" r="7.2" fill="#fbd993" stroke="#0d0d0d" stroke-width="2.0" />
<circle cx="1144.5" cy="407.1" r="7.2" fill="#fbd993" stroke="#0d0d0d" stroke-width="2.0" />
<circle cx="1134.5" cy="418.3" r="7.2" fill="#fbd993" stroke="#0d0d0d" stroke-width="2.0" />
<ellipse cx="1206.0" cy="552.0" rx="59.5" ry="62.0" fill="#a8639d" stroke="#6b4763" stroke-width="2.8" />
<path d="M1307.2,472.9C1306.1,473.0 1304.5,471.6 1303.9,476.1C1303.3,480.6 1304.2,492.0 1303.7,499.8C1303.2,507.6 1302.3,516.3 1300.7,523.0C1299.1,529.7 1296.8,535.0 1294.2,540.1C1291.7,545.3 1288.3,549.4 1285.4,553.8C1282.6,558.2 1278.2,563.5 1277.1,566.6C1276.0,569.7 1277.5,571.7 1278.8,572.5C1280.1,573.3 1282.6,573.8 1284.9,571.4C1287.2,569.0 1289.7,562.8 1292.6,558.2C1295.4,553.6 1299.0,549.4 1301.8,543.9C1304.5,538.3 1307.5,532.3 1309.3,525.0C1311.0,517.7 1312.1,508.4 1312.3,500.2C1312.5,492.0 1311.5,480.4 1310.7,475.9C1309.9,471.4 1308.3,472.9 1307.2,472.9Z" fill="#7d9c5c" stroke="#1e2412" stroke-width="2.8" stroke-linecap="round" stroke-linejoin="round" />
<path d="M1322.7,453.0C1320.8,453.1 1318.3,453.8 1317.4,458.4C1316.6,462.9 1317.4,472.6 1317.5,480.3C1317.6,488.0 1318.0,496.7 1317.8,504.8C1317.6,512.9 1317.2,521.5 1316.1,528.8C1315.0,536.1 1313.7,541.8 1310.9,548.4C1308.2,555.0 1303.5,562.8 1299.7,568.4C1295.8,574.1 1291.4,578.6 1287.8,582.6C1284.3,586.5 1279.9,589.0 1278.4,592.2C1277.0,595.3 1277.5,600.0 1279.2,601.6C1280.9,603.2 1285.4,603.5 1288.6,601.8C1291.7,600.1 1294.5,595.8 1298.2,591.4C1301.8,587.1 1306.2,581.9 1310.3,575.6C1314.5,569.2 1319.8,561.0 1323.1,553.6C1326.3,546.2 1328.4,539.3 1329.9,531.2C1331.4,523.1 1331.9,513.8 1332.2,505.2C1332.5,496.6 1332.1,487.6 1331.5,479.7C1330.9,471.8 1330.1,462.1 1328.6,457.6C1327.1,453.2 1324.5,452.8 1322.7,453.0Z" fill="#7d9c5c" stroke="#1e2412" stroke-width="2.8" stroke-linecap="round" stroke-linejoin="round" />
<path d="M1343.2,472.0C1341.7,472.1 1339.7,471.6 1339.0,476.2C1338.3,480.9 1339.6,491.7 1339.2,499.8C1338.8,508.0 1338.0,517.1 1336.5,524.9C1335.0,532.8 1332.8,539.7 1330.0,547.0C1327.1,554.2 1323.0,562.1 1319.5,568.4C1315.9,574.8 1311.5,580.8 1308.5,585.0C1305.6,589.2 1302.6,590.9 1301.8,593.6C1301.0,596.3 1301.9,600.1 1303.4,601.2C1305.0,602.4 1308.9,602.1 1311.2,600.4C1313.5,598.7 1314.6,595.5 1317.5,591.0C1320.4,586.5 1324.8,580.2 1328.5,573.6C1332.3,566.9 1336.9,558.8 1340.0,551.0C1343.2,543.3 1345.8,535.6 1347.5,527.1C1349.2,518.6 1349.9,508.7 1350.0,500.2C1350.0,491.6 1348.9,480.5 1347.8,475.8C1346.7,471.1 1344.7,472.0 1343.2,472.0Z" fill="#7d9c5c" stroke="#1e2412" stroke-width="2.8" stroke-linecap="round" stroke-linejoin="round" />
<circle cx="1294" cy="510" r="20.6" fill="#f8cfc6" fill-opacity="0.66" stroke="#9a8482" stroke-opacity="0.75" stroke-width="2.2"/>
<circle cx="1286.3" cy="504.8" r="7.1" fill="#f9d684" stroke="#0d0d0d" stroke-width="1.9" />
<circle cx="1301.3" cy="507.2" r="7.1" fill="#f9d684" stroke="#0d0d0d" stroke-width="1.9" />
<circle cx="1291.6" cy="517.8" r="7.1" fill="#f9d684" stroke="#0d0d0d" stroke-width="1.9" />
<circle cx="1241.0" cy="410.8" r="21.0" fill="#f5b9ad" stroke="#1a0a08" stroke-width="3.2" />
<circle cx="1232.5" cy="405.2" r="7.2" fill="#f9d684" stroke="#0d0d0d" stroke-width="2.1" />
<circle cx="1248.2" cy="406.9" r="7.2" fill="#f9d684" stroke="#0d0d0d" stroke-width="2.1" />
<circle cx="1238.6" cy="419.0" r="7.2" fill="#f9d684" stroke="#0d0d0d" stroke-width="2.1" />
<circle cx="1350.7" cy="567.0" r="15.2" fill="#f7cb6c" stroke="#0d0d0d" stroke-width="2.6" />
<circle cx="1445.9" cy="627.8" r="12.9" fill="#f8d07a" stroke="#0d0d0d" stroke-width="2.6" />
<ellipse cx="1550.0" cy="637.0" rx="11.6" ry="13.6" fill="#f2b74e" stroke="#0d0d0d" stroke-width="2.6" />
<line x1="1217.0" y1="409.5" x2="1194.0" y2="410.2" stroke="#0d0d0d" stroke-width="3.2" stroke-linecap="butt"/>
<polygon points="1178.0,410.4 1197.4,403.3 1197.6,416.8" fill="#0d0d0d" stroke="none" stroke-width="0" />
<line x1="1276.0" y1="488.4" x2="1254.5" y2="450.5" stroke="#0d0d0d" stroke-width="3.2" stroke-linecap="butt"/>
<polygon points="1246.4,435.8 1262.4,450.9 1250.6,457.5" fill="#0d0d0d" stroke="none" stroke-width="0" />
<path d="M1429,624 Q1398,614 1376,592" fill="none" stroke="#0d0d0d" stroke-width="3.2"/>
<polygon points="1364.5,580.5 1383.6,589.5 1374.3,599.2" fill="#0d0d0d" stroke="none" stroke-width="0" />
<path d="M1117,408.5 Q1098,399.5 1084,406.5" fill="none" stroke="#0d0d0d" stroke-width="3.0"/>
<polygon points="1073.5,412.5 1083.6,401.6 1088.2,410.5" fill="#0d0d0d" stroke="none" stroke-width="0" />
<path d="M1010.5,522.5 Q992,529 987.5,544" fill="none" stroke="#0d0d0d" stroke-width="3.0"/>
<polygon points="983.6,557.5 983.2,542.6 992.7,545.7" fill="#0d0d0d" stroke="none" stroke-width="0" />
<line x1="915.9" y1="500.5" x2="915.9" y2="568.0" stroke="#0d0d0d" stroke-width="2.6" stroke-linecap="butt"/>
<path d="M902.9,555 L915.9,569 L928.9,555" fill="none" stroke="#0d0d0d" stroke-width="2.6" stroke-linejoin="miter"/>
</g>
<text x="143.4" y="250.7" font-size="35" textLength="215.1" lengthAdjust="spacingAndGlyphs">Cisterna chyli</text>
<text x="69.8" y="732.6" font-size="35" textLength="361.2" lengthAdjust="spacingAndGlyphs">Mesenteric lymphatics</text>
<text x="124.0" y="811.8" font-size="35" textLength="285.6" lengthAdjust="spacingAndGlyphs">To the mesenteric</text>
<text x="124.4" y="857.5" font-size="35" textLength="183.6" lengthAdjust="spacingAndGlyphs">lymph duct</text>
<text x="549.3" y="172.3" font-size="35" textLength="240.5" lengthAdjust="spacingAndGlyphs">Intestinal villus</text>
<text x="1008.8" y="187.6" font-size="35" textLength="276.9" lengthAdjust="spacingAndGlyphs">Pericellular space</text>
<text x="885.7" y="266.6" font-size="35" textLength="205.9" lengthAdjust="spacingAndGlyphs">Chylomicron</text>
<text x="1300.3" y="272.7" font-size="35" textLength="174.3" lengthAdjust="spacingAndGlyphs">Enterocyte</text>
<text x="1478.1" y="177.7" font-size="35" textLength="150.0" lengthAdjust="spacingAndGlyphs">Intestinal</text>
<text x="1486.7" y="223.5" font-size="35" textLength="103.8" lengthAdjust="spacingAndGlyphs">lumen</text>
<text x="877.0" y="771.8" font-size="35" textLength="114.9" lengthAdjust="spacingAndGlyphs">Lacteal</text>
<text x="1018.0" y="796.4" font-size="35" textLength="430.2" lengthAdjust="spacingAndGlyphs">LECs with button junctions</text>
<text x="1515.6" y="819.8" font-size="35" textLength="81.1" lengthAdjust="spacingAndGlyphs">Lipid</text>
<text x="1483.8" y="865.9" font-size="35" textLength="145.4" lengthAdjust="spacingAndGlyphs">from diet</text>
<line x1="177.8" y1="259.4" x2="206.9" y2="382.2" stroke="#0d0d0d" stroke-width="3.2" stroke-linecap="butt"/>
<line x1="162.8" y1="710.2" x2="222.0" y2="540.0" stroke="#0d0d0d" stroke-width="3.2" stroke-linecap="butt"/>
<line x1="411.0" y1="801.3" x2="500.0" y2="801.3" stroke="#0d0d0d" stroke-width="3.2" stroke-linecap="butt"/>
<line x1="366.0" y1="492.0" x2="586.0" y2="394.0" stroke="#0d0d0d" stroke-width="3.2" stroke-linecap="butt"/>
<line x1="997.0" y1="170.0" x2="719.0" y2="280.5" stroke="#0d0d0d" stroke-width="3.2" stroke-linecap="butt"/>
<line x1="1104.8" y1="195.4" x2="1104.8" y2="381.0" stroke="#0d0d0d" stroke-width="3.2" stroke-linecap="butt"/>
<line x1="996.2" y1="277.0" x2="996.2" y2="407.6" stroke="#0d0d0d" stroke-width="3.2" stroke-linecap="butt"/>
<line x1="1384.7" y1="275.4" x2="1384.7" y2="366.7" stroke="#0d0d0d" stroke-width="3.2" stroke-linecap="butt"/>
<line x1="1545.2" y1="234.9" x2="1545.2" y2="344.5" stroke="#0d0d0d" stroke-width="3.2" stroke-linecap="butt"/>
<line x1="912.6" y1="675.0" x2="912.6" y2="732.5" stroke="#0d0d0d" stroke-width="3.2" stroke-linecap="butt"/>
<line x1="1043.5" y1="668.0" x2="1043.5" y2="758.6" stroke="#0d0d0d" stroke-width="3.2" stroke-linecap="butt"/>
<line x1="1553.5" y1="656.2" x2="1553.5" y2="789.2" stroke="#0d0d0d" stroke-width="3.2" stroke-linecap="butt"/>
<line x1="681.0" y1="602.4" x2="860.0" y2="750.0" stroke="#0d0d0d" stroke-width="3.2" stroke-linecap="butt"/>
<line x1="793.8" y1="382.4" x2="873.0" y2="496.0" stroke="#0d0d0d" stroke-width="3.2" stroke-linecap="butt"/>
<rect x="688.3" y="365" width="105.5" height="17.4" fill="none" stroke="#0d0d0d" stroke-width="3.1"/>
<rect x="327.4" y="484.6" width="38.6" height="29.1" fill="none" stroke="#0d0d0d" stroke-width="3.1"/>
</svg>
</body></html>
